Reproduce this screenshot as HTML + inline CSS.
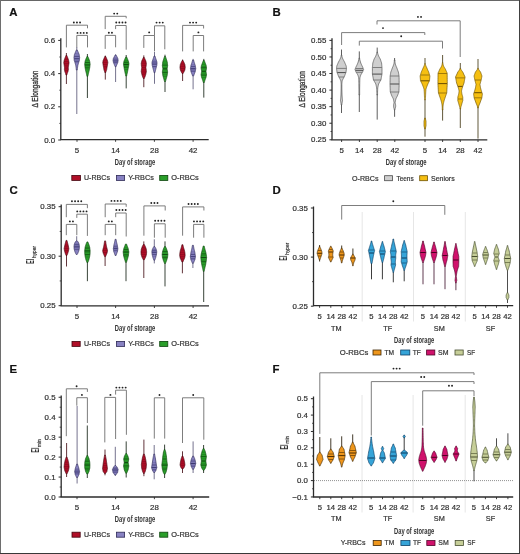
<!DOCTYPE html><html><head><meta charset="utf-8"><style>html,body{margin:0;padding:0;background:#fff}#w{position:relative;width:520px;height:554px;overflow:hidden;background:#fff}svg{position:absolute;left:0;top:0;will-change:transform;filter:blur(0.35px);font-family:"Liberation Sans",sans-serif}</style></head><body><div id="w">
<svg width="520" height="554" viewBox="0 0 520 554">
<rect x="0" y="0" width="520" height="554" fill="#fff"/>
<text x="9.2" y="16.2" font-size="11.4" text-anchor="start" fill="#111" font-weight="bold" stroke="#111" stroke-width="0.2">A</text>
<text x="272.4" y="16.3" font-size="11.4" text-anchor="start" fill="#111" font-weight="bold" stroke="#111" stroke-width="0.2">B</text>
<text x="9.4" y="193.6" font-size="11.4" text-anchor="start" fill="#111" font-weight="bold" stroke="#111" stroke-width="0.2">C</text>
<text x="272.4" y="193.8" font-size="11.4" text-anchor="start" fill="#111" font-weight="bold" stroke="#111" stroke-width="0.2">D</text>
<text x="9.4" y="373.2" font-size="11.4" text-anchor="start" fill="#111" font-weight="bold" stroke="#111" stroke-width="0.2">E</text>
<text x="272.6" y="372.8" font-size="11.4" text-anchor="start" fill="#111" font-weight="bold" stroke="#111" stroke-width="0.2">F</text>
<line x1="60.8" y1="38.3" x2="60.8" y2="139.6" stroke="#2b2b2b" stroke-width="1.3"/>
<line x1="58.199999999999996" y1="140.0" x2="60.8" y2="140.0" stroke="#2b2b2b" stroke-width="1"/>
<line x1="58.199999999999996" y1="106.8" x2="60.8" y2="106.8" stroke="#2b2b2b" stroke-width="1"/>
<line x1="58.199999999999996" y1="73.6" x2="60.8" y2="73.6" stroke="#2b2b2b" stroke-width="1"/>
<line x1="58.199999999999996" y1="40.400000000000006" x2="60.8" y2="40.400000000000006" stroke="#2b2b2b" stroke-width="1"/>
<line x1="59.3" y1="123.4" x2="60.8" y2="123.4" stroke="#2b2b2b" stroke-width="0.8"/>
<line x1="59.3" y1="90.2" x2="60.8" y2="90.2" stroke="#2b2b2b" stroke-width="0.8"/>
<line x1="59.3" y1="57.0" x2="60.8" y2="57.0" stroke="#2b2b2b" stroke-width="0.8"/>
<text x="55.199999999999996" y="142.6" font-size="7.3" text-anchor="end" fill="#333" font-weight="normal" textLength="10.96" lengthAdjust="spacingAndGlyphs" stroke="#333" stroke-width="0.2">0.0</text>
<text x="55.199999999999996" y="109.39999999999999" font-size="7.3" text-anchor="end" fill="#333" font-weight="normal" textLength="10.96" lengthAdjust="spacingAndGlyphs" stroke="#333" stroke-width="0.2">0.2</text>
<text x="55.199999999999996" y="76.19999999999999" font-size="7.3" text-anchor="end" fill="#333" font-weight="normal" textLength="10.96" lengthAdjust="spacingAndGlyphs" stroke="#333" stroke-width="0.2">0.4</text>
<text x="55.199999999999996" y="43.00000000000001" font-size="7.3" text-anchor="end" fill="#333" font-weight="normal" textLength="10.96" lengthAdjust="spacingAndGlyphs" stroke="#333" stroke-width="0.2">0.6</text>
<line x1="60.15" y1="139.6" x2="208.7" y2="139.6" stroke="#2b2b2b" stroke-width="1.3"/>
<line x1="77" y1="139.6" x2="77" y2="141.79999999999998" stroke="#2b2b2b" stroke-width="0.9"/>
<line x1="115.6" y1="139.6" x2="115.6" y2="141.79999999999998" stroke="#2b2b2b" stroke-width="0.9"/>
<line x1="154.4" y1="139.6" x2="154.4" y2="141.79999999999998" stroke="#2b2b2b" stroke-width="0.9"/>
<line x1="193.1" y1="139.6" x2="193.1" y2="141.79999999999998" stroke="#2b2b2b" stroke-width="0.9"/>
<text x="77" y="152.6" font-size="7.3" text-anchor="middle" fill="#333" font-weight="normal" textLength="4.38" lengthAdjust="spacingAndGlyphs" stroke="#333" stroke-width="0.2">5</text>
<text x="115.6" y="152.6" font-size="7.3" text-anchor="middle" fill="#333" font-weight="normal" textLength="8.77" lengthAdjust="spacingAndGlyphs" stroke="#333" stroke-width="0.2">14</text>
<text x="154.4" y="152.6" font-size="7.3" text-anchor="middle" fill="#333" font-weight="normal" textLength="8.77" lengthAdjust="spacingAndGlyphs" stroke="#333" stroke-width="0.2">28</text>
<text x="193.1" y="152.6" font-size="7.3" text-anchor="middle" fill="#333" font-weight="normal" textLength="8.77" lengthAdjust="spacingAndGlyphs" stroke="#333" stroke-width="0.2">42</text>
<text transform="translate(38.3,89) rotate(-90)" x="0" y="0" font-size="9.4" text-anchor="middle" fill="#333" stroke="#333" stroke-width="0.3" textLength="37" lengthAdjust="spacingAndGlyphs">&#916; Elongation</text>
<text x="135" y="165.2" font-size="8.2" text-anchor="middle" fill="#333" font-weight="bold" textLength="40.4" lengthAdjust="spacingAndGlyphs">Day of storage</text>
<rect x="71.80000000000001" y="175.4" width="8.7" height="5.0" fill="#b00f28" stroke="#44040e" stroke-width="0.8"/>
<text x="84" y="180.20000000000002" font-size="7.3" text-anchor="start" fill="#333" font-weight="normal" textLength="26" lengthAdjust="spacingAndGlyphs" stroke="#333" stroke-width="0.2">U-RBCs</text>
<rect x="116.4" y="175.4" width="8.2" height="5.0" fill="#8882c2" stroke="#2e2a56" stroke-width="0.8"/>
<text x="128.2" y="180.20000000000002" font-size="7.3" text-anchor="start" fill="#333" font-weight="normal" textLength="25.6" lengthAdjust="spacingAndGlyphs" stroke="#333" stroke-width="0.2">Y-RBCs</text>
<rect x="159.70000000000002" y="175.4" width="8.099999999999977" height="5.0" fill="#2a9e2a" stroke="#0c440c" stroke-width="0.8"/>
<text x="171.2" y="180.20000000000002" font-size="7.3" text-anchor="start" fill="#333" font-weight="normal" textLength="27.6" lengthAdjust="spacingAndGlyphs" stroke="#333" stroke-width="0.2">O-RBCs</text>
<path d="M66.4,47.4 L66.4,25.2 L87.5,25.2 L87.5,28.3" fill="none" stroke="#6e6e6e" stroke-width="0.9"/>
<circle cx="73.85" cy="22.5" r="0.95" fill="#222"/>
<circle cx="76.95" cy="22.5" r="0.95" fill="#222"/>
<circle cx="80.05" cy="22.5" r="0.95" fill="#222"/>
<path d="M76.8,47.4 L76.8,35.4 L87.5,35.4 L87.5,47.4" fill="none" stroke="#6e6e6e" stroke-width="0.9"/>
<circle cx="77.50" cy="32.9" r="0.95" fill="#222"/>
<circle cx="80.60" cy="32.9" r="0.95" fill="#222"/>
<circle cx="83.70" cy="32.9" r="0.95" fill="#222"/>
<circle cx="86.80" cy="32.9" r="0.95" fill="#222"/>
<path d="M105.2,29.1 L105.2,16.3 L126.2,16.3 L126.2,18.3" fill="none" stroke="#6e6e6e" stroke-width="0.9"/>
<circle cx="114.15" cy="13.6" r="0.95" fill="#222"/>
<circle cx="117.25" cy="13.6" r="0.95" fill="#222"/>
<path d="M115.6,29.1 L115.6,25.5 L126.2,25.5 L126.2,49.7" fill="none" stroke="#6e6e6e" stroke-width="0.9"/>
<circle cx="116.25" cy="22.5" r="0.95" fill="#222"/>
<circle cx="119.35" cy="22.5" r="0.95" fill="#222"/>
<circle cx="122.45" cy="22.5" r="0.95" fill="#222"/>
<circle cx="125.55" cy="22.5" r="0.95" fill="#222"/>
<path d="M105.2,48.9 L105.2,35.4 L115.6,35.4 L115.6,47.3" fill="none" stroke="#6e6e6e" stroke-width="0.9"/>
<circle cx="108.85" cy="32.8" r="0.95" fill="#222"/>
<circle cx="111.95" cy="32.8" r="0.95" fill="#222"/>
<path d="M143.8,47.9 L143.8,35.5 L154.5,35.5 L154.5,51.4" fill="none" stroke="#6e6e6e" stroke-width="0.9"/>
<circle cx="149.15" cy="32.4" r="0.95" fill="#222"/>
<path d="M154.5,35.5 L154.5,25.8 L164.8,25.8 L164.8,49.3" fill="none" stroke="#6e6e6e" stroke-width="0.9"/>
<circle cx="156.55" cy="22.6" r="0.95" fill="#222"/>
<circle cx="159.65" cy="22.6" r="0.95" fill="#222"/>
<circle cx="162.75" cy="22.6" r="0.95" fill="#222"/>
<path d="M182.6,51.4 L182.6,25.4 L203.6,25.4 L203.6,28.5" fill="none" stroke="#6e6e6e" stroke-width="0.9"/>
<circle cx="190.00" cy="22.6" r="0.95" fill="#222"/>
<circle cx="193.10" cy="22.6" r="0.95" fill="#222"/>
<circle cx="196.20" cy="22.6" r="0.95" fill="#222"/>
<path d="M193.2,51.4 L193.2,35.5 L203.6,35.5 L203.6,51.4" fill="none" stroke="#6e6e6e" stroke-width="0.9"/>
<circle cx="198.40" cy="32.4" r="0.95" fill="#222"/>
<line x1="66.4" y1="53" x2="66.4" y2="56.0" stroke="#5a2a30" stroke-width="0.95"/>
<line x1="66.4" y1="74.5" x2="66.4" y2="84" stroke="#5a2a30" stroke-width="0.95"/>
<path d="M66.88,55.50 L67.03,55.90 L67.18,56.30 L67.33,56.70 L67.48,57.10 L67.64,57.50 L67.83,58.00 L68.02,58.50 L68.21,59.00 L68.40,59.50 L68.59,60.00 L68.68,60.56 L68.78,61.12 L68.87,61.68 L68.97,62.24 L69.06,62.80 L68.97,63.34 L68.87,63.88 L68.78,64.42 L68.68,64.96 L68.59,65.50 L68.53,65.90 L68.47,66.30 L68.41,66.70 L68.36,67.10 L68.30,67.50 L68.32,67.90 L68.34,68.30 L68.36,68.70 L68.38,69.10 L68.40,69.50 L68.32,69.90 L68.24,70.30 L68.17,70.70 L68.09,71.10 L68.02,71.50 L67.86,71.90 L67.71,72.30 L67.56,72.70 L67.41,73.10 L67.26,73.50 L67.18,73.80 L67.10,74.10 L67.03,74.40 L66.95,74.70 L66.88,75.00 L65.93,75.00 L65.85,74.70 L65.77,74.40 L65.70,74.10 L65.62,73.80 L65.55,73.50 L65.39,73.10 L65.24,72.70 L65.09,72.30 L64.94,71.90 L64.79,71.50 L64.71,71.10 L64.63,70.70 L64.56,70.30 L64.48,69.90 L64.41,69.50 L64.42,69.10 L64.44,68.70 L64.46,68.30 L64.48,67.90 L64.50,67.50 L64.44,67.10 L64.39,66.70 L64.33,66.30 L64.27,65.90 L64.22,65.50 L64.12,64.96 L64.03,64.42 L63.93,63.88 L63.84,63.34 L63.74,62.80 L63.84,62.24 L63.93,61.68 L64.03,61.12 L64.12,60.56 L64.22,60.00 L64.41,59.50 L64.59,59.00 L64.79,58.50 L64.98,58.00 L65.17,57.50 L65.32,57.10 L65.47,56.70 L65.62,56.30 L65.77,55.90 L65.93,55.50Z" fill="#b00f28" stroke="#44040e" stroke-width="0.65" stroke-linejoin="round"/>
<line x1="64.78" y1="59.30" x2="68.02" y2="59.30" stroke="#44040e" stroke-width="0.45" stroke-opacity="0.55"/>
<line x1="64.26" y1="61.50" x2="68.54" y2="61.50" stroke="#44040e" stroke-width="0.45" stroke-opacity="0.55"/>
<line x1="64.20" y1="63.70" x2="68.60" y2="63.70" stroke="#44040e" stroke-width="0.45" stroke-opacity="0.55"/>
<line x1="64.57" y1="65.90" x2="68.23" y2="65.90" stroke="#44040e" stroke-width="0.45" stroke-opacity="0.55"/>
<line x1="64.77" y1="68.10" x2="68.03" y2="68.10" stroke="#44040e" stroke-width="0.45" stroke-opacity="0.55"/>
<line x1="64.86" y1="70.30" x2="67.94" y2="70.30" stroke="#44040e" stroke-width="0.45" stroke-opacity="0.55"/>
<line x1="76.8" y1="47" x2="76.8" y2="50.5" stroke="#6e6c88" stroke-width="0.95"/>
<line x1="76.8" y1="69.5" x2="76.8" y2="114" stroke="#6e6c88" stroke-width="0.95"/>
<path d="M77.27,50.00 L77.45,50.40 L77.62,50.80 L77.79,51.20 L77.96,51.60 L78.13,52.00 L78.34,52.50 L78.55,53.00 L78.76,53.50 L78.97,54.00 L79.17,54.50 L79.27,55.10 L79.36,55.70 L79.46,56.30 L79.55,56.90 L79.65,57.50 L79.59,58.10 L79.54,58.70 L79.48,59.30 L79.42,59.90 L79.36,60.50 L79.19,61.00 L79.02,61.50 L78.85,62.00 L78.68,62.50 L78.51,63.00 L78.38,63.50 L78.24,64.00 L78.11,64.50 L77.98,65.00 L77.84,65.50 L77.77,66.00 L77.69,66.50 L77.62,67.00 L77.54,67.50 L77.47,68.00 L77.43,68.40 L77.39,68.80 L77.35,69.20 L77.31,69.60 L77.27,70.00 L76.33,70.00 L76.29,69.60 L76.25,69.20 L76.21,68.80 L76.17,68.40 L76.13,68.00 L76.06,67.50 L75.98,67.00 L75.91,66.50 L75.83,66.00 L75.75,65.50 L75.62,65.00 L75.49,64.50 L75.36,64.00 L75.22,63.50 L75.09,63.00 L74.92,62.50 L74.75,62.00 L74.58,61.50 L74.41,61.00 L74.23,60.50 L74.18,59.90 L74.12,59.30 L74.06,58.70 L74.01,58.10 L73.95,57.50 L74.05,56.90 L74.14,56.30 L74.23,55.70 L74.33,55.10 L74.42,54.50 L74.63,54.00 L74.84,53.50 L75.05,53.00 L75.26,52.50 L75.47,52.00 L75.64,51.60 L75.81,51.20 L75.98,50.80 L76.15,50.40 L76.33,50.00Z" fill="#8882c2" stroke="#2e2a56" stroke-width="0.65" stroke-linejoin="round"/>
<line x1="75.02" y1="53.80" x2="78.58" y2="53.80" stroke="#2e2a56" stroke-width="0.45" stroke-opacity="0.55"/>
<line x1="74.49" y1="56.00" x2="79.11" y2="56.00" stroke="#2e2a56" stroke-width="0.45" stroke-opacity="0.55"/>
<line x1="74.32" y1="58.20" x2="79.28" y2="58.20" stroke="#2e2a56" stroke-width="0.45" stroke-opacity="0.55"/>
<line x1="74.53" y1="60.40" x2="79.07" y2="60.40" stroke="#2e2a56" stroke-width="0.45" stroke-opacity="0.55"/>
<line x1="75.25" y1="62.60" x2="78.35" y2="62.60" stroke="#2e2a56" stroke-width="0.45" stroke-opacity="0.55"/>
<line x1="74.35833333333333" y1="56.5" x2="79.24166666666666" y2="56.5" stroke="#36326a" stroke-width="0.55"/>
<line x1="74.3235" y1="58.8" x2="79.2765" y2="58.8" stroke="#36326a" stroke-width="0.9"/>
<line x1="74.827" y1="61.5" x2="78.773" y2="61.5" stroke="#36326a" stroke-width="0.55"/>
<line x1="87.4" y1="54" x2="87.4" y2="57.0" stroke="#2e3a2e" stroke-width="0.95"/>
<line x1="87.4" y1="75.8" x2="87.4" y2="98" stroke="#2e3a2e" stroke-width="0.95"/>
<path d="M87.88,56.50 L88.05,56.90 L88.22,57.30 L88.39,57.70 L88.56,58.10 L88.73,58.50 L88.92,59.00 L89.11,59.50 L89.30,60.00 L89.49,60.50 L89.68,61.00 L89.78,61.64 L89.87,62.28 L89.97,62.92 L90.06,63.56 L90.16,64.20 L90.08,64.86 L90.00,65.52 L89.93,66.18 L89.85,66.84 L89.78,67.50 L89.66,68.10 L89.55,68.70 L89.43,69.30 L89.32,69.90 L89.21,70.50 L89.05,71.10 L88.90,71.70 L88.75,72.30 L88.60,72.90 L88.45,73.50 L88.33,74.06 L88.22,74.62 L88.10,75.18 L87.99,75.74 L87.88,76.30 L86.93,76.30 L86.81,75.74 L86.70,75.18 L86.58,74.62 L86.47,74.06 L86.36,73.50 L86.20,72.90 L86.05,72.30 L85.90,71.70 L85.75,71.10 L85.59,70.50 L85.48,69.90 L85.37,69.30 L85.25,68.70 L85.14,68.10 L85.03,67.50 L84.95,66.84 L84.87,66.18 L84.80,65.52 L84.72,64.86 L84.65,64.20 L84.74,63.56 L84.84,62.92 L84.93,62.28 L85.03,61.64 L85.12,61.00 L85.31,60.50 L85.50,60.00 L85.69,59.50 L85.88,59.00 L86.07,58.50 L86.24,58.10 L86.41,57.70 L86.58,57.30 L86.75,56.90 L86.93,56.50Z" fill="#2a9e2a" stroke="#0c440c" stroke-width="0.65" stroke-linejoin="round"/>
<line x1="85.69" y1="60.30" x2="89.11" y2="60.30" stroke="#0c440c" stroke-width="0.45" stroke-opacity="0.55"/>
<line x1="85.20" y1="62.50" x2="89.60" y2="62.50" stroke="#0c440c" stroke-width="0.45" stroke-opacity="0.55"/>
<line x1="85.00" y1="64.70" x2="89.80" y2="64.70" stroke="#0c440c" stroke-width="0.45" stroke-opacity="0.55"/>
<line x1="85.26" y1="66.90" x2="89.54" y2="66.90" stroke="#0c440c" stroke-width="0.45" stroke-opacity="0.55"/>
<line x1="85.63" y1="69.10" x2="89.17" y2="69.10" stroke="#0c440c" stroke-width="0.45" stroke-opacity="0.55"/>
<line x1="85.14734375" y1="62.5" x2="89.65265625" y2="62.5" stroke="#0c440c" stroke-width="0.55"/>
<line x1="84.98712121212122" y1="65" x2="89.81287878787879" y2="65" stroke="#0c440c" stroke-width="0.9"/>
<line x1="85.33200000000001" y1="67.8" x2="89.468" y2="67.8" stroke="#0c440c" stroke-width="0.55"/>
<line x1="105.3" y1="55.6" x2="105.3" y2="57.0" stroke="#5a2a30" stroke-width="0.95"/>
<line x1="105.3" y1="72.0" x2="105.3" y2="79.6" stroke="#5a2a30" stroke-width="0.95"/>
<path d="M105.77,56.50 L105.95,56.90 L106.12,57.30 L106.29,57.70 L106.46,58.10 L106.63,58.50 L106.80,58.90 L106.97,59.30 L107.14,59.70 L107.31,60.10 L107.48,60.50 L107.56,60.92 L107.64,61.34 L107.71,61.76 L107.79,62.18 L107.86,62.60 L107.79,63.08 L107.71,63.56 L107.64,64.04 L107.56,64.52 L107.48,65.00 L107.39,65.50 L107.30,66.00 L107.20,66.50 L107.10,67.00 L107.01,67.50 L106.95,67.90 L106.90,68.30 L106.84,68.70 L106.78,69.10 L106.72,69.50 L106.63,69.80 L106.53,70.10 L106.44,70.40 L106.34,70.70 L106.25,71.00 L106.16,71.30 L106.06,71.60 L105.97,71.90 L105.87,72.20 L105.77,72.50 L104.83,72.50 L104.73,72.20 L104.63,71.90 L104.54,71.60 L104.44,71.30 L104.35,71.00 L104.25,70.70 L104.16,70.40 L104.06,70.10 L103.97,69.80 L103.88,69.50 L103.82,69.10 L103.76,68.70 L103.70,68.30 L103.65,67.90 L103.59,67.50 L103.50,67.00 L103.40,66.50 L103.30,66.00 L103.21,65.50 L103.11,65.00 L103.04,64.52 L102.96,64.04 L102.89,63.56 L102.81,63.08 L102.73,62.60 L102.81,62.18 L102.89,61.76 L102.96,61.34 L103.04,60.92 L103.11,60.50 L103.29,60.10 L103.46,59.70 L103.63,59.30 L103.80,58.90 L103.97,58.50 L104.14,58.10 L104.31,57.70 L104.48,57.30 L104.65,56.90 L104.83,56.50Z" fill="#b00f28" stroke="#44040e" stroke-width="0.65" stroke-linejoin="round"/>
<line x1="103.59" y1="60.10" x2="107.01" y2="60.10" stroke="#44040e" stroke-width="0.45" stroke-opacity="0.55"/>
<line x1="103.09" y1="62.30" x2="107.51" y2="62.30" stroke="#44040e" stroke-width="0.45" stroke-opacity="0.55"/>
<line x1="103.34" y1="64.50" x2="107.26" y2="64.50" stroke="#44040e" stroke-width="0.45" stroke-opacity="0.55"/>
<line x1="103.74" y1="66.70" x2="106.86" y2="66.70" stroke="#44040e" stroke-width="0.45" stroke-opacity="0.55"/>
<line x1="115.6" y1="54.4" x2="115.6" y2="55.5" stroke="#6e6c88" stroke-width="0.95"/>
<line x1="115.6" y1="66.2" x2="115.6" y2="82" stroke="#6e6c88" stroke-width="0.95"/>
<path d="M116.07,55.00 L116.23,55.30 L116.38,55.60 L116.53,55.90 L116.68,56.20 L116.83,56.50 L117.02,56.86 L117.21,57.22 L117.41,57.58 L117.59,57.94 L117.78,58.30 L117.86,58.70 L117.94,59.10 L118.01,59.50 L118.09,59.90 L118.16,60.30 L118.09,60.74 L118.01,61.18 L117.94,61.62 L117.86,62.06 L117.78,62.50 L117.61,62.90 L117.44,63.30 L117.27,63.70 L117.10,64.10 L116.93,64.50 L116.76,64.94 L116.59,65.38 L116.42,65.82 L116.25,66.26 L116.07,66.70 L115.12,66.70 L114.95,66.26 L114.78,65.82 L114.61,65.38 L114.44,64.94 L114.27,64.50 L114.10,64.10 L113.93,63.70 L113.76,63.30 L113.59,62.90 L113.41,62.50 L113.34,62.06 L113.26,61.62 L113.19,61.18 L113.11,60.74 L113.03,60.30 L113.11,59.90 L113.19,59.50 L113.26,59.10 L113.34,58.70 L113.41,58.30 L113.60,57.94 L113.79,57.58 L113.98,57.22 L114.17,56.86 L114.36,56.50 L114.52,56.20 L114.67,55.90 L114.82,55.60 L114.97,55.30 L115.12,55.00Z" fill="#8882c2" stroke="#2e2a56" stroke-width="0.65" stroke-linejoin="round"/>
<line x1="113.86" y1="58.02" x2="117.34" y2="58.02" stroke="#2e2a56" stroke-width="0.45" stroke-opacity="0.55"/>
<line x1="113.35" y1="60.22" x2="117.85" y2="60.22" stroke="#2e2a56" stroke-width="0.45" stroke-opacity="0.55"/>
<line x1="113.70" y1="62.42" x2="117.50" y2="62.42" stroke="#2e2a56" stroke-width="0.45" stroke-opacity="0.55"/>
<line x1="113.494" y1="59.2" x2="117.70599999999999" y2="59.2" stroke="#36326a" stroke-width="0.55"/>
<line x1="113.40590909090909" y1="61" x2="117.7940909090909" y2="61" stroke="#36326a" stroke-width="0.9"/>
<line x1="113.79325" y1="62.8" x2="117.40674999999999" y2="62.8" stroke="#36326a" stroke-width="0.55"/>
<line x1="126.2" y1="55" x2="126.2" y2="57.5" stroke="#2e3a2e" stroke-width="0.95"/>
<line x1="126.2" y1="75.5" x2="126.2" y2="88.4" stroke="#2e3a2e" stroke-width="0.95"/>
<path d="M126.67,57.00 L126.85,57.40 L127.02,57.80 L127.19,58.20 L127.36,58.60 L127.53,59.00 L127.72,59.46 L127.91,59.92 L128.10,60.38 L128.29,60.84 L128.48,61.30 L128.57,61.80 L128.67,62.30 L128.77,62.80 L128.86,63.30 L128.96,63.80 L128.88,64.34 L128.80,64.88 L128.73,65.42 L128.65,65.96 L128.57,66.50 L128.46,67.10 L128.35,67.70 L128.23,68.30 L128.12,68.90 L128.00,69.50 L127.89,70.10 L127.78,70.70 L127.66,71.30 L127.55,71.90 L127.44,72.50 L127.34,72.90 L127.25,73.30 L127.15,73.70 L127.06,74.10 L126.96,74.50 L126.90,74.80 L126.85,75.10 L126.79,75.40 L126.73,75.70 L126.67,76.00 L125.73,76.00 L125.67,75.70 L125.61,75.40 L125.55,75.10 L125.50,74.80 L125.44,74.50 L125.34,74.10 L125.25,73.70 L125.16,73.30 L125.06,72.90 L124.97,72.50 L124.85,71.90 L124.74,71.30 L124.62,70.70 L124.51,70.10 L124.39,69.50 L124.28,68.90 L124.17,68.30 L124.05,67.70 L123.94,67.10 L123.83,66.50 L123.75,65.96 L123.67,65.42 L123.60,64.88 L123.52,64.34 L123.45,63.80 L123.54,63.30 L123.64,62.80 L123.73,62.30 L123.83,61.80 L123.92,61.30 L124.11,60.84 L124.30,60.38 L124.49,59.92 L124.68,59.46 L124.87,59.00 L125.04,58.60 L125.21,58.20 L125.38,57.80 L125.55,57.40 L125.73,57.00Z" fill="#2a9e2a" stroke="#0c440c" stroke-width="0.65" stroke-linejoin="round"/>
<line x1="124.46" y1="60.72" x2="127.94" y2="60.72" stroke="#0c440c" stroke-width="0.45" stroke-opacity="0.55"/>
<line x1="123.91" y1="62.92" x2="128.49" y2="62.92" stroke="#0c440c" stroke-width="0.45" stroke-opacity="0.55"/>
<line x1="123.93" y1="65.12" x2="128.47" y2="65.12" stroke="#0c440c" stroke-width="0.45" stroke-opacity="0.55"/>
<line x1="124.28" y1="67.32" x2="128.12" y2="67.32" stroke="#0c440c" stroke-width="0.45" stroke-opacity="0.55"/>
<line x1="124.70" y1="69.52" x2="127.70" y2="69.52" stroke="#0c440c" stroke-width="0.45" stroke-opacity="0.55"/>
<line x1="123.98" y1="62.3" x2="128.42000000000002" y2="62.3" stroke="#0c440c" stroke-width="0.55"/>
<line x1="123.79351851851852" y1="64.5" x2="128.6064814814815" y2="64.5" stroke="#0c440c" stroke-width="0.9"/>
<line x1="124.17" y1="67" x2="128.23" y2="67" stroke="#0c440c" stroke-width="0.55"/>
<line x1="143.8" y1="55.4" x2="143.8" y2="58.0" stroke="#5a2a30" stroke-width="0.95"/>
<line x1="143.8" y1="78.0" x2="143.8" y2="87.2" stroke="#5a2a30" stroke-width="0.95"/>
<path d="M144.28,57.50 L144.41,57.80 L144.54,58.10 L144.67,58.40 L144.81,58.70 L144.94,59.00 L145.13,59.40 L145.32,59.80 L145.51,60.20 L145.70,60.60 L145.89,61.00 L145.99,61.50 L146.08,62.00 L146.18,62.50 L146.27,63.00 L146.37,63.50 L146.33,64.00 L146.29,64.50 L146.25,65.00 L146.21,65.50 L146.18,66.00 L146.12,66.30 L146.06,66.60 L146.00,66.90 L145.95,67.20 L145.89,67.50 L145.95,67.90 L146.00,68.30 L146.06,68.70 L146.12,69.10 L146.18,69.50 L146.21,69.90 L146.25,70.30 L146.29,70.70 L146.33,71.10 L146.37,71.50 L146.27,72.00 L146.18,72.50 L146.08,73.00 L145.99,73.50 L145.89,74.00 L145.74,74.50 L145.59,75.00 L145.43,75.50 L145.28,76.00 L145.13,76.50 L144.96,76.90 L144.79,77.30 L144.62,77.70 L144.45,78.10 L144.28,78.50 L143.33,78.50 L143.15,78.10 L142.98,77.70 L142.81,77.30 L142.64,76.90 L142.47,76.50 L142.32,76.00 L142.17,75.50 L142.01,75.00 L141.86,74.50 L141.71,74.00 L141.62,73.50 L141.52,73.00 L141.43,72.50 L141.33,72.00 L141.24,71.50 L141.27,71.10 L141.31,70.70 L141.35,70.30 L141.39,69.90 L141.43,69.50 L141.48,69.10 L141.54,68.70 L141.60,68.30 L141.65,67.90 L141.71,67.50 L141.65,67.20 L141.60,66.90 L141.54,66.60 L141.48,66.30 L141.43,66.00 L141.39,65.50 L141.35,65.00 L141.31,64.50 L141.27,64.00 L141.24,63.50 L141.33,63.00 L141.43,62.50 L141.52,62.00 L141.62,61.50 L141.71,61.00 L141.90,60.60 L142.09,60.20 L142.28,59.80 L142.47,59.40 L142.66,59.00 L142.79,58.70 L142.93,58.40 L143.06,58.10 L143.19,57.80 L143.33,57.50Z" fill="#b00f28" stroke="#44040e" stroke-width="0.65" stroke-linejoin="round"/>
<line x1="142.01" y1="61.00" x2="145.59" y2="61.00" stroke="#44040e" stroke-width="0.45" stroke-opacity="0.55"/>
<line x1="141.59" y1="63.20" x2="146.01" y2="63.20" stroke="#44040e" stroke-width="0.45" stroke-opacity="0.55"/>
<line x1="141.68" y1="65.40" x2="145.92" y2="65.40" stroke="#44040e" stroke-width="0.45" stroke-opacity="0.55"/>
<line x1="142.00" y1="67.60" x2="145.60" y2="67.60" stroke="#44040e" stroke-width="0.45" stroke-opacity="0.55"/>
<line x1="141.70" y1="69.80" x2="145.90" y2="69.80" stroke="#44040e" stroke-width="0.45" stroke-opacity="0.55"/>
<line x1="141.63" y1="72.00" x2="145.97" y2="72.00" stroke="#44040e" stroke-width="0.45" stroke-opacity="0.55"/>
<line x1="142.07" y1="74.20" x2="145.53" y2="74.20" stroke="#44040e" stroke-width="0.45" stroke-opacity="0.55"/>
<line x1="154.5" y1="52" x2="154.5" y2="56.5" stroke="#6e6c88" stroke-width="0.95"/>
<line x1="154.5" y1="72.2" x2="154.5" y2="83.8" stroke="#6e6c88" stroke-width="0.95"/>
<path d="M154.97,56.00 L155.13,56.50 L155.28,57.00 L155.43,57.50 L155.58,58.00 L155.74,58.50 L155.93,59.00 L156.12,59.50 L156.31,60.00 L156.50,60.50 L156.69,61.00 L156.76,61.40 L156.84,61.80 L156.91,62.20 L156.99,62.60 L157.06,63.00 L157.01,63.50 L156.95,64.00 L156.89,64.50 L156.84,65.00 L156.78,65.50 L156.65,66.00 L156.51,66.50 L156.38,67.00 L156.25,67.50 L156.12,68.00 L155.98,68.50 L155.85,69.00 L155.72,69.50 L155.58,70.00 L155.45,70.50 L155.35,70.94 L155.26,71.38 L155.16,71.82 L155.07,72.26 L154.97,72.70 L154.03,72.70 L153.93,72.26 L153.84,71.82 L153.74,71.38 L153.65,70.94 L153.55,70.50 L153.42,70.00 L153.28,69.50 L153.15,69.00 L153.02,68.50 L152.88,68.00 L152.75,67.50 L152.62,67.00 L152.49,66.50 L152.35,66.00 L152.22,65.50 L152.16,65.00 L152.11,64.50 L152.05,64.00 L151.99,63.50 L151.94,63.00 L152.01,62.60 L152.09,62.20 L152.16,61.80 L152.24,61.40 L152.31,61.00 L152.50,60.50 L152.69,60.00 L152.88,59.50 L153.07,59.00 L153.26,58.50 L153.42,58.00 L153.57,57.50 L153.72,57.00 L153.87,56.50 L154.03,56.00Z" fill="#8882c2" stroke="#2e2a56" stroke-width="0.65" stroke-linejoin="round"/>
<line x1="152.88" y1="60.30" x2="156.12" y2="60.30" stroke="#2e2a56" stroke-width="0.45" stroke-opacity="0.55"/>
<line x1="152.33" y1="62.50" x2="156.67" y2="62.50" stroke="#2e2a56" stroke-width="0.45" stroke-opacity="0.55"/>
<line x1="152.43" y1="64.70" x2="156.57" y2="64.70" stroke="#2e2a56" stroke-width="0.45" stroke-opacity="0.55"/>
<line x1="152.89" y1="66.90" x2="156.11" y2="66.90" stroke="#2e2a56" stroke-width="0.45" stroke-opacity="0.55"/>
<line x1="152.413" y1="61.8" x2="156.587" y2="61.8" stroke="#36326a" stroke-width="0.55"/>
<line x1="152.299" y1="64" x2="156.701" y2="64" stroke="#36326a" stroke-width="0.9"/>
<line x1="152.736" y1="66.5" x2="156.264" y2="66.5" stroke="#36326a" stroke-width="0.55"/>
<line x1="165.0" y1="54.7" x2="165.0" y2="57.0" stroke="#2e3a2e" stroke-width="0.95"/>
<line x1="165.0" y1="81.0" x2="165.0" y2="92" stroke="#2e3a2e" stroke-width="0.95"/>
<path d="M165.47,56.50 L165.65,57.00 L165.82,57.50 L165.99,58.00 L166.16,58.50 L166.33,59.00 L166.52,59.60 L166.71,60.20 L166.90,60.80 L167.09,61.40 L167.28,62.00 L167.36,62.76 L167.43,63.52 L167.51,64.28 L167.58,65.04 L167.66,65.80 L167.56,66.40 L167.47,67.00 L167.38,67.60 L167.28,68.20 L167.19,68.80 L167.28,69.44 L167.38,70.08 L167.47,70.72 L167.56,71.36 L167.66,72.00 L167.56,72.70 L167.47,73.40 L167.38,74.10 L167.28,74.80 L167.19,75.50 L167.01,76.10 L166.84,76.70 L166.67,77.30 L166.50,77.90 L166.33,78.50 L166.16,79.10 L165.99,79.70 L165.82,80.30 L165.65,80.90 L165.47,81.50 L164.53,81.50 L164.35,80.90 L164.18,80.30 L164.01,79.70 L163.84,79.10 L163.67,78.50 L163.50,77.90 L163.33,77.30 L163.16,76.70 L162.99,76.10 L162.81,75.50 L162.72,74.80 L162.62,74.10 L162.53,73.40 L162.44,72.70 L162.34,72.00 L162.44,71.36 L162.53,70.72 L162.62,70.08 L162.72,69.44 L162.81,68.80 L162.72,68.20 L162.62,67.60 L162.53,67.00 L162.44,66.40 L162.34,65.80 L162.42,65.04 L162.49,64.28 L162.57,63.52 L162.64,62.76 L162.72,62.00 L162.91,61.40 L163.10,60.80 L163.29,60.20 L163.48,59.60 L163.67,59.00 L163.84,58.50 L164.01,58.00 L164.18,57.50 L164.35,57.00 L164.53,56.50Z" fill="#2a9e2a" stroke="#0c440c" stroke-width="0.65" stroke-linejoin="round"/>
<line x1="163.34" y1="61.00" x2="166.66" y2="61.00" stroke="#0c440c" stroke-width="0.45" stroke-opacity="0.55"/>
<line x1="162.90" y1="63.20" x2="167.10" y2="63.20" stroke="#0c440c" stroke-width="0.45" stroke-opacity="0.55"/>
<line x1="162.68" y1="65.40" x2="167.32" y2="65.40" stroke="#0c440c" stroke-width="0.45" stroke-opacity="0.55"/>
<line x1="162.93" y1="67.60" x2="167.07" y2="67.60" stroke="#0c440c" stroke-width="0.45" stroke-opacity="0.55"/>
<line x1="162.97" y1="69.80" x2="167.03" y2="69.80" stroke="#0c440c" stroke-width="0.45" stroke-opacity="0.55"/>
<line x1="162.64" y1="72.00" x2="167.36" y2="72.00" stroke="#0c440c" stroke-width="0.45" stroke-opacity="0.55"/>
<line x1="162.94" y1="74.20" x2="167.06" y2="74.20" stroke="#0c440c" stroke-width="0.45" stroke-opacity="0.55"/>
<line x1="163.37" y1="76.40" x2="166.63" y2="76.40" stroke="#0c440c" stroke-width="0.45" stroke-opacity="0.55"/>
<line x1="162.67" y1="65" x2="167.33" y2="65" stroke="#0c440c" stroke-width="0.55"/>
<line x1="163.065" y1="68.8" x2="166.935" y2="68.8" stroke="#0c440c" stroke-width="0.9"/>
<line x1="162.65785714285715" y1="72.5" x2="167.34214285714285" y2="72.5" stroke="#0c440c" stroke-width="0.55"/>
<line x1="182.6" y1="59.5" x2="182.6" y2="61.0" stroke="#5a2a30" stroke-width="0.95"/>
<line x1="182.6" y1="73.0" x2="182.6" y2="81" stroke="#5a2a30" stroke-width="0.95"/>
<path d="M183.07,60.50 L183.26,60.90 L183.45,61.30 L183.64,61.70 L183.84,62.10 L184.03,62.50 L184.20,62.90 L184.37,63.30 L184.54,63.70 L184.71,64.10 L184.88,64.50 L184.96,65.04 L185.03,65.58 L185.11,66.12 L185.18,66.66 L185.26,67.20 L185.18,67.76 L185.11,68.32 L185.03,68.88 L184.96,69.44 L184.88,70.00 L184.69,70.40 L184.50,70.80 L184.31,71.20 L184.12,71.60 L183.93,72.00 L183.76,72.30 L183.59,72.60 L183.42,72.90 L183.25,73.20 L183.07,73.50 L182.12,73.50 L181.95,73.20 L181.78,72.90 L181.61,72.60 L181.44,72.30 L181.27,72.00 L181.08,71.60 L180.89,71.20 L180.70,70.80 L180.51,70.40 L180.32,70.00 L180.24,69.44 L180.17,68.88 L180.09,68.32 L180.02,67.76 L179.94,67.20 L180.02,66.66 L180.09,66.12 L180.17,65.58 L180.24,65.04 L180.32,64.50 L180.49,64.10 L180.66,63.70 L180.83,63.30 L181.00,62.90 L181.17,62.50 L181.36,62.10 L181.56,61.70 L181.75,61.30 L181.94,60.90 L182.12,60.50Z" fill="#b00f28" stroke="#44040e" stroke-width="0.65" stroke-linejoin="round"/>
<line x1="180.79" y1="64.10" x2="184.41" y2="64.10" stroke="#44040e" stroke-width="0.45" stroke-opacity="0.55"/>
<line x1="180.37" y1="66.30" x2="184.83" y2="66.30" stroke="#44040e" stroke-width="0.45" stroke-opacity="0.55"/>
<line x1="180.42" y1="68.50" x2="184.78" y2="68.50" stroke="#44040e" stroke-width="0.45" stroke-opacity="0.55"/>
<line x1="180.95" y1="70.70" x2="184.25" y2="70.70" stroke="#44040e" stroke-width="0.45" stroke-opacity="0.55"/>
<line x1="193.1" y1="58.9" x2="193.1" y2="60.5" stroke="#6e6c88" stroke-width="0.95"/>
<line x1="193.1" y1="75.5" x2="193.1" y2="89.3" stroke="#6e6c88" stroke-width="0.95"/>
<path d="M193.57,60.00 L193.75,60.60 L193.92,61.20 L194.09,61.80 L194.26,62.40 L194.43,63.00 L194.60,63.50 L194.77,64.00 L194.94,64.50 L195.11,65.00 L195.28,65.50 L195.38,66.10 L195.47,66.70 L195.57,67.30 L195.66,67.90 L195.76,68.50 L195.66,69.10 L195.57,69.70 L195.47,70.30 L195.38,70.90 L195.28,71.50 L195.09,72.00 L194.91,72.50 L194.72,73.00 L194.53,73.50 L194.34,74.00 L194.18,74.40 L194.03,74.80 L193.88,75.20 L193.73,75.60 L193.57,76.00 L192.62,76.00 L192.47,75.60 L192.32,75.20 L192.17,74.80 L192.02,74.40 L191.86,74.00 L191.67,73.50 L191.48,73.00 L191.29,72.50 L191.10,72.00 L190.91,71.50 L190.82,70.90 L190.72,70.30 L190.63,69.70 L190.53,69.10 L190.44,68.50 L190.53,67.90 L190.63,67.30 L190.72,66.70 L190.82,66.10 L190.91,65.50 L191.09,65.00 L191.26,64.50 L191.43,64.00 L191.60,63.50 L191.77,63.00 L191.94,62.40 L192.11,61.80 L192.28,61.20 L192.45,60.60 L192.62,60.00Z" fill="#8882c2" stroke="#2e2a56" stroke-width="0.65" stroke-linejoin="round"/>
<line x1="191.45" y1="64.80" x2="194.75" y2="64.80" stroke="#2e2a56" stroke-width="0.45" stroke-opacity="0.55"/>
<line x1="190.98" y1="67.00" x2="195.22" y2="67.00" stroke="#2e2a56" stroke-width="0.45" stroke-opacity="0.55"/>
<line x1="190.85" y1="69.20" x2="195.35" y2="69.20" stroke="#2e2a56" stroke-width="0.45" stroke-opacity="0.55"/>
<line x1="191.20" y1="71.40" x2="195.00" y2="71.40" stroke="#2e2a56" stroke-width="0.45" stroke-opacity="0.55"/>
<line x1="191.00666666666666" y1="66.5" x2="195.19333333333333" y2="66.5" stroke="#36326a" stroke-width="0.55"/>
<line x1="190.72166666666666" y1="68.7" x2="195.47833333333332" y2="68.7" stroke="#36326a" stroke-width="0.9"/>
<line x1="191.08583333333334" y1="71" x2="195.11416666666665" y2="71" stroke="#36326a" stroke-width="0.55"/>
<line x1="203.8" y1="58.9" x2="203.8" y2="61.0" stroke="#2e3a2e" stroke-width="0.95"/>
<line x1="203.8" y1="82.0" x2="203.8" y2="97.6" stroke="#2e3a2e" stroke-width="0.95"/>
<path d="M204.28,60.50 L204.47,61.00 L204.66,61.50 L204.84,62.00 L205.04,62.50 L205.23,63.00 L205.42,63.50 L205.61,64.00 L205.80,64.50 L205.99,65.00 L206.18,65.50 L206.25,65.98 L206.33,66.46 L206.40,66.94 L206.48,67.42 L206.56,67.90 L206.44,68.58 L206.33,69.26 L206.21,69.94 L206.10,70.62 L205.99,71.30 L206.10,72.00 L206.21,72.70 L206.33,73.40 L206.44,74.10 L206.56,74.80 L206.44,75.34 L206.33,75.88 L206.21,76.42 L206.10,76.96 L205.99,77.50 L205.80,78.00 L205.61,78.50 L205.42,79.00 L205.23,79.50 L205.04,80.00 L204.88,80.50 L204.73,81.00 L204.58,81.50 L204.43,82.00 L204.28,82.50 L203.33,82.50 L203.17,82.00 L203.02,81.50 L202.87,81.00 L202.72,80.50 L202.56,80.00 L202.38,79.50 L202.19,79.00 L202.00,78.50 L201.81,78.00 L201.62,77.50 L201.50,76.96 L201.39,76.42 L201.27,75.88 L201.16,75.34 L201.05,74.80 L201.16,74.10 L201.27,73.40 L201.39,72.70 L201.50,72.00 L201.62,71.30 L201.50,70.62 L201.39,69.94 L201.27,69.26 L201.16,68.58 L201.05,67.90 L201.12,67.42 L201.20,66.94 L201.27,66.46 L201.35,65.98 L201.43,65.50 L201.62,65.00 L201.81,64.50 L202.00,64.00 L202.19,63.50 L202.38,63.00 L202.56,62.50 L202.76,62.00 L202.95,61.50 L203.14,61.00 L203.33,60.50Z" fill="#2a9e2a" stroke="#0c440c" stroke-width="0.65" stroke-linejoin="round"/>
<line x1="202.18" y1="64.30" x2="205.42" y2="64.30" stroke="#0c440c" stroke-width="0.45" stroke-opacity="0.55"/>
<line x1="201.57" y1="66.50" x2="206.03" y2="66.50" stroke="#0c440c" stroke-width="0.45" stroke-opacity="0.55"/>
<line x1="201.48" y1="68.70" x2="206.12" y2="68.70" stroke="#0c440c" stroke-width="0.45" stroke-opacity="0.55"/>
<line x1="201.85" y1="70.90" x2="205.75" y2="70.90" stroke="#0c440c" stroke-width="0.45" stroke-opacity="0.55"/>
<line x1="201.62" y1="73.10" x2="205.98" y2="73.10" stroke="#0c440c" stroke-width="0.45" stroke-opacity="0.55"/>
<line x1="201.45" y1="75.30" x2="206.15" y2="75.30" stroke="#0c440c" stroke-width="0.45" stroke-opacity="0.55"/>
<line x1="201.92" y1="77.50" x2="205.69" y2="77.50" stroke="#0c440c" stroke-width="0.45" stroke-opacity="0.55"/>
<line x1="201.35833333333335" y1="67.5" x2="206.24166666666667" y2="67.5" stroke="#0c440c" stroke-width="0.55"/>
<line x1="201.865" y1="71.3" x2="205.735" y2="71.3" stroke="#0c440c" stroke-width="0.9"/>
<line x1="201.33722222222224" y1="75" x2="206.26277777777779" y2="75" stroke="#0c440c" stroke-width="0.55"/>
<line x1="332" y1="38.3" x2="332" y2="139.8" stroke="#2b2b2b" stroke-width="1.3"/>
<line x1="329.4" y1="139.79000000000002" x2="332" y2="139.79000000000002" stroke="#2b2b2b" stroke-width="1"/>
<line x1="329.4" y1="123.22500000000002" x2="332" y2="123.22500000000002" stroke="#2b2b2b" stroke-width="1"/>
<line x1="329.4" y1="106.66000000000003" x2="332" y2="106.66000000000003" stroke="#2b2b2b" stroke-width="1"/>
<line x1="329.4" y1="90.095" x2="332" y2="90.095" stroke="#2b2b2b" stroke-width="1"/>
<line x1="329.4" y1="73.53" x2="332" y2="73.53" stroke="#2b2b2b" stroke-width="1"/>
<line x1="329.4" y1="56.96500000000002" x2="332" y2="56.96500000000002" stroke="#2b2b2b" stroke-width="1"/>
<line x1="329.4" y1="40.4" x2="332" y2="40.4" stroke="#2b2b2b" stroke-width="1"/>
<line x1="330.5" y1="131.50750000000002" x2="332" y2="131.50750000000002" stroke="#2b2b2b" stroke-width="0.8"/>
<line x1="330.5" y1="114.94250000000002" x2="332" y2="114.94250000000002" stroke="#2b2b2b" stroke-width="0.8"/>
<line x1="330.5" y1="98.37750000000001" x2="332" y2="98.37750000000001" stroke="#2b2b2b" stroke-width="0.8"/>
<line x1="330.5" y1="81.81250000000003" x2="332" y2="81.81250000000003" stroke="#2b2b2b" stroke-width="0.8"/>
<line x1="330.5" y1="65.24750000000002" x2="332" y2="65.24750000000002" stroke="#2b2b2b" stroke-width="0.8"/>
<line x1="330.5" y1="48.682500000000005" x2="332" y2="48.682500000000005" stroke="#2b2b2b" stroke-width="0.8"/>
<text x="326.4" y="142.39000000000001" font-size="7.3" text-anchor="end" fill="#333" font-weight="normal" textLength="15.34" lengthAdjust="spacingAndGlyphs" stroke="#333" stroke-width="0.2">0.25</text>
<text x="326.4" y="125.82500000000002" font-size="7.3" text-anchor="end" fill="#333" font-weight="normal" textLength="15.34" lengthAdjust="spacingAndGlyphs" stroke="#333" stroke-width="0.2">0.30</text>
<text x="326.4" y="109.26000000000002" font-size="7.3" text-anchor="end" fill="#333" font-weight="normal" textLength="15.34" lengthAdjust="spacingAndGlyphs" stroke="#333" stroke-width="0.2">0.35</text>
<text x="326.4" y="92.695" font-size="7.3" text-anchor="end" fill="#333" font-weight="normal" textLength="15.34" lengthAdjust="spacingAndGlyphs" stroke="#333" stroke-width="0.2">0.40</text>
<text x="326.4" y="76.13" font-size="7.3" text-anchor="end" fill="#333" font-weight="normal" textLength="15.34" lengthAdjust="spacingAndGlyphs" stroke="#333" stroke-width="0.2">0.45</text>
<text x="326.4" y="59.56500000000002" font-size="7.3" text-anchor="end" fill="#333" font-weight="normal" textLength="15.34" lengthAdjust="spacingAndGlyphs" stroke="#333" stroke-width="0.2">0.50</text>
<text x="326.4" y="43.0" font-size="7.3" text-anchor="end" fill="#333" font-weight="normal" textLength="15.34" lengthAdjust="spacingAndGlyphs" stroke="#333" stroke-width="0.2">0.55</text>
<line x1="331.35" y1="139.8" x2="487.3" y2="139.8" stroke="#2b2b2b" stroke-width="1.3"/>
<line x1="341.6" y1="139.8" x2="341.6" y2="142.0" stroke="#2b2b2b" stroke-width="0.9"/>
<line x1="359.4" y1="139.8" x2="359.4" y2="142.0" stroke="#2b2b2b" stroke-width="0.9"/>
<line x1="377.2" y1="139.8" x2="377.2" y2="142.0" stroke="#2b2b2b" stroke-width="0.9"/>
<line x1="394.8" y1="139.8" x2="394.8" y2="142.0" stroke="#2b2b2b" stroke-width="0.9"/>
<line x1="425.0" y1="139.8" x2="425.0" y2="142.0" stroke="#2b2b2b" stroke-width="0.9"/>
<line x1="442.6" y1="139.8" x2="442.6" y2="142.0" stroke="#2b2b2b" stroke-width="0.9"/>
<line x1="460.3" y1="139.8" x2="460.3" y2="142.0" stroke="#2b2b2b" stroke-width="0.9"/>
<line x1="478.0" y1="139.8" x2="478.0" y2="142.0" stroke="#2b2b2b" stroke-width="0.9"/>
<text x="341.6" y="153" font-size="7.3" text-anchor="middle" fill="#333" font-weight="normal" textLength="4.38" lengthAdjust="spacingAndGlyphs" stroke="#333" stroke-width="0.2">5</text>
<text x="359.4" y="153" font-size="7.3" text-anchor="middle" fill="#333" font-weight="normal" textLength="8.77" lengthAdjust="spacingAndGlyphs" stroke="#333" stroke-width="0.2">14</text>
<text x="377.2" y="153" font-size="7.3" text-anchor="middle" fill="#333" font-weight="normal" textLength="8.77" lengthAdjust="spacingAndGlyphs" stroke="#333" stroke-width="0.2">28</text>
<text x="394.8" y="153" font-size="7.3" text-anchor="middle" fill="#333" font-weight="normal" textLength="8.77" lengthAdjust="spacingAndGlyphs" stroke="#333" stroke-width="0.2">42</text>
<text x="425.0" y="153" font-size="7.3" text-anchor="middle" fill="#333" font-weight="normal" textLength="4.38" lengthAdjust="spacingAndGlyphs" stroke="#333" stroke-width="0.2">5</text>
<text x="442.6" y="153" font-size="7.3" text-anchor="middle" fill="#333" font-weight="normal" textLength="8.77" lengthAdjust="spacingAndGlyphs" stroke="#333" stroke-width="0.2">14</text>
<text x="460.3" y="153" font-size="7.3" text-anchor="middle" fill="#333" font-weight="normal" textLength="8.77" lengthAdjust="spacingAndGlyphs" stroke="#333" stroke-width="0.2">28</text>
<text x="478.0" y="153" font-size="7.3" text-anchor="middle" fill="#333" font-weight="normal" textLength="8.77" lengthAdjust="spacingAndGlyphs" stroke="#333" stroke-width="0.2">42</text>
<text transform="translate(304.7,89.3) rotate(-90)" x="0" y="0" font-size="9.0" text-anchor="middle" fill="#333" stroke="#333" stroke-width="0.3" textLength="36.4" lengthAdjust="spacingAndGlyphs">&#916; Elongation</text>
<text x="406.2" y="165.2" font-size="8.2" text-anchor="middle" fill="#333" font-weight="bold" textLength="40.7" lengthAdjust="spacingAndGlyphs">Day of storage</text>
<text x="352" y="180.50000000000003" font-size="7.3" text-anchor="start" fill="#333" font-weight="normal" textLength="26.5" lengthAdjust="spacingAndGlyphs" stroke="#333" stroke-width="0.2">O-RBCs</text>
<rect x="384.59999999999997" y="175.70000000000002" width="7.899999999999989" height="5.0" fill="#cfcfcf" stroke="#4a4a4a" stroke-width="0.8"/>
<text x="396.4" y="180.50000000000003" font-size="7.3" text-anchor="start" fill="#333" font-weight="normal" textLength="17.3" lengthAdjust="spacingAndGlyphs" stroke="#333" stroke-width="0.2">Teens</text>
<rect x="419.7" y="175.70000000000002" width="7.7" height="5.0" fill="#f5bf12" stroke="#6e5200" stroke-width="0.8"/>
<text x="431" y="180.50000000000003" font-size="7.3" text-anchor="start" fill="#333" font-weight="normal" textLength="23.7" lengthAdjust="spacingAndGlyphs" stroke="#333" stroke-width="0.2">Seniors</text>
<path d="M377.0,24.5 L377.0,20.8 L460.2,20.8 L460.2,57" fill="none" stroke="#6e6e6e" stroke-width="0.9"/>
<circle cx="417.95" cy="16.9" r="0.95" fill="#222"/>
<circle cx="421.05" cy="16.9" r="0.95" fill="#222"/>
<path d="M341.6,45 L341.6,32.6 L424.8,32.6 L424.8,35" fill="none" stroke="#6e6e6e" stroke-width="0.9"/>
<circle cx="383.00" cy="28.1" r="0.95" fill="#222"/>
<path d="M359.3,45.6 L359.3,41.2 L442.5,41.2 L442.5,48.5" fill="none" stroke="#6e6e6e" stroke-width="0.9"/>
<circle cx="401.20" cy="36.3" r="0.95" fill="#222"/>
<line x1="341.5" y1="49.5" x2="341.5" y2="55.5" stroke="#555" stroke-width="0.95"/>
<line x1="341.5" y1="104.5" x2="341.5" y2="113" stroke="#555" stroke-width="0.95"/>
<path d="M341.85,55.00 L341.85,55.60 L341.91,56.20 L342.07,56.80 L342.24,57.40 L342.43,58.00 L342.79,58.80 L343.19,59.60 L343.61,60.40 L344.06,61.20 L344.53,62.00 L344.85,62.80 L345.18,63.60 L345.52,64.40 L345.87,65.20 L346.22,66.00 L346.28,66.48 L346.33,66.96 L346.39,67.44 L346.44,67.92 L346.50,68.40 L346.39,69.24 L346.28,70.08 L346.17,70.92 L346.06,71.76 L345.95,72.60 L345.57,73.48 L345.21,74.36 L344.85,75.24 L344.51,76.12 L344.18,77.00 L343.72,77.76 L343.29,78.52 L342.89,79.28 L342.51,80.04 L342.18,80.80 L342.09,81.64 L342.00,82.48 L341.91,83.32 L341.85,84.16 L341.85,85.00 L341.85,87.00 L341.86,89.00 L341.91,91.00 L341.97,93.00 L342.03,95.00 L342.12,96.14 L342.21,97.28 L342.31,98.42 L342.41,99.56 L342.51,100.70 L342.34,101.56 L342.18,102.42 L342.03,103.28 L341.88,104.14 L341.85,105.00 L341.15,105.00 L341.12,104.14 L340.97,103.28 L340.82,102.42 L340.66,101.56 L340.49,100.70 L340.59,99.56 L340.69,98.42 L340.79,97.28 L340.88,96.14 L340.97,95.00 L341.03,93.00 L341.09,91.00 L341.14,89.00 L341.15,87.00 L341.15,85.00 L341.15,84.16 L341.09,83.32 L341.00,82.48 L340.91,81.64 L340.82,80.80 L340.49,80.04 L340.11,79.28 L339.71,78.52 L339.28,77.76 L338.82,77.00 L338.49,76.12 L338.15,75.24 L337.79,74.36 L337.43,73.48 L337.05,72.60 L336.94,71.76 L336.83,70.92 L336.72,70.08 L336.61,69.24 L336.50,68.40 L336.56,67.92 L336.61,67.44 L336.67,66.96 L336.72,66.48 L336.78,66.00 L337.13,65.20 L337.48,64.40 L337.82,63.60 L338.15,62.80 L338.47,62.00 L338.94,61.20 L339.39,60.40 L339.81,59.60 L340.21,58.80 L340.57,58.00 L340.76,57.40 L340.93,56.80 L341.09,56.20 L341.15,55.60 L341.15,55.00Z" fill="#cfcfcf" stroke="#4a4a4a" stroke-width="0.65" stroke-linejoin="round"/>
<line x1="336.75" y1="68.4" x2="346.25" y2="68.4" stroke="#3a3a3a" stroke-width="0.55"/>
<line x1="337.3008918519686" y1="72.6" x2="345.6991081480314" y2="72.6" stroke="#3a3a3a" stroke-width="0.9"/>
<line x1="339.07316274536635" y1="77" x2="343.92683725463365" y2="77" stroke="#3a3a3a" stroke-width="0.55"/>
<line x1="359.3" y1="51.4" x2="359.3" y2="58.5" stroke="#555" stroke-width="0.95"/>
<line x1="359.3" y1="94.5" x2="359.3" y2="112" stroke="#555" stroke-width="0.95"/>
<path d="M359.65,58.00 L359.65,59.00 L359.89,60.00 L360.16,61.00 L360.45,62.00 L360.77,63.00 L361.11,63.80 L361.47,64.60 L361.85,65.40 L362.24,66.20 L362.65,67.00 L362.84,67.48 L363.02,67.96 L363.21,68.44 L363.41,68.92 L363.60,69.40 L363.41,69.92 L363.21,70.44 L363.02,70.96 L362.84,71.48 L362.65,72.00 L362.24,72.60 L361.85,73.20 L361.47,73.80 L361.11,74.40 L360.77,75.00 L360.57,75.60 L360.38,76.20 L360.19,76.80 L360.02,77.40 L359.86,78.00 L359.83,79.40 L359.80,80.80 L359.77,82.20 L359.74,83.60 L359.71,85.00 L359.68,87.00 L359.65,89.00 L359.65,91.00 L359.65,93.00 L359.65,95.00 L358.95,95.00 L358.95,93.00 L358.95,91.00 L358.95,89.00 L358.92,87.00 L358.89,85.00 L358.86,83.60 L358.83,82.20 L358.80,80.80 L358.77,79.40 L358.74,78.00 L358.58,77.40 L358.41,76.80 L358.22,76.20 L358.03,75.60 L357.83,75.00 L357.49,74.40 L357.13,73.80 L356.75,73.20 L356.36,72.60 L355.95,72.00 L355.76,71.48 L355.58,70.96 L355.39,70.44 L355.19,69.92 L355.00,69.40 L355.19,68.92 L355.39,68.44 L355.58,67.96 L355.76,67.48 L355.95,67.00 L356.36,66.20 L356.75,65.40 L357.13,64.60 L357.49,63.80 L357.83,63.00 L358.15,62.00 L358.44,61.00 L358.71,60.00 L358.95,59.00 L358.95,58.00Z" fill="#cfcfcf" stroke="#4a4a4a" stroke-width="0.65" stroke-linejoin="round"/>
<line x1="355.6128126925506" y1="68.5" x2="362.9871873074494" y2="68.5" stroke="#3a3a3a" stroke-width="0.55"/>
<line x1="355.58510433117004" y1="70.3" x2="363.01489566883" y2="70.3" stroke="#3a3a3a" stroke-width="0.9"/>
<line x1="356.4018351204719" y1="72.3" x2="362.1981648795281" y2="72.3" stroke="#3a3a3a" stroke-width="0.55"/>
<line x1="377.2" y1="47.6" x2="377.2" y2="52.5" stroke="#555" stroke-width="0.95"/>
<line x1="377.2" y1="94.5" x2="377.2" y2="119.6" stroke="#555" stroke-width="0.95"/>
<path d="M377.55,52.00 L377.55,52.80 L377.76,53.60 L378.02,54.40 L378.30,55.20 L378.61,56.00 L378.91,56.60 L379.23,57.20 L379.57,57.80 L379.92,58.40 L380.28,59.00 L380.53,59.80 L380.79,60.60 L381.05,61.40 L381.31,62.20 L381.59,63.00 L381.67,63.90 L381.75,64.80 L381.83,65.70 L381.92,66.60 L382.00,67.50 L382.00,68.80 L382.00,70.10 L382.00,71.40 L382.00,72.70 L382.00,74.00 L381.78,75.20 L381.56,76.40 L381.34,77.60 L381.13,78.80 L380.92,80.00 L380.41,80.80 L379.92,81.60 L379.46,82.40 L379.02,83.20 L378.61,84.00 L378.42,84.80 L378.23,85.60 L378.06,86.40 L377.89,87.20 L377.73,88.00 L377.68,89.40 L377.62,90.80 L377.56,92.20 L377.55,93.60 L377.55,95.00 L376.85,95.00 L376.85,93.60 L376.84,92.20 L376.78,90.80 L376.72,89.40 L376.67,88.00 L376.51,87.20 L376.34,86.40 L376.17,85.60 L375.98,84.80 L375.79,84.00 L375.38,83.20 L374.94,82.40 L374.48,81.60 L373.99,80.80 L373.48,80.00 L373.27,78.80 L373.06,77.60 L372.84,76.40 L372.62,75.20 L372.40,74.00 L372.40,72.70 L372.40,71.40 L372.40,70.10 L372.40,68.80 L372.40,67.50 L372.48,66.60 L372.57,65.70 L372.65,64.80 L372.73,63.90 L372.81,63.00 L373.09,62.20 L373.35,61.40 L373.61,60.60 L373.87,59.80 L374.12,59.00 L374.48,58.40 L374.83,57.80 L375.17,57.20 L375.49,56.60 L375.79,56.00 L376.10,55.20 L376.38,54.40 L376.64,53.60 L376.85,52.80 L376.85,52.00Z" fill="#cfcfcf" stroke="#4a4a4a" stroke-width="0.65" stroke-linejoin="round"/>
<line x1="372.65" y1="67.5" x2="381.75" y2="67.5" stroke="#3a3a3a" stroke-width="0.55"/>
<line x1="372.6685413813352" y1="74.1" x2="381.73145861866476" y2="74.1" stroke="#3a3a3a" stroke-width="0.9"/>
<line x1="373.73133126090056" y1="80" x2="380.6686687390994" y2="80" stroke="#3a3a3a" stroke-width="0.55"/>
<line x1="394.6" y1="58" x2="394.6" y2="60.5" stroke="#555" stroke-width="0.95"/>
<line x1="394.6" y1="109.5" x2="394.6" y2="116.8" stroke="#555" stroke-width="0.95"/>
<path d="M394.95,60.00 L394.95,60.80 L394.95,61.60 L395.05,62.40 L395.17,63.20 L395.30,64.00 L395.58,64.80 L395.88,65.60 L396.20,66.40 L396.54,67.20 L396.90,68.00 L397.18,68.80 L397.46,69.60 L397.76,70.40 L398.07,71.20 L398.38,72.00 L398.52,72.80 L398.65,73.60 L398.79,74.40 L398.92,75.20 L399.06,76.00 L399.09,77.60 L399.12,79.20 L399.14,80.80 L399.17,82.40 L399.20,84.00 L399.14,85.60 L399.09,87.20 L399.03,88.80 L398.98,90.40 L398.92,92.00 L398.60,92.80 L398.28,93.60 L397.97,94.40 L397.66,95.20 L397.37,96.00 L397.03,96.60 L396.71,97.20 L396.41,97.80 L396.11,98.40 L395.84,99.00 L395.69,99.72 L395.54,100.44 L395.40,101.16 L395.27,101.88 L395.14,102.60 L395.24,103.08 L395.33,103.56 L395.44,104.04 L395.54,104.52 L395.65,105.00 L395.65,105.40 L395.65,105.80 L395.65,106.20 L395.65,106.60 L395.65,107.00 L395.45,107.60 L395.27,108.20 L395.10,108.80 L394.95,109.40 L394.95,110.00 L394.25,110.00 L394.25,109.40 L394.10,108.80 L393.93,108.20 L393.75,107.60 L393.55,107.00 L393.55,106.60 L393.55,106.20 L393.55,105.80 L393.55,105.40 L393.55,105.00 L393.66,104.52 L393.76,104.04 L393.87,103.56 L393.96,103.08 L394.06,102.60 L393.93,101.88 L393.80,101.16 L393.66,100.44 L393.51,99.72 L393.36,99.00 L393.09,98.40 L392.79,97.80 L392.49,97.20 L392.17,96.60 L391.83,96.00 L391.54,95.20 L391.23,94.40 L390.92,93.60 L390.60,92.80 L390.28,92.00 L390.22,90.40 L390.17,88.80 L390.11,87.20 L390.06,85.60 L390.00,84.00 L390.03,82.40 L390.06,80.80 L390.08,79.20 L390.11,77.60 L390.14,76.00 L390.28,75.20 L390.41,74.40 L390.55,73.60 L390.68,72.80 L390.82,72.00 L391.13,71.20 L391.44,70.40 L391.74,69.60 L392.02,68.80 L392.30,68.00 L392.66,67.20 L393.00,66.40 L393.32,65.60 L393.62,64.80 L393.90,64.00 L394.03,63.20 L394.15,62.40 L394.25,61.60 L394.25,60.80 L394.25,60.00Z" fill="#cfcfcf" stroke="#4a4a4a" stroke-width="0.65" stroke-linejoin="round"/>
<line x1="390.3893886345684" y1="76" x2="398.81061136543167" y2="76" stroke="#3a3a3a" stroke-width="0.55"/>
<line x1="390.25" y1="84" x2="398.95000000000005" y2="84" stroke="#3a3a3a" stroke-width="0.9"/>
<line x1="390.52754366861126" y1="92" x2="398.6724563313888" y2="92" stroke="#3a3a3a" stroke-width="0.55"/>
<line x1="425.0" y1="58" x2="425.0" y2="64.2" stroke="#5a5030" stroke-width="0.95"/>
<line x1="425.0" y1="99.5" x2="425.0" y2="136.7" stroke="#5a5030" stroke-width="0.95"/>
<path d="M425.35,63.70 L425.40,64.56 L425.72,65.42 L426.08,66.28 L426.48,67.14 L426.91,68.00 L427.24,68.80 L427.58,69.60 L427.94,70.40 L428.31,71.20 L428.69,72.00 L428.92,72.80 L429.16,73.60 L429.40,74.40 L429.65,75.20 L429.90,76.00 L429.82,76.96 L429.73,77.92 L429.65,78.88 L429.57,79.84 L429.49,80.80 L429.05,81.64 L428.64,82.48 L428.23,83.32 L427.84,84.16 L427.47,85.00 L427.13,85.86 L426.80,86.72 L426.50,87.58 L426.21,88.44 L425.93,89.30 L425.88,90.04 L425.83,90.78 L425.78,91.52 L425.73,92.26 L425.68,93.00 L425.65,93.80 L425.62,94.60 L425.59,95.40 L425.56,96.20 L425.53,97.00 L425.46,97.60 L425.39,98.20 L425.35,98.80 L425.35,99.40 L425.35,100.00 L424.65,100.00 L424.65,99.40 L424.65,98.80 L424.61,98.20 L424.54,97.60 L424.47,97.00 L424.44,96.20 L424.41,95.40 L424.38,94.60 L424.35,93.80 L424.32,93.00 L424.27,92.26 L424.22,91.52 L424.17,90.78 L424.12,90.04 L424.07,89.30 L423.79,88.44 L423.50,87.58 L423.20,86.72 L422.87,85.86 L422.53,85.00 L422.16,84.16 L421.77,83.32 L421.36,82.48 L420.95,81.64 L420.51,80.80 L420.43,79.84 L420.35,78.88 L420.27,77.92 L420.18,76.96 L420.10,76.00 L420.35,75.20 L420.60,74.40 L420.84,73.60 L421.08,72.80 L421.31,72.00 L421.69,71.20 L422.06,70.40 L422.42,69.60 L422.76,68.80 L423.09,68.00 L423.52,67.14 L423.92,66.28 L424.28,65.42 L424.60,64.56 L424.65,63.70Z" fill="#f5bf12" stroke="#6e5200" stroke-width="0.65" stroke-linejoin="round"/>
<line x1="420.6617216093121" y1="75" x2="429.3382783906879" y2="75" stroke="#5a4000" stroke-width="0.55"/>
<line x1="420.76479257590313" y1="80.8" x2="429.23520742409687" y2="80.8" stroke="#5a4000" stroke-width="0.9"/>
<path d="M425.35,118.00 L425.40,118.60 L425.54,119.20 L425.68,119.80 L425.84,120.40 L426.00,121.00 L426.00,122.00 L426.00,123.00 L426.00,124.00 L426.00,125.00 L426.00,126.00 L425.84,126.60 L425.68,127.20 L425.54,127.80 L425.40,128.40 L425.35,129.00 L424.65,129.00 L424.60,128.40 L424.46,127.80 L424.32,127.20 L424.16,126.60 L424.00,126.00 L424.00,125.00 L424.00,124.00 L424.00,123.00 L424.00,122.00 L424.00,121.00 L424.16,120.40 L424.32,119.80 L424.46,119.20 L424.60,118.60 L424.65,118.00Z" fill="#f5bf12" stroke="#6e5200" stroke-width="0.65" stroke-linejoin="round"/>
<line x1="442.6" y1="55" x2="442.6" y2="63.2" stroke="#5a5030" stroke-width="0.95"/>
<line x1="442.6" y1="109.5" x2="442.6" y2="120.6" stroke="#5a5030" stroke-width="0.95"/>
<path d="M442.95,62.70 L442.95,63.36 L443.02,64.02 L443.18,64.68 L443.36,65.34 L443.55,66.00 L443.86,66.60 L444.20,67.20 L444.56,67.80 L444.94,68.40 L445.34,69.00 L445.69,69.80 L446.04,70.60 L446.40,71.40 L446.78,72.20 L447.16,73.00 L447.19,75.12 L447.22,77.24 L447.24,79.36 L447.27,81.48 L447.30,83.60 L447.19,85.48 L447.08,87.36 L446.97,89.24 L446.86,91.12 L446.75,93.00 L446.46,93.80 L446.17,94.60 L445.89,95.40 L445.61,96.20 L445.34,97.00 L445.06,97.80 L444.79,98.60 L444.52,99.40 L444.27,100.20 L444.02,101.00 L443.83,101.80 L443.64,102.60 L443.46,103.40 L443.30,104.20 L443.14,105.00 L443.05,106.00 L442.97,107.00 L442.95,108.00 L442.95,109.00 L442.95,110.00 L442.25,110.00 L442.25,109.00 L442.25,108.00 L442.23,107.00 L442.15,106.00 L442.06,105.00 L441.90,104.20 L441.74,103.40 L441.56,102.60 L441.37,101.80 L441.18,101.00 L440.93,100.20 L440.68,99.40 L440.41,98.60 L440.14,97.80 L439.86,97.00 L439.59,96.20 L439.31,95.40 L439.03,94.60 L438.74,93.80 L438.45,93.00 L438.34,91.12 L438.23,89.24 L438.12,87.36 L438.01,85.48 L437.90,83.60 L437.93,81.48 L437.96,79.36 L437.98,77.24 L438.01,75.12 L438.04,73.00 L438.42,72.20 L438.80,71.40 L439.16,70.60 L439.51,69.80 L439.86,69.00 L440.26,68.40 L440.64,67.80 L441.00,67.20 L441.34,66.60 L441.65,66.00 L441.84,65.34 L442.02,64.68 L442.18,64.02 L442.25,63.36 L442.25,62.70Z" fill="#f5bf12" stroke="#6e5200" stroke-width="0.65" stroke-linejoin="round"/>
<line x1="438.2828488017455" y1="73.5" x2="446.91715119825454" y2="73.5" stroke="#5a4000" stroke-width="0.55"/>
<line x1="438.15000000000003" y1="83.6" x2="447.05" y2="83.6" stroke="#5a4000" stroke-width="0.9"/>
<line x1="438.7003000588431" y1="93" x2="446.49969994115696" y2="93" stroke="#5a4000" stroke-width="0.55"/>
<line x1="460.3" y1="63" x2="460.3" y2="68.9" stroke="#5a5030" stroke-width="0.95"/>
<line x1="460.3" y1="108.5" x2="460.3" y2="128" stroke="#5a5030" stroke-width="0.95"/>
<path d="M460.65,68.40 L460.78,69.12 L461.19,69.84 L461.67,70.56 L462.20,71.28 L462.79,72.00 L463.21,73.00 L463.66,74.00 L464.12,75.00 L464.60,76.00 L465.10,77.00 L464.88,78.20 L464.66,79.40 L464.44,80.60 L464.23,81.80 L464.02,83.00 L463.63,84.00 L463.26,85.00 L462.90,86.00 L462.56,87.00 L462.23,88.00 L462.08,88.60 L461.93,89.20 L461.79,89.80 L461.65,90.40 L461.52,91.00 L461.59,91.60 L461.67,92.20 L461.75,92.80 L461.83,93.40 L461.91,94.00 L462.08,94.60 L462.25,95.20 L462.42,95.80 L462.60,96.40 L462.79,97.00 L462.79,97.74 L462.79,98.48 L462.79,99.22 L462.79,99.96 L462.79,100.70 L462.51,101.56 L462.25,102.42 L461.99,103.28 L461.75,104.14 L461.52,105.00 L461.26,105.80 L461.02,106.60 L460.80,107.40 L460.65,108.20 L460.65,109.00 L459.95,109.00 L459.95,108.20 L459.80,107.40 L459.58,106.60 L459.34,105.80 L459.08,105.00 L458.85,104.14 L458.61,103.28 L458.35,102.42 L458.09,101.56 L457.81,100.70 L457.81,99.96 L457.81,99.22 L457.81,98.48 L457.81,97.74 L457.81,97.00 L458.00,96.40 L458.18,95.80 L458.35,95.20 L458.52,94.60 L458.69,94.00 L458.77,93.40 L458.85,92.80 L458.93,92.20 L459.01,91.60 L459.08,91.00 L458.95,90.40 L458.81,89.80 L458.67,89.20 L458.52,88.60 L458.37,88.00 L458.04,87.00 L457.70,86.00 L457.34,85.00 L456.97,84.00 L456.58,83.00 L456.37,81.80 L456.16,80.60 L455.94,79.40 L455.72,78.20 L455.50,77.00 L456.00,76.00 L456.48,75.00 L456.94,74.00 L457.39,73.00 L457.81,72.00 L458.40,71.28 L458.93,70.56 L459.41,69.84 L459.82,69.12 L459.95,68.40Z" fill="#f5bf12" stroke="#6e5200" stroke-width="0.65" stroke-linejoin="round"/>
<line x1="455.9168724320169" y1="77.9" x2="464.68312756798315" y2="77.9" stroke="#5a4000" stroke-width="0.55"/>
<line x1="458.0856453438635" y1="86.4" x2="462.5143546561365" y2="86.4" stroke="#5a4000" stroke-width="0.9"/>
<line x1="458.06415948699504" y1="99" x2="462.535840513005" y2="99" stroke="#5a4000" stroke-width="0.55"/>
<line x1="478.0" y1="59" x2="478.0" y2="68.9" stroke="#5a5030" stroke-width="0.95"/>
<line x1="478.0" y1="107.5" x2="478.0" y2="138.6" stroke="#5a5030" stroke-width="0.95"/>
<path d="M478.35,68.40 L478.49,69.12 L478.92,69.84 L479.42,70.56 L479.97,71.28 L480.57,72.00 L480.84,72.80 L481.12,73.60 L481.40,74.40 L481.69,75.20 L481.99,76.00 L481.82,76.80 L481.66,77.60 L481.50,78.40 L481.35,79.20 L481.19,80.00 L480.94,80.90 L480.69,81.80 L480.45,82.70 L480.22,83.60 L479.99,84.50 L480.11,85.20 L480.22,85.90 L480.34,86.60 L480.45,87.30 L480.57,88.00 L480.92,89.20 L481.27,90.40 L481.64,91.60 L482.01,92.80 L482.40,94.00 L482.29,94.80 L482.18,95.60 L482.07,96.40 L481.96,97.20 L481.85,98.00 L481.45,99.00 L481.07,100.00 L480.69,101.00 L480.34,102.00 L479.99,103.00 L479.54,104.00 L479.12,105.00 L478.75,106.00 L478.42,107.00 L478.35,108.00 L477.65,108.00 L477.58,107.00 L477.25,106.00 L476.88,105.00 L476.46,104.00 L476.01,103.00 L475.66,102.00 L475.31,101.00 L474.93,100.00 L474.55,99.00 L474.15,98.00 L474.04,97.20 L473.93,96.40 L473.82,95.60 L473.71,94.80 L473.60,94.00 L473.99,92.80 L474.36,91.60 L474.73,90.40 L475.08,89.20 L475.43,88.00 L475.55,87.30 L475.66,86.60 L475.78,85.90 L475.89,85.20 L476.01,84.50 L475.78,83.60 L475.55,82.70 L475.31,81.80 L475.06,80.90 L474.81,80.00 L474.65,79.20 L474.50,78.40 L474.34,77.60 L474.18,76.80 L474.01,76.00 L474.31,75.20 L474.60,74.40 L474.88,73.60 L475.16,72.80 L475.43,72.00 L476.03,71.28 L476.58,70.56 L477.08,69.84 L477.51,69.12 L477.65,68.40Z" fill="#f5bf12" stroke="#6e5200" stroke-width="0.65" stroke-linejoin="round"/>
<line x1="475.056152382964" y1="80" x2="480.943847617036" y2="80" stroke="#5a4000" stroke-width="0.55"/>
<line x1="474.2683259231132" y1="92.7" x2="481.7316740768868" y2="92.7" stroke="#5a4000" stroke-width="0.9"/>
<line x1="474.37256598865605" y1="97.8" x2="481.62743401134395" y2="97.8" stroke="#5a4000" stroke-width="0.55"/>
<line x1="61.2" y1="204.5" x2="61.2" y2="305.8" stroke="#2b2b2b" stroke-width="1.3"/>
<line x1="58.6" y1="305.7" x2="61.2" y2="305.7" stroke="#2b2b2b" stroke-width="1"/>
<line x1="58.6" y1="256.2" x2="61.2" y2="256.2" stroke="#2b2b2b" stroke-width="1"/>
<line x1="58.6" y1="206.7" x2="61.2" y2="206.7" stroke="#2b2b2b" stroke-width="1"/>
<line x1="59.7" y1="280.94999999999993" x2="61.2" y2="280.94999999999993" stroke="#2b2b2b" stroke-width="0.8"/>
<line x1="59.7" y1="231.44999999999996" x2="61.2" y2="231.44999999999996" stroke="#2b2b2b" stroke-width="0.8"/>
<text x="55.6" y="308.3" font-size="7.3" text-anchor="end" fill="#333" font-weight="normal" textLength="15.34" lengthAdjust="spacingAndGlyphs" stroke="#333" stroke-width="0.2">0.25</text>
<text x="55.6" y="258.8" font-size="7.3" text-anchor="end" fill="#333" font-weight="normal" textLength="15.34" lengthAdjust="spacingAndGlyphs" stroke="#333" stroke-width="0.2">0.30</text>
<text x="55.6" y="209.29999999999998" font-size="7.3" text-anchor="end" fill="#333" font-weight="normal" textLength="15.34" lengthAdjust="spacingAndGlyphs" stroke="#333" stroke-width="0.2">0.35</text>
<line x1="60.550000000000004" y1="305.8" x2="209.0" y2="305.8" stroke="#2b2b2b" stroke-width="1.3"/>
<line x1="77" y1="305.8" x2="77" y2="308.0" stroke="#2b2b2b" stroke-width="0.9"/>
<line x1="115.6" y1="305.8" x2="115.6" y2="308.0" stroke="#2b2b2b" stroke-width="0.9"/>
<line x1="154.4" y1="305.8" x2="154.4" y2="308.0" stroke="#2b2b2b" stroke-width="0.9"/>
<line x1="193.1" y1="305.8" x2="193.1" y2="308.0" stroke="#2b2b2b" stroke-width="0.9"/>
<text x="77" y="318.5" font-size="7.3" text-anchor="middle" fill="#333" font-weight="normal" textLength="4.38" lengthAdjust="spacingAndGlyphs" stroke="#333" stroke-width="0.2">5</text>
<text x="115.6" y="318.5" font-size="7.3" text-anchor="middle" fill="#333" font-weight="normal" textLength="8.77" lengthAdjust="spacingAndGlyphs" stroke="#333" stroke-width="0.2">14</text>
<text x="154.4" y="318.5" font-size="7.3" text-anchor="middle" fill="#333" font-weight="normal" textLength="8.77" lengthAdjust="spacingAndGlyphs" stroke="#333" stroke-width="0.2">28</text>
<text x="193.1" y="318.5" font-size="7.3" text-anchor="middle" fill="#333" font-weight="normal" textLength="8.77" lengthAdjust="spacingAndGlyphs" stroke="#333" stroke-width="0.2">42</text>
<text x="135" y="331.3" font-size="8.2" text-anchor="middle" fill="#333" font-weight="bold" textLength="40.4" lengthAdjust="spacingAndGlyphs">Day of storage</text>
<rect x="72.0" y="341.4" width="8.2" height="5.0" fill="#b00f28" stroke="#44040e" stroke-width="0.8"/>
<text x="84" y="346.2" font-size="7.3" text-anchor="start" fill="#333" font-weight="normal" textLength="26" lengthAdjust="spacingAndGlyphs" stroke="#333" stroke-width="0.2">U-RBCs</text>
<rect x="116.4" y="341.4" width="8.2" height="5.0" fill="#8882c2" stroke="#2e2a56" stroke-width="0.8"/>
<text x="128.2" y="346.2" font-size="7.3" text-anchor="start" fill="#333" font-weight="normal" textLength="25.6" lengthAdjust="spacingAndGlyphs" stroke="#333" stroke-width="0.2">Y-RBCs</text>
<rect x="159.70000000000002" y="341.4" width="8.099999999999977" height="5.0" fill="#2a9e2a" stroke="#0c440c" stroke-width="0.8"/>
<text x="171.2" y="346.2" font-size="7.3" text-anchor="start" fill="#333" font-weight="normal" textLength="27.6" lengthAdjust="spacingAndGlyphs" stroke="#333" stroke-width="0.2">O-RBCs</text>
<path d="M66.3,217.2 L66.3,204.4 L87.4,204.4 L87.4,208.2" fill="none" stroke="#6e6e6e" stroke-width="0.9"/>
<circle cx="71.95" cy="201.3" r="0.95" fill="#222"/>
<circle cx="75.05" cy="201.3" r="0.95" fill="#222"/>
<circle cx="78.15" cy="201.3" r="0.95" fill="#222"/>
<circle cx="81.25" cy="201.3" r="0.95" fill="#222"/>
<path d="M76.8,217.9 L76.8,214.2 L87.4,214.2 L87.4,235.9" fill="none" stroke="#6e6e6e" stroke-width="0.9"/>
<circle cx="77.25" cy="211.4" r="0.95" fill="#222"/>
<circle cx="80.35" cy="211.4" r="0.95" fill="#222"/>
<circle cx="83.45" cy="211.4" r="0.95" fill="#222"/>
<circle cx="86.55" cy="211.4" r="0.95" fill="#222"/>
<path d="M66.3,235.2 L66.3,224.4 L76.8,224.4 L76.8,235.2" fill="none" stroke="#6e6e6e" stroke-width="0.9"/>
<circle cx="69.85" cy="221.4" r="0.95" fill="#222"/>
<circle cx="72.95" cy="221.4" r="0.95" fill="#222"/>
<path d="M105.2,217.2 L105.2,204.0 L126.2,204.0 L126.2,206.8" fill="none" stroke="#6e6e6e" stroke-width="0.9"/>
<circle cx="111.45" cy="200.9" r="0.95" fill="#222"/>
<circle cx="114.55" cy="200.9" r="0.95" fill="#222"/>
<circle cx="117.65" cy="200.9" r="0.95" fill="#222"/>
<circle cx="120.75" cy="200.9" r="0.95" fill="#222"/>
<path d="M115.7,217.2 L115.7,213.0 L126.2,213.0 L126.2,236.5" fill="none" stroke="#6e6e6e" stroke-width="0.9"/>
<circle cx="116.35" cy="210.0" r="0.95" fill="#222"/>
<circle cx="119.45" cy="210.0" r="0.95" fill="#222"/>
<circle cx="122.55" cy="210.0" r="0.95" fill="#222"/>
<circle cx="125.65" cy="210.0" r="0.95" fill="#222"/>
<path d="M105.2,235.2 L105.2,224.4 L115.7,224.4 L115.7,235.2" fill="none" stroke="#6e6e6e" stroke-width="0.9"/>
<circle cx="108.75" cy="221.4" r="0.95" fill="#222"/>
<circle cx="111.85" cy="221.4" r="0.95" fill="#222"/>
<path d="M143.9,235.7 L143.9,205.9 L165.2,205.9 L165.2,210.5" fill="none" stroke="#6e6e6e" stroke-width="0.9"/>
<circle cx="151.30" cy="203.0" r="0.95" fill="#222"/>
<circle cx="154.40" cy="203.0" r="0.95" fill="#222"/>
<circle cx="157.50" cy="203.0" r="0.95" fill="#222"/>
<path d="M154.4,237.7 L154.4,223.8 L165.2,223.8 L165.2,237.7" fill="none" stroke="#6e6e6e" stroke-width="0.9"/>
<circle cx="155.15" cy="220.8" r="0.95" fill="#222"/>
<circle cx="158.25" cy="220.8" r="0.95" fill="#222"/>
<circle cx="161.35" cy="220.8" r="0.95" fill="#222"/>
<circle cx="164.45" cy="220.8" r="0.95" fill="#222"/>
<path d="M182.6,235.7 L182.6,206.9 L203.9,206.9 L203.9,210.5" fill="none" stroke="#6e6e6e" stroke-width="0.9"/>
<circle cx="188.55" cy="204.0" r="0.95" fill="#222"/>
<circle cx="191.65" cy="204.0" r="0.95" fill="#222"/>
<circle cx="194.75" cy="204.0" r="0.95" fill="#222"/>
<circle cx="197.85" cy="204.0" r="0.95" fill="#222"/>
<path d="M193.6,237.7 L193.6,224.4 L203.9,224.4 L203.9,237.7" fill="none" stroke="#6e6e6e" stroke-width="0.9"/>
<circle cx="193.95" cy="221.4" r="0.95" fill="#222"/>
<circle cx="197.05" cy="221.4" r="0.95" fill="#222"/>
<circle cx="200.15" cy="221.4" r="0.95" fill="#222"/>
<circle cx="203.25" cy="221.4" r="0.95" fill="#222"/>
<line x1="66.5" y1="255.0" x2="66.5" y2="266.5" stroke="#5a2a30" stroke-width="0.95"/>
<path d="M66.97,240.40 L67.11,240.92 L67.24,241.44 L67.37,241.96 L67.51,242.48 L67.64,243.00 L67.79,243.60 L67.94,244.20 L68.10,244.80 L68.25,245.40 L68.40,246.00 L68.50,246.54 L68.59,247.08 L68.69,247.62 L68.78,248.16 L68.88,248.70 L68.80,249.16 L68.72,249.62 L68.65,250.08 L68.57,250.54 L68.50,251.00 L68.34,251.50 L68.19,252.00 L68.04,252.50 L67.89,253.00 L67.73,253.50 L67.58,253.90 L67.43,254.30 L67.28,254.70 L67.13,255.10 L66.97,255.50 L66.03,255.50 L65.87,255.10 L65.72,254.70 L65.57,254.30 L65.42,253.90 L65.27,253.50 L65.11,253.00 L64.96,252.50 L64.81,252.00 L64.66,251.50 L64.50,251.00 L64.43,250.54 L64.35,250.08 L64.28,249.62 L64.20,249.16 L64.12,248.70 L64.22,248.16 L64.31,247.62 L64.41,247.08 L64.50,246.54 L64.60,246.00 L64.75,245.40 L64.90,244.80 L65.06,244.20 L65.21,243.60 L65.36,243.00 L65.49,242.48 L65.63,241.96 L65.76,241.44 L65.89,240.92 L66.03,240.40Z" fill="#b00f28" stroke="#44040e" stroke-width="0.65" stroke-linejoin="round"/>
<line x1="64.86" y1="246.20" x2="68.14" y2="246.20" stroke="#44040e" stroke-width="0.45" stroke-opacity="0.55"/>
<line x1="64.48" y1="248.40" x2="68.52" y2="248.40" stroke="#44040e" stroke-width="0.45" stroke-opacity="0.55"/>
<line x1="64.74" y1="250.60" x2="68.26" y2="250.60" stroke="#44040e" stroke-width="0.45" stroke-opacity="0.55"/>
<line x1="76.7" y1="236.2" x2="76.7" y2="241.4" stroke="#6e6c88" stroke-width="0.95"/>
<path d="M77.17,240.90 L77.38,241.12 L77.59,241.34 L77.80,241.56 L78.01,241.78 L78.22,242.00 L78.39,242.40 L78.56,242.80 L78.73,243.20 L78.90,243.60 L79.08,244.00 L79.15,244.52 L79.23,245.04 L79.30,245.56 L79.38,246.08 L79.45,246.60 L79.42,247.08 L79.38,247.56 L79.34,248.04 L79.30,248.52 L79.27,249.00 L79.13,249.50 L79.00,250.00 L78.87,250.50 L78.73,251.00 L78.60,251.50 L78.45,251.86 L78.30,252.22 L78.14,252.58 L77.99,252.94 L77.84,253.30 L77.71,253.54 L77.57,253.78 L77.44,254.02 L77.31,254.26 L77.17,254.50 L76.23,254.50 L76.09,254.26 L75.96,254.02 L75.83,253.78 L75.69,253.54 L75.56,253.30 L75.41,252.94 L75.26,252.58 L75.10,252.22 L74.95,251.86 L74.80,251.50 L74.67,251.00 L74.53,250.50 L74.40,250.00 L74.27,249.50 L74.14,249.00 L74.10,248.52 L74.06,248.04 L74.02,247.56 L73.98,247.08 L73.95,246.60 L74.02,246.08 L74.10,245.56 L74.17,245.04 L74.25,244.52 L74.33,244.00 L74.50,243.60 L74.67,243.20 L74.84,242.80 L75.01,242.40 L75.18,242.00 L75.39,241.78 L75.60,241.56 L75.81,241.34 L76.02,241.12 L76.23,240.90Z" fill="#8882c2" stroke="#2e2a56" stroke-width="0.65" stroke-linejoin="round"/>
<line x1="74.97" y1="243.20" x2="78.43" y2="243.20" stroke="#2e2a56" stroke-width="0.45" stroke-opacity="0.55"/>
<line x1="74.42" y1="245.40" x2="78.98" y2="245.40" stroke="#2e2a56" stroke-width="0.45" stroke-opacity="0.55"/>
<line x1="74.32" y1="247.60" x2="79.08" y2="247.60" stroke="#2e2a56" stroke-width="0.45" stroke-opacity="0.55"/>
<line x1="74.65" y1="249.80" x2="78.75" y2="249.80" stroke="#2e2a56" stroke-width="0.45" stroke-opacity="0.55"/>
<line x1="74.50192307692308" y1="244.5" x2="78.89807692307693" y2="244.5" stroke="#36326a" stroke-width="0.55"/>
<line x1="74.21083333333334" y1="246.8" x2="79.18916666666667" y2="246.8" stroke="#36326a" stroke-width="0.9"/>
<line x1="74.4382" y1="249.2" x2="78.96180000000001" y2="249.2" stroke="#36326a" stroke-width="0.55"/>
<line x1="87.4" y1="262.0" x2="87.4" y2="281.2" stroke="#2e3a2e" stroke-width="0.95"/>
<path d="M87.88,241.90 L88.05,242.32 L88.22,242.74 L88.39,243.16 L88.56,243.58 L88.73,244.00 L88.92,244.60 L89.11,245.20 L89.30,245.80 L89.49,246.40 L89.68,247.00 L89.78,247.76 L89.87,248.52 L89.97,249.28 L90.06,250.04 L90.16,250.80 L90.14,251.44 L90.12,252.08 L90.10,252.72 L90.08,253.36 L90.06,254.00 L89.97,254.60 L89.87,255.20 L89.78,255.80 L89.68,256.40 L89.59,257.00 L89.43,257.60 L89.28,258.20 L89.13,258.80 L88.98,259.40 L88.83,260.00 L88.64,260.50 L88.45,261.00 L88.26,261.50 L88.07,262.00 L87.88,262.50 L86.93,262.50 L86.73,262.00 L86.55,261.50 L86.36,261.00 L86.17,260.50 L85.98,260.00 L85.82,259.40 L85.67,258.80 L85.52,258.20 L85.37,257.60 L85.22,257.00 L85.12,256.40 L85.03,255.80 L84.93,255.20 L84.84,254.60 L84.74,254.00 L84.72,253.36 L84.70,252.72 L84.68,252.08 L84.66,251.44 L84.65,250.80 L84.74,250.04 L84.84,249.28 L84.93,248.52 L85.03,247.76 L85.12,247.00 L85.31,246.40 L85.50,245.80 L85.69,245.20 L85.88,244.60 L86.07,244.00 L86.24,243.58 L86.41,243.16 L86.58,242.74 L86.75,242.32 L86.93,241.90Z" fill="#2a9e2a" stroke="#0c440c" stroke-width="0.65" stroke-linejoin="round"/>
<line x1="85.74" y1="246.00" x2="89.06" y2="246.00" stroke="#0c440c" stroke-width="0.45" stroke-opacity="0.55"/>
<line x1="85.27" y1="248.20" x2="89.53" y2="248.20" stroke="#0c440c" stroke-width="0.45" stroke-opacity="0.55"/>
<line x1="85.00" y1="250.40" x2="89.81" y2="250.40" stroke="#0c440c" stroke-width="0.45" stroke-opacity="0.55"/>
<line x1="85.00" y1="252.60" x2="89.80" y2="252.60" stroke="#0c440c" stroke-width="0.45" stroke-opacity="0.55"/>
<line x1="85.17" y1="254.80" x2="89.63" y2="254.80" stroke="#0c440c" stroke-width="0.45" stroke-opacity="0.55"/>
<line x1="85.52" y1="257.00" x2="89.29" y2="257.00" stroke="#0c440c" stroke-width="0.45" stroke-opacity="0.55"/>
<line x1="85.245" y1="248" x2="89.555" y2="248" stroke="#0c440c" stroke-width="0.55"/>
<line x1="84.90093750000001" y1="251" x2="89.8990625" y2="251" stroke="#0c440c" stroke-width="0.9"/>
<line x1="85.06916666666667" y1="254.5" x2="89.73083333333334" y2="254.5" stroke="#0c440c" stroke-width="0.55"/>
<line x1="105.1" y1="256.1" x2="105.1" y2="266" stroke="#5a2a30" stroke-width="0.95"/>
<path d="M105.57,240.90 L105.67,241.52 L105.77,242.14 L105.86,242.76 L105.95,243.38 L106.05,244.00 L106.16,244.60 L106.28,245.20 L106.39,245.80 L106.51,246.40 L106.62,247.00 L106.73,247.40 L106.85,247.80 L106.96,248.20 L107.08,248.60 L107.19,249.00 L107.27,249.36 L107.34,249.72 L107.42,250.08 L107.49,250.44 L107.57,250.80 L107.47,251.24 L107.38,251.68 L107.28,252.12 L107.19,252.56 L107.09,253.00 L106.92,253.40 L106.75,253.80 L106.58,254.20 L106.41,254.60 L106.24,255.00 L106.11,255.32 L105.97,255.64 L105.84,255.96 L105.71,256.28 L105.57,256.60 L104.62,256.60 L104.49,256.28 L104.36,255.96 L104.23,255.64 L104.09,255.32 L103.96,255.00 L103.79,254.60 L103.62,254.20 L103.45,253.80 L103.28,253.40 L103.10,253.00 L103.01,252.56 L102.91,252.12 L102.82,251.68 L102.72,251.24 L102.63,250.80 L102.71,250.44 L102.78,250.08 L102.86,249.72 L102.93,249.36 L103.01,249.00 L103.12,248.60 L103.24,248.20 L103.35,247.80 L103.47,247.40 L103.58,247.00 L103.69,246.40 L103.81,245.80 L103.92,245.20 L104.04,244.60 L104.15,244.00 L104.24,243.38 L104.34,242.76 L104.43,242.14 L104.53,241.52 L104.62,240.90Z" fill="#b00f28" stroke="#44040e" stroke-width="0.65" stroke-linejoin="round"/>
<line x1="103.54" y1="248.20" x2="106.66" y2="248.20" stroke="#44040e" stroke-width="0.45" stroke-opacity="0.55"/>
<line x1="103.01" y1="250.40" x2="107.19" y2="250.40" stroke="#44040e" stroke-width="0.45" stroke-opacity="0.55"/>
<line x1="103.32" y1="252.60" x2="106.88" y2="252.60" stroke="#44040e" stroke-width="0.45" stroke-opacity="0.55"/>
<path d="M116.07,239.30 L116.17,239.84 L116.27,240.38 L116.36,240.92 L116.45,241.46 L116.55,242.00 L116.70,242.60 L116.85,243.20 L117.01,243.80 L117.16,244.40 L117.31,245.00 L117.42,245.74 L117.54,246.48 L117.65,247.22 L117.77,247.96 L117.88,248.70 L117.80,249.26 L117.73,249.82 L117.65,250.38 L117.58,250.94 L117.50,251.50 L117.35,251.90 L117.20,252.30 L117.04,252.70 L116.89,253.10 L116.74,253.50 L116.61,253.90 L116.47,254.30 L116.34,254.70 L116.21,255.10 L116.07,255.50 L115.12,255.50 L114.99,255.10 L114.86,254.70 L114.73,254.30 L114.59,253.90 L114.46,253.50 L114.31,253.10 L114.16,252.70 L114.00,252.30 L113.85,251.90 L113.70,251.50 L113.62,250.94 L113.55,250.38 L113.47,249.82 L113.40,249.26 L113.32,248.70 L113.43,247.96 L113.55,247.22 L113.66,246.48 L113.78,245.74 L113.89,245.00 L114.04,244.40 L114.19,243.80 L114.35,243.20 L114.50,242.60 L114.65,242.00 L114.74,241.46 L114.84,240.92 L114.93,240.38 L115.03,239.84 L115.12,239.30Z" fill="#8882c2" stroke="#2e2a56" stroke-width="0.65" stroke-linejoin="round"/>
<line x1="114.07" y1="245.80" x2="117.13" y2="245.80" stroke="#2e2a56" stroke-width="0.45" stroke-opacity="0.55"/>
<line x1="113.73" y1="248.00" x2="117.47" y2="248.00" stroke="#2e2a56" stroke-width="0.45" stroke-opacity="0.55"/>
<line x1="113.82" y1="250.20" x2="117.38" y2="250.20" stroke="#2e2a56" stroke-width="0.45" stroke-opacity="0.55"/>
<line x1="113.86270270270269" y1="246.8" x2="117.3372972972973" y2="246.8" stroke="#36326a" stroke-width="0.55"/>
<line x1="113.57" y1="248.7" x2="117.63" y2="248.7" stroke="#36326a" stroke-width="0.9"/>
<line x1="113.85499999999999" y1="250.8" x2="117.345" y2="250.8" stroke="#36326a" stroke-width="0.55"/>
<line x1="126.0" y1="261.8" x2="126.0" y2="281.2" stroke="#2e3a2e" stroke-width="0.95"/>
<path d="M126.47,244.00 L126.63,244.40 L126.78,244.80 L126.93,245.20 L127.08,245.60 L127.23,246.00 L127.42,246.50 L127.61,247.00 L127.81,247.50 L128.00,248.00 L128.19,248.50 L128.32,249.18 L128.45,249.86 L128.58,250.54 L128.72,251.22 L128.85,251.90 L128.75,252.72 L128.66,253.54 L128.56,254.36 L128.47,255.18 L128.38,256.00 L128.20,256.60 L128.03,257.20 L127.86,257.80 L127.69,258.40 L127.52,259.00 L127.31,259.66 L127.10,260.32 L126.89,260.98 L126.68,261.64 L126.47,262.30 L125.53,262.30 L125.32,261.64 L125.11,260.98 L124.90,260.32 L124.69,259.66 L124.48,259.00 L124.31,258.40 L124.14,257.80 L123.97,257.20 L123.80,256.60 L123.62,256.00 L123.53,255.18 L123.44,254.36 L123.34,253.54 L123.25,252.72 L123.15,251.90 L123.28,251.22 L123.42,250.54 L123.55,249.86 L123.68,249.18 L123.81,248.50 L124.00,248.00 L124.19,247.50 L124.39,247.00 L124.58,246.50 L124.77,246.00 L124.92,245.60 L125.07,245.20 L125.22,244.80 L125.37,244.40 L125.53,244.00Z" fill="#2a9e2a" stroke="#0c440c" stroke-width="0.65" stroke-linejoin="round"/>
<line x1="124.38" y1="247.80" x2="127.62" y2="247.80" stroke="#0c440c" stroke-width="0.45" stroke-opacity="0.55"/>
<line x1="123.82" y1="250.00" x2="128.18" y2="250.00" stroke="#0c440c" stroke-width="0.45" stroke-opacity="0.55"/>
<line x1="123.48" y1="252.20" x2="128.52" y2="252.20" stroke="#0c440c" stroke-width="0.45" stroke-opacity="0.55"/>
<line x1="123.74" y1="254.40" x2="128.26" y2="254.40" stroke="#0c440c" stroke-width="0.45" stroke-opacity="0.55"/>
<line x1="124.10" y1="256.60" x2="127.90" y2="256.60" stroke="#0c440c" stroke-width="0.45" stroke-opacity="0.55"/>
<line x1="123.86941176470589" y1="249.5" x2="128.1305882352941" y2="249.5" stroke="#0c440c" stroke-width="0.55"/>
<line x1="123.41158536585365" y1="252" x2="128.58841463414635" y2="252" stroke="#0c440c" stroke-width="0.9"/>
<line x1="123.75914634146342" y1="255" x2="128.2408536585366" y2="255" stroke="#0c440c" stroke-width="0.55"/>
<line x1="143.8" y1="241.4" x2="143.8" y2="245.1" stroke="#5a2a30" stroke-width="0.95"/>
<line x1="143.8" y1="259.2" x2="143.8" y2="278" stroke="#5a2a30" stroke-width="0.95"/>
<path d="M144.37,244.60 L144.56,244.98 L144.75,245.36 L144.94,245.74 L145.13,246.12 L145.32,246.50 L145.51,247.00 L145.70,247.50 L145.89,248.00 L146.08,248.50 L146.27,249.00 L146.35,249.58 L146.42,250.16 L146.50,250.74 L146.57,251.32 L146.65,251.90 L146.61,252.42 L146.57,252.94 L146.54,253.46 L146.50,253.98 L146.46,254.50 L146.31,255.00 L146.16,255.50 L146.00,256.00 L145.85,256.50 L145.70,257.00 L145.43,257.54 L145.17,258.08 L144.90,258.62 L144.64,259.16 L144.37,259.70 L143.23,259.70 L142.96,259.16 L142.70,258.62 L142.43,258.08 L142.17,257.54 L141.90,257.00 L141.75,256.50 L141.60,256.00 L141.44,255.50 L141.29,255.00 L141.14,254.50 L141.10,253.98 L141.06,253.46 L141.03,252.94 L140.99,252.42 L140.95,251.90 L141.03,251.32 L141.10,250.74 L141.18,250.16 L141.25,249.58 L141.33,249.00 L141.52,248.50 L141.71,248.00 L141.90,247.50 L142.09,247.00 L142.28,246.50 L142.47,246.12 L142.66,245.74 L142.85,245.36 L143.04,244.98 L143.23,244.60Z" fill="#b00f28" stroke="#44040e" stroke-width="0.65" stroke-linejoin="round"/>
<line x1="142.09" y1="247.80" x2="145.51" y2="247.80" stroke="#44040e" stroke-width="0.45" stroke-opacity="0.55"/>
<line x1="141.50" y1="250.00" x2="146.10" y2="250.00" stroke="#44040e" stroke-width="0.45" stroke-opacity="0.55"/>
<line x1="141.27" y1="252.20" x2="146.33" y2="252.20" stroke="#44040e" stroke-width="0.45" stroke-opacity="0.55"/>
<line x1="141.43" y1="254.40" x2="146.17" y2="254.40" stroke="#44040e" stroke-width="0.45" stroke-opacity="0.55"/>
<line x1="142.08" y1="256.60" x2="145.52" y2="256.60" stroke="#44040e" stroke-width="0.45" stroke-opacity="0.55"/>
<line x1="154.3" y1="239.3" x2="154.3" y2="247.1" stroke="#6e6c88" stroke-width="0.95"/>
<line x1="154.3" y1="259.7" x2="154.3" y2="263.4" stroke="#6e6c88" stroke-width="0.95"/>
<path d="M154.78,246.60 L154.95,246.88 L155.12,247.16 L155.29,247.44 L155.46,247.72 L155.63,248.00 L155.80,248.40 L155.97,248.80 L156.14,249.20 L156.31,249.60 L156.49,250.00 L156.54,250.38 L156.60,250.76 L156.66,251.14 L156.71,251.52 L156.77,251.90 L156.71,252.42 L156.66,252.94 L156.60,253.46 L156.54,253.98 L156.49,254.50 L156.33,255.10 L156.18,255.70 L156.03,256.30 L155.88,256.90 L155.73,257.50 L155.54,258.04 L155.34,258.58 L155.16,259.12 L154.97,259.66 L154.78,260.20 L153.83,260.20 L153.64,259.66 L153.45,259.12 L153.26,258.58 L153.06,258.04 L152.88,257.50 L152.72,256.90 L152.57,256.30 L152.42,255.70 L152.27,255.10 L152.12,254.50 L152.06,253.98 L152.00,253.46 L151.94,252.94 L151.89,252.42 L151.83,251.90 L151.89,251.52 L151.94,251.14 L152.00,250.76 L152.06,250.38 L152.12,250.00 L152.29,249.60 L152.46,249.20 L152.63,248.80 L152.80,248.40 L152.97,248.00 L153.14,247.72 L153.31,247.44 L153.48,247.16 L153.65,246.88 L153.83,246.60Z" fill="#8882c2" stroke="#2e2a56" stroke-width="0.65" stroke-linejoin="round"/>
<line x1="152.59" y1="249.60" x2="156.01" y2="249.60" stroke="#2e2a56" stroke-width="0.45" stroke-opacity="0.55"/>
<line x1="152.15" y1="251.80" x2="156.46" y2="251.80" stroke="#2e2a56" stroke-width="0.45" stroke-opacity="0.55"/>
<line x1="152.36" y1="254.00" x2="156.24" y2="254.00" stroke="#2e2a56" stroke-width="0.45" stroke-opacity="0.55"/>
<line x1="152.85" y1="256.20" x2="155.75" y2="256.20" stroke="#2e2a56" stroke-width="0.45" stroke-opacity="0.55"/>
<line x1="152.29000000000002" y1="250.5" x2="156.31" y2="250.5" stroke="#36326a" stroke-width="0.55"/>
<line x1="152.12384615384616" y1="252.3" x2="156.47615384615386" y2="252.3" stroke="#36326a" stroke-width="0.9"/>
<line x1="152.365" y1="254.5" x2="156.235" y2="254.5" stroke="#36326a" stroke-width="0.55"/>
<line x1="165.0" y1="241.4" x2="165.0" y2="247.1" stroke="#2e3a2e" stroke-width="0.95"/>
<line x1="165.0" y1="262.9" x2="165.0" y2="286.4" stroke="#2e3a2e" stroke-width="0.95"/>
<path d="M165.47,246.60 L165.66,246.98 L165.85,247.36 L166.04,247.74 L166.24,248.12 L166.43,248.50 L166.63,249.10 L166.84,249.70 L167.05,250.30 L167.26,250.90 L167.47,251.50 L167.55,252.10 L167.62,252.70 L167.70,253.30 L167.77,253.90 L167.85,254.50 L167.79,255.10 L167.74,255.70 L167.68,256.30 L167.62,256.90 L167.56,257.50 L167.38,258.10 L167.19,258.70 L167.00,259.30 L166.81,259.90 L166.62,260.50 L166.39,261.08 L166.16,261.66 L165.93,262.24 L165.70,262.82 L165.47,263.40 L164.53,263.40 L164.30,262.82 L164.07,262.24 L163.84,261.66 L163.61,261.08 L163.38,260.50 L163.19,259.90 L163.00,259.30 L162.81,258.70 L162.62,258.10 L162.44,257.50 L162.38,256.90 L162.32,256.30 L162.26,255.70 L162.21,255.10 L162.15,254.50 L162.23,253.90 L162.30,253.30 L162.38,252.70 L162.45,252.10 L162.53,251.50 L162.74,250.90 L162.95,250.30 L163.16,249.70 L163.37,249.10 L163.57,248.50 L163.76,248.12 L163.96,247.74 L164.15,247.36 L164.34,246.98 L164.53,246.60Z" fill="#2a9e2a" stroke="#0c440c" stroke-width="0.65" stroke-linejoin="round"/>
<line x1="163.39" y1="249.90" x2="166.61" y2="249.90" stroke="#0c440c" stroke-width="0.45" stroke-opacity="0.55"/>
<line x1="162.75" y1="252.10" x2="167.25" y2="252.10" stroke="#0c440c" stroke-width="0.45" stroke-opacity="0.55"/>
<line x1="162.48" y1="254.30" x2="167.52" y2="254.30" stroke="#0c440c" stroke-width="0.45" stroke-opacity="0.55"/>
<line x1="162.64" y1="256.50" x2="167.36" y2="256.50" stroke="#0c440c" stroke-width="0.45" stroke-opacity="0.55"/>
<line x1="163.12" y1="258.70" x2="166.88" y2="258.70" stroke="#0c440c" stroke-width="0.45" stroke-opacity="0.55"/>
<line x1="162.78" y1="251.5" x2="167.22" y2="251.5" stroke="#0c440c" stroke-width="0.55"/>
<line x1="162.4" y1="254.5" x2="167.6" y2="254.5" stroke="#0c440c" stroke-width="0.9"/>
<line x1="162.685" y1="257.5" x2="167.315" y2="257.5" stroke="#0c440c" stroke-width="0.55"/>
<line x1="182.4" y1="261.5" x2="182.4" y2="273.3" stroke="#5a2a30" stroke-width="0.95"/>
<path d="M182.88,244.70 L183.01,245.26 L183.14,245.82 L183.27,246.38 L183.41,246.94 L183.54,247.50 L183.73,248.10 L183.92,248.70 L184.11,249.30 L184.30,249.90 L184.49,250.50 L184.59,251.00 L184.68,251.50 L184.78,252.00 L184.87,252.50 L184.97,253.00 L185.00,253.46 L185.04,253.92 L185.08,254.38 L185.12,254.84 L185.16,255.30 L185.06,255.84 L184.97,256.38 L184.87,256.92 L184.78,257.46 L184.68,258.00 L184.49,258.40 L184.30,258.80 L184.11,259.20 L183.92,259.60 L183.73,260.00 L183.56,260.40 L183.39,260.80 L183.22,261.20 L183.05,261.60 L182.88,262.00 L181.93,262.00 L181.75,261.60 L181.58,261.20 L181.41,260.80 L181.24,260.40 L181.07,260.00 L180.88,259.60 L180.69,259.20 L180.50,258.80 L180.31,258.40 L180.12,258.00 L180.03,257.46 L179.93,256.92 L179.84,256.38 L179.74,255.84 L179.65,255.30 L179.68,254.84 L179.72,254.38 L179.76,253.92 L179.80,253.46 L179.84,253.00 L179.93,252.50 L180.03,252.00 L180.12,251.50 L180.22,251.00 L180.31,250.50 L180.50,249.90 L180.69,249.30 L180.88,248.70 L181.07,248.10 L181.26,247.50 L181.39,246.94 L181.53,246.38 L181.66,245.82 L181.79,245.26 L181.93,244.70Z" fill="#b00f28" stroke="#44040e" stroke-width="0.65" stroke-linejoin="round"/>
<line x1="180.74" y1="250.10" x2="184.06" y2="250.10" stroke="#44040e" stroke-width="0.45" stroke-opacity="0.55"/>
<line x1="180.27" y1="252.30" x2="184.53" y2="252.30" stroke="#44040e" stroke-width="0.45" stroke-opacity="0.55"/>
<line x1="180.01" y1="254.50" x2="184.79" y2="254.50" stroke="#44040e" stroke-width="0.45" stroke-opacity="0.55"/>
<line x1="180.19" y1="256.70" x2="184.61" y2="256.70" stroke="#44040e" stroke-width="0.45" stroke-opacity="0.55"/>
<line x1="180.85" y1="258.90" x2="183.95" y2="258.90" stroke="#44040e" stroke-width="0.45" stroke-opacity="0.55"/>
<line x1="192.9" y1="262.8" x2="192.9" y2="268" stroke="#6e6c88" stroke-width="0.95"/>
<path d="M193.38,245.30 L193.51,246.04 L193.64,246.78 L193.77,247.52 L193.91,248.26 L194.04,249.00 L194.21,249.70 L194.38,250.40 L194.55,251.10 L194.72,251.80 L194.90,252.50 L195.01,253.34 L195.12,254.18 L195.24,255.02 L195.35,255.86 L195.47,256.70 L195.37,257.26 L195.28,257.82 L195.18,258.38 L195.09,258.94 L194.99,259.50 L194.82,259.90 L194.65,260.30 L194.48,260.70 L194.31,261.10 L194.14,261.50 L193.98,261.86 L193.83,262.22 L193.68,262.58 L193.53,262.94 L193.38,263.30 L192.43,263.30 L192.27,262.94 L192.12,262.58 L191.97,262.22 L191.82,261.86 L191.66,261.50 L191.49,261.10 L191.32,260.70 L191.15,260.30 L190.98,259.90 L190.81,259.50 L190.72,258.94 L190.62,258.38 L190.53,257.82 L190.43,257.26 L190.34,256.70 L190.45,255.86 L190.56,255.02 L190.68,254.18 L190.79,253.34 L190.91,252.50 L191.08,251.80 L191.25,251.10 L191.42,250.40 L191.59,249.70 L191.76,249.00 L191.89,248.26 L192.03,247.52 L192.16,246.78 L192.29,246.04 L192.43,245.30Z" fill="#8882c2" stroke="#2e2a56" stroke-width="0.65" stroke-linejoin="round"/>
<line x1="191.35" y1="251.90" x2="194.45" y2="251.90" stroke="#2e2a56" stroke-width="0.45" stroke-opacity="0.55"/>
<line x1="190.99" y1="254.10" x2="194.81" y2="254.10" stroke="#2e2a56" stroke-width="0.45" stroke-opacity="0.55"/>
<line x1="190.69" y1="256.30" x2="195.11" y2="256.30" stroke="#2e2a56" stroke-width="0.45" stroke-opacity="0.55"/>
<line x1="190.94" y1="258.50" x2="194.86" y2="258.50" stroke="#2e2a56" stroke-width="0.45" stroke-opacity="0.55"/>
<line x1="190.88357142857143" y1="254.5" x2="194.91642857142858" y2="254.5" stroke="#36326a" stroke-width="0.55"/>
<line x1="190.585" y1="256.7" x2="195.215" y2="256.7" stroke="#36326a" stroke-width="0.9"/>
<line x1="190.9751785714286" y1="259" x2="194.82482142857143" y2="259" stroke="#36326a" stroke-width="0.55"/>
<line x1="203.7" y1="270.8" x2="203.7" y2="302" stroke="#2e3a2e" stroke-width="0.95"/>
<path d="M204.17,246.00 L204.33,246.60 L204.48,247.20 L204.63,247.80 L204.78,248.40 L204.94,249.00 L205.12,249.70 L205.31,250.40 L205.50,251.10 L205.69,251.80 L205.88,252.50 L205.98,253.00 L206.07,253.50 L206.17,254.00 L206.26,254.50 L206.36,255.00 L206.42,255.46 L206.47,255.92 L206.53,256.38 L206.59,256.84 L206.64,257.30 L206.57,258.04 L206.49,258.78 L206.42,259.52 L206.34,260.26 L206.26,261.00 L206.13,261.80 L206.00,262.60 L205.87,263.40 L205.73,264.20 L205.60,265.00 L205.43,265.70 L205.26,266.40 L205.09,267.10 L204.92,267.80 L204.74,268.50 L204.63,269.06 L204.52,269.62 L204.40,270.18 L204.29,270.74 L204.17,271.30 L203.22,271.30 L203.11,270.74 L203.00,270.18 L202.88,269.62 L202.77,269.06 L202.66,268.50 L202.48,267.80 L202.31,267.10 L202.14,266.40 L201.97,265.70 L201.80,265.00 L201.67,264.20 L201.53,263.40 L201.40,262.60 L201.27,261.80 L201.13,261.00 L201.06,260.26 L200.98,259.52 L200.91,258.78 L200.83,258.04 L200.75,257.30 L200.81,256.84 L200.87,256.38 L200.93,255.92 L200.98,255.46 L201.04,255.00 L201.13,254.50 L201.23,254.00 L201.32,253.50 L201.42,253.00 L201.51,252.50 L201.70,251.80 L201.89,251.10 L202.08,250.40 L202.27,249.70 L202.46,249.00 L202.62,248.40 L202.77,247.80 L202.92,247.20 L203.07,246.60 L203.22,246.00Z" fill="#2a9e2a" stroke="#0c440c" stroke-width="0.65" stroke-linejoin="round"/>
<line x1="202.17" y1="251.20" x2="205.23" y2="251.20" stroke="#0c440c" stroke-width="0.45" stroke-opacity="0.55"/>
<line x1="201.64" y1="253.40" x2="205.76" y2="253.40" stroke="#0c440c" stroke-width="0.45" stroke-opacity="0.55"/>
<line x1="201.27" y1="255.60" x2="206.13" y2="255.60" stroke="#0c440c" stroke-width="0.45" stroke-opacity="0.55"/>
<line x1="201.11" y1="257.80" x2="206.29" y2="257.80" stroke="#0c440c" stroke-width="0.45" stroke-opacity="0.55"/>
<line x1="201.33" y1="260.00" x2="206.07" y2="260.00" stroke="#0c440c" stroke-width="0.45" stroke-opacity="0.55"/>
<line x1="201.63" y1="262.20" x2="205.77" y2="262.20" stroke="#0c440c" stroke-width="0.45" stroke-opacity="0.55"/>
<line x1="202.00" y1="264.40" x2="205.40" y2="264.40" stroke="#0c440c" stroke-width="0.45" stroke-opacity="0.55"/>
<line x1="201.48" y1="254" x2="205.92" y2="254" stroke="#0c440c" stroke-width="0.55"/>
<line x1="201.02554054054053" y1="257.5" x2="206.37445945945944" y2="257.5" stroke="#0c440c" stroke-width="0.9"/>
<line x1="201.468125" y1="261.5" x2="205.931875" y2="261.5" stroke="#0c440c" stroke-width="0.55"/>
<line x1="61.2" y1="395.5" x2="61.2" y2="497.0" stroke="#2b2b2b" stroke-width="1.3"/>
<line x1="58.6" y1="497.0" x2="61.2" y2="497.0" stroke="#2b2b2b" stroke-width="1"/>
<line x1="58.6" y1="477.05" x2="61.2" y2="477.05" stroke="#2b2b2b" stroke-width="1"/>
<line x1="58.6" y1="457.1" x2="61.2" y2="457.1" stroke="#2b2b2b" stroke-width="1"/>
<line x1="58.6" y1="437.15" x2="61.2" y2="437.15" stroke="#2b2b2b" stroke-width="1"/>
<line x1="58.6" y1="417.2" x2="61.2" y2="417.2" stroke="#2b2b2b" stroke-width="1"/>
<line x1="58.6" y1="397.25" x2="61.2" y2="397.25" stroke="#2b2b2b" stroke-width="1"/>
<line x1="59.7" y1="487.025" x2="61.2" y2="487.025" stroke="#2b2b2b" stroke-width="0.8"/>
<line x1="59.7" y1="467.075" x2="61.2" y2="467.075" stroke="#2b2b2b" stroke-width="0.8"/>
<line x1="59.7" y1="447.125" x2="61.2" y2="447.125" stroke="#2b2b2b" stroke-width="0.8"/>
<line x1="59.7" y1="427.175" x2="61.2" y2="427.175" stroke="#2b2b2b" stroke-width="0.8"/>
<line x1="59.7" y1="407.225" x2="61.2" y2="407.225" stroke="#2b2b2b" stroke-width="0.8"/>
<text x="55.6" y="499.6" font-size="7.3" text-anchor="end" fill="#333" font-weight="normal" textLength="10.96" lengthAdjust="spacingAndGlyphs" stroke="#333" stroke-width="0.2">0.0</text>
<text x="55.6" y="479.65000000000003" font-size="7.3" text-anchor="end" fill="#333" font-weight="normal" textLength="10.96" lengthAdjust="spacingAndGlyphs" stroke="#333" stroke-width="0.2">0.1</text>
<text x="55.6" y="459.70000000000005" font-size="7.3" text-anchor="end" fill="#333" font-weight="normal" textLength="10.96" lengthAdjust="spacingAndGlyphs" stroke="#333" stroke-width="0.2">0.2</text>
<text x="55.6" y="439.75" font-size="7.3" text-anchor="end" fill="#333" font-weight="normal" textLength="10.96" lengthAdjust="spacingAndGlyphs" stroke="#333" stroke-width="0.2">0.3</text>
<text x="55.6" y="419.8" font-size="7.3" text-anchor="end" fill="#333" font-weight="normal" textLength="10.96" lengthAdjust="spacingAndGlyphs" stroke="#333" stroke-width="0.2">0.4</text>
<text x="55.6" y="399.85" font-size="7.3" text-anchor="end" fill="#333" font-weight="normal" textLength="10.96" lengthAdjust="spacingAndGlyphs" stroke="#333" stroke-width="0.2">0.5</text>
<line x1="60.550000000000004" y1="497.0" x2="209.2" y2="497.0" stroke="#2b2b2b" stroke-width="1.3"/>
<line x1="77" y1="497.0" x2="77" y2="499.2" stroke="#2b2b2b" stroke-width="0.9"/>
<line x1="115.6" y1="497.0" x2="115.6" y2="499.2" stroke="#2b2b2b" stroke-width="0.9"/>
<line x1="154.4" y1="497.0" x2="154.4" y2="499.2" stroke="#2b2b2b" stroke-width="0.9"/>
<line x1="193.1" y1="497.0" x2="193.1" y2="499.2" stroke="#2b2b2b" stroke-width="0.9"/>
<text x="77" y="509.5" font-size="7.3" text-anchor="middle" fill="#333" font-weight="normal" textLength="4.38" lengthAdjust="spacingAndGlyphs" stroke="#333" stroke-width="0.2">5</text>
<text x="115.6" y="509.5" font-size="7.3" text-anchor="middle" fill="#333" font-weight="normal" textLength="8.77" lengthAdjust="spacingAndGlyphs" stroke="#333" stroke-width="0.2">14</text>
<text x="154.4" y="509.5" font-size="7.3" text-anchor="middle" fill="#333" font-weight="normal" textLength="8.77" lengthAdjust="spacingAndGlyphs" stroke="#333" stroke-width="0.2">28</text>
<text x="193.1" y="509.5" font-size="7.3" text-anchor="middle" fill="#333" font-weight="normal" textLength="8.77" lengthAdjust="spacingAndGlyphs" stroke="#333" stroke-width="0.2">42</text>
<text x="135" y="522" font-size="8.2" text-anchor="middle" fill="#333" font-weight="bold" textLength="40.4" lengthAdjust="spacingAndGlyphs">Day of storage</text>
<rect x="72.0" y="532.1999999999999" width="8.2" height="5.0" fill="#b00f28" stroke="#44040e" stroke-width="0.8"/>
<text x="84" y="536.9999999999999" font-size="7.3" text-anchor="start" fill="#333" font-weight="normal" textLength="26" lengthAdjust="spacingAndGlyphs" stroke="#333" stroke-width="0.2">U-RBCs</text>
<rect x="116.4" y="532.1999999999999" width="8.2" height="5.0" fill="#8882c2" stroke="#2e2a56" stroke-width="0.8"/>
<text x="128.2" y="536.9999999999999" font-size="7.3" text-anchor="start" fill="#333" font-weight="normal" textLength="25.6" lengthAdjust="spacingAndGlyphs" stroke="#333" stroke-width="0.2">Y-RBCs</text>
<rect x="159.70000000000002" y="532.1999999999999" width="8.099999999999977" height="5.0" fill="#2a9e2a" stroke="#0c440c" stroke-width="0.8"/>
<text x="171.2" y="536.9999999999999" font-size="7.3" text-anchor="start" fill="#333" font-weight="normal" textLength="27.6" lengthAdjust="spacingAndGlyphs" stroke="#333" stroke-width="0.2">O-RBCs</text>
<path d="M66.3,436.2 L66.3,388.8 L87.4,388.8 L87.4,391.9" fill="none" stroke="#6e6e6e" stroke-width="0.9"/>
<circle cx="76.60" cy="386.2" r="0.95" fill="#222"/>
<path d="M76.8,405.7 L76.8,397.7 L87.4,397.7 L87.4,423.0" fill="none" stroke="#6e6e6e" stroke-width="0.9"/>
<circle cx="81.90" cy="394.9" r="0.95" fill="#222"/>
<path d="M104.8,442.4 L104.8,397.4 L115.6,397.4 L115.6,439.0" fill="none" stroke="#6e6e6e" stroke-width="0.9"/>
<circle cx="110.40" cy="394.9" r="0.95" fill="#222"/>
<path d="M115.6,394.6 L115.6,390.2 L126.4,390.2 L126.4,434.8" fill="none" stroke="#6e6e6e" stroke-width="0.9"/>
<circle cx="116.35" cy="387.6" r="0.95" fill="#222"/>
<circle cx="119.45" cy="387.6" r="0.95" fill="#222"/>
<circle cx="122.55" cy="387.6" r="0.95" fill="#222"/>
<circle cx="125.65" cy="387.6" r="0.95" fill="#222"/>
<path d="M154.3,438.6 L154.3,397.8 L164.7,397.8 L164.7,438.6" fill="none" stroke="#6e6e6e" stroke-width="0.9"/>
<circle cx="159.50" cy="395.0" r="0.95" fill="#222"/>
<path d="M182.5,443.0 L182.5,397.8 L203.8,397.8 L203.8,439.7" fill="none" stroke="#6e6e6e" stroke-width="0.9"/>
<circle cx="193.20" cy="395.0" r="0.95" fill="#222"/>
<line x1="66.6" y1="443" x2="66.6" y2="457.5" stroke="#5a2a30" stroke-width="0.95"/>
<line x1="66.6" y1="473.3" x2="66.6" y2="477" stroke="#5a2a30" stroke-width="0.95"/>
<path d="M66.98,457.00 L67.19,457.60 L67.40,458.20 L67.61,458.80 L67.82,459.40 L68.02,460.00 L68.18,460.70 L68.33,461.40 L68.48,462.10 L68.63,462.80 L68.78,463.50 L68.86,464.20 L68.94,464.90 L69.01,465.60 L69.09,466.30 L69.16,467.00 L69.03,467.70 L68.90,468.40 L68.77,469.10 L68.63,469.80 L68.50,470.50 L68.21,471.16 L67.93,471.82 L67.64,472.48 L67.36,473.14 L67.07,473.80 L66.12,473.80 L65.84,473.14 L65.55,472.48 L65.27,471.82 L64.98,471.16 L64.70,470.50 L64.57,469.80 L64.43,469.10 L64.30,468.40 L64.17,467.70 L64.03,467.00 L64.11,466.30 L64.19,465.60 L64.26,464.90 L64.34,464.20 L64.41,463.50 L64.57,462.80 L64.72,462.10 L64.87,461.40 L65.02,460.70 L65.17,460.00 L65.38,459.40 L65.59,458.80 L65.80,458.20 L66.01,457.60 L66.22,457.00Z" fill="#b00f28" stroke="#44040e" stroke-width="0.65" stroke-linejoin="round"/>
<line x1="65.00" y1="462.20" x2="68.20" y2="462.20" stroke="#44040e" stroke-width="0.45" stroke-opacity="0.55"/>
<line x1="64.62" y1="464.40" x2="68.58" y2="464.40" stroke="#44040e" stroke-width="0.45" stroke-opacity="0.55"/>
<line x1="64.38" y1="466.60" x2="68.82" y2="466.60" stroke="#44040e" stroke-width="0.45" stroke-opacity="0.55"/>
<line x1="64.68" y1="468.80" x2="68.52" y2="468.80" stroke="#44040e" stroke-width="0.45" stroke-opacity="0.55"/>
<line x1="65.22" y1="471.00" x2="67.98" y2="471.00" stroke="#44040e" stroke-width="0.45" stroke-opacity="0.55"/>
<line x1="77.1" y1="406" x2="77.1" y2="464.5" stroke="#6e6c88" stroke-width="0.95"/>
<line x1="77.1" y1="477.0" x2="77.1" y2="483.5" stroke="#6e6c88" stroke-width="0.95"/>
<path d="M77.48,464.00 L77.75,464.80 L78.01,465.60 L78.28,466.40 L78.54,467.20 L78.81,468.00 L78.96,468.72 L79.11,469.44 L79.27,470.16 L79.42,470.88 L79.57,471.60 L79.46,472.18 L79.34,472.76 L79.23,473.34 L79.11,473.92 L79.00,474.50 L78.71,475.10 L78.43,475.70 L78.14,476.30 L77.86,476.90 L77.57,477.50 L76.62,477.50 L76.34,476.90 L76.05,476.30 L75.77,475.70 L75.48,475.10 L75.20,474.50 L75.09,473.92 L74.97,473.34 L74.86,472.76 L74.74,472.18 L74.63,471.60 L74.78,470.88 L74.93,470.16 L75.09,469.44 L75.24,468.72 L75.39,468.00 L75.66,467.20 L75.92,466.40 L76.19,465.60 L76.45,464.80 L76.72,464.00Z" fill="#8882c2" stroke="#2e2a56" stroke-width="0.65" stroke-linejoin="round"/>
<line x1="75.52" y1="468.80" x2="78.68" y2="468.80" stroke="#2e2a56" stroke-width="0.45" stroke-opacity="0.55"/>
<line x1="75.06" y1="471.00" x2="79.14" y2="471.00" stroke="#2e2a56" stroke-width="0.45" stroke-opacity="0.55"/>
<line x1="75.24" y1="473.20" x2="78.96" y2="473.20" stroke="#2e2a56" stroke-width="0.45" stroke-opacity="0.55"/>
<line x1="75.21777777777777" y1="470" x2="78.98222222222222" y2="470" stroke="#36326a" stroke-width="0.55"/>
<line x1="74.95862068965516" y1="472" x2="79.24137931034483" y2="472" stroke="#36326a" stroke-width="0.9"/>
<line x1="75.35172413793103" y1="474" x2="78.84827586206896" y2="474" stroke="#36326a" stroke-width="0.55"/>
<line x1="87.3" y1="425.5" x2="87.3" y2="456.0" stroke="#2e3a2e" stroke-width="0.95"/>
<line x1="87.3" y1="473.5" x2="87.3" y2="478" stroke="#2e3a2e" stroke-width="0.95"/>
<path d="M87.68,455.50 L87.95,456.10 L88.21,456.70 L88.48,457.30 L88.74,457.90 L89.01,458.50 L89.16,459.20 L89.31,459.90 L89.47,460.60 L89.62,461.30 L89.77,462.00 L89.81,462.60 L89.85,463.20 L89.88,463.80 L89.92,464.40 L89.96,465.00 L89.94,465.60 L89.92,466.20 L89.90,466.80 L89.88,467.40 L89.86,468.00 L89.69,468.70 L89.52,469.40 L89.35,470.10 L89.18,470.80 L89.01,471.50 L88.76,472.00 L88.52,472.50 L88.27,473.00 L88.02,473.50 L87.77,474.00 L86.83,474.00 L86.58,473.50 L86.33,473.00 L86.08,472.50 L85.84,472.00 L85.59,471.50 L85.42,470.80 L85.25,470.10 L85.08,469.40 L84.91,468.70 L84.73,468.00 L84.72,467.40 L84.70,466.80 L84.68,466.20 L84.66,465.60 L84.64,465.00 L84.68,464.40 L84.72,463.80 L84.75,463.20 L84.79,462.60 L84.83,462.00 L84.98,461.30 L85.13,460.60 L85.29,459.90 L85.44,459.20 L85.59,458.50 L85.86,457.90 L86.12,457.30 L86.39,456.70 L86.65,456.10 L86.92,455.50Z" fill="#2a9e2a" stroke="#0c440c" stroke-width="0.65" stroke-linejoin="round"/>
<line x1="85.72" y1="459.30" x2="88.88" y2="459.30" stroke="#0c440c" stroke-width="0.45" stroke-opacity="0.55"/>
<line x1="85.24" y1="461.50" x2="89.36" y2="461.50" stroke="#0c440c" stroke-width="0.45" stroke-opacity="0.55"/>
<line x1="85.02" y1="463.70" x2="89.58" y2="463.70" stroke="#0c440c" stroke-width="0.45" stroke-opacity="0.55"/>
<line x1="84.97" y1="465.90" x2="89.63" y2="465.90" stroke="#0c440c" stroke-width="0.45" stroke-opacity="0.55"/>
<line x1="85.06" y1="468.10" x2="89.54" y2="468.10" stroke="#0c440c" stroke-width="0.45" stroke-opacity="0.55"/>
<line x1="85.60" y1="470.30" x2="89.00" y2="470.30" stroke="#0c440c" stroke-width="0.45" stroke-opacity="0.55"/>
<line x1="85.29714285714286" y1="461" x2="89.30285714285714" y2="461" stroke="#0c440c" stroke-width="0.55"/>
<line x1="84.89" y1="465" x2="89.71" y2="465" stroke="#0c440c" stroke-width="0.9"/>
<line x1="85.22928571428571" y1="469" x2="89.37071428571429" y2="469" stroke="#0c440c" stroke-width="0.55"/>
<line x1="105.0" y1="449.5" x2="105.0" y2="455.5" stroke="#5a2a30" stroke-width="0.95"/>
<line x1="105.0" y1="473.0" x2="105.0" y2="475.3" stroke="#5a2a30" stroke-width="0.95"/>
<path d="M105.38,455.00 L105.53,455.80 L105.68,456.60 L105.84,457.40 L105.99,458.20 L106.14,459.00 L106.27,459.90 L106.41,460.80 L106.54,461.70 L106.67,462.60 L106.81,463.50 L106.94,464.50 L107.07,465.50 L107.20,466.50 L107.34,467.50 L107.47,468.50 L107.36,469.10 L107.24,469.70 L107.13,470.30 L107.01,470.90 L106.90,471.50 L106.61,471.90 L106.33,472.30 L106.05,472.70 L105.76,473.10 L105.47,473.50 L104.53,473.50 L104.24,473.10 L103.95,472.70 L103.67,472.30 L103.39,471.90 L103.10,471.50 L102.99,470.90 L102.87,470.30 L102.76,469.70 L102.64,469.10 L102.53,468.50 L102.66,467.50 L102.80,466.50 L102.93,465.50 L103.06,464.50 L103.19,463.50 L103.33,462.60 L103.46,461.70 L103.59,460.80 L103.73,459.90 L103.86,459.00 L104.01,458.20 L104.16,457.40 L104.32,456.60 L104.47,455.80 L104.62,455.00Z" fill="#b00f28" stroke="#44040e" stroke-width="0.65" stroke-linejoin="round"/>
<line x1="103.51" y1="463.40" x2="106.49" y2="463.40" stroke="#44040e" stroke-width="0.45" stroke-opacity="0.55"/>
<line x1="103.22" y1="465.60" x2="106.78" y2="465.60" stroke="#44040e" stroke-width="0.45" stroke-opacity="0.55"/>
<line x1="102.92" y1="467.80" x2="107.08" y2="467.80" stroke="#44040e" stroke-width="0.45" stroke-opacity="0.55"/>
<line x1="103.11" y1="470.00" x2="106.89" y2="470.00" stroke="#44040e" stroke-width="0.45" stroke-opacity="0.55"/>
<line x1="115.3" y1="446.8" x2="115.3" y2="466.0" stroke="#6e6c88" stroke-width="0.95"/>
<line x1="115.3" y1="474.5" x2="115.3" y2="476" stroke="#6e6c88" stroke-width="0.95"/>
<path d="M115.68,465.50 L115.95,465.80 L116.21,466.10 L116.48,466.40 L116.74,466.70 L117.01,467.00 L117.24,467.48 L117.47,467.96 L117.69,468.44 L117.92,468.92 L118.15,469.40 L118.04,470.02 L117.92,470.64 L117.81,471.26 L117.69,471.88 L117.58,472.50 L117.22,473.00 L116.86,473.50 L116.50,474.00 L116.14,474.50 L115.77,475.00 L114.83,475.00 L114.46,474.50 L114.10,474.00 L113.74,473.50 L113.38,473.00 L113.02,472.50 L112.91,471.88 L112.79,471.26 L112.68,470.64 L112.56,470.02 L112.45,469.40 L112.68,468.92 L112.91,468.44 L113.13,467.96 L113.36,467.48 L113.59,467.00 L113.86,466.70 L114.12,466.40 L114.39,466.10 L114.65,465.80 L114.92,465.50Z" fill="#8882c2" stroke="#2e2a56" stroke-width="0.65" stroke-linejoin="round"/>
<line x1="113.51" y1="467.80" x2="117.09" y2="467.80" stroke="#2e2a56" stroke-width="0.45" stroke-opacity="0.55"/>
<line x1="112.86" y1="470.00" x2="117.74" y2="470.00" stroke="#2e2a56" stroke-width="0.45" stroke-opacity="0.55"/>
<line x1="113.26" y1="472.20" x2="117.34" y2="472.20" stroke="#2e2a56" stroke-width="0.45" stroke-opacity="0.55"/>
<line x1="113.22249999999998" y1="468.3" x2="117.37750000000001" y2="468.3" stroke="#36326a" stroke-width="0.55"/>
<line x1="112.81032258064516" y1="470" x2="117.78967741935483" y2="470" stroke="#36326a" stroke-width="0.9"/>
<line x1="113.17806451612903" y1="472" x2="117.42193548387097" y2="472" stroke="#36326a" stroke-width="0.55"/>
<line x1="126.2" y1="441.4" x2="126.2" y2="454.0" stroke="#2e3a2e" stroke-width="0.95"/>
<line x1="126.2" y1="472.7" x2="126.2" y2="477.5" stroke="#2e3a2e" stroke-width="0.95"/>
<path d="M126.58,453.50 L126.85,454.00 L127.11,454.50 L127.38,455.00 L127.64,455.50 L127.91,456.00 L128.08,456.60 L128.25,457.20 L128.42,457.80 L128.59,458.40 L128.77,459.00 L128.65,459.70 L128.54,460.40 L128.42,461.10 L128.31,461.80 L128.19,462.50 L128.33,463.20 L128.46,463.90 L128.59,464.60 L128.73,465.30 L128.86,466.00 L128.71,466.80 L128.56,467.60 L128.40,468.40 L128.25,469.20 L128.10,470.00 L127.81,470.64 L127.53,471.28 L127.25,471.92 L126.96,472.56 L126.67,473.20 L125.73,473.20 L125.44,472.56 L125.16,471.92 L124.87,471.28 L124.59,470.64 L124.30,470.00 L124.15,469.20 L124.00,468.40 L123.84,467.60 L123.69,466.80 L123.54,466.00 L123.67,465.30 L123.81,464.60 L123.94,463.90 L124.07,463.20 L124.20,462.50 L124.09,461.80 L123.98,461.10 L123.86,460.40 L123.75,459.70 L123.64,459.00 L123.81,458.40 L123.98,457.80 L124.15,457.20 L124.32,456.60 L124.49,456.00 L124.76,455.50 L125.02,455.00 L125.29,454.50 L125.55,454.00 L125.82,453.50Z" fill="#2a9e2a" stroke="#0c440c" stroke-width="0.65" stroke-linejoin="round"/>
<line x1="124.56" y1="456.80" x2="127.84" y2="456.80" stroke="#0c440c" stroke-width="0.45" stroke-opacity="0.55"/>
<line x1="123.94" y1="459.00" x2="128.47" y2="459.00" stroke="#0c440c" stroke-width="0.45" stroke-opacity="0.55"/>
<line x1="124.29" y1="461.20" x2="128.11" y2="461.20" stroke="#0c440c" stroke-width="0.45" stroke-opacity="0.55"/>
<line x1="124.33" y1="463.40" x2="128.07" y2="463.40" stroke="#0c440c" stroke-width="0.45" stroke-opacity="0.55"/>
<line x1="123.92" y1="465.60" x2="128.48" y2="465.60" stroke="#0c440c" stroke-width="0.45" stroke-opacity="0.55"/>
<line x1="124.18" y1="467.80" x2="128.22" y2="467.80" stroke="#0c440c" stroke-width="0.45" stroke-opacity="0.55"/>
<line x1="124.60" y1="470.00" x2="127.80" y2="470.00" stroke="#0c440c" stroke-width="0.45" stroke-opacity="0.55"/>
<line x1="123.885" y1="459" x2="128.51500000000001" y2="459" stroke="#0c440c" stroke-width="0.55"/>
<line x1="124.455" y1="462.5" x2="127.945" y2="462.5" stroke="#0c440c" stroke-width="0.9"/>
<line x1="123.79" y1="466" x2="128.61" y2="466" stroke="#0c440c" stroke-width="0.55"/>
<line x1="143.9" y1="439.6" x2="143.9" y2="454.5" stroke="#5a2a30" stroke-width="0.95"/>
<line x1="143.9" y1="473.0" x2="143.9" y2="476.2" stroke="#5a2a30" stroke-width="0.95"/>
<path d="M144.28,454.00 L144.47,454.60 L144.66,455.20 L144.85,455.80 L145.04,456.40 L145.23,457.00 L145.38,457.80 L145.53,458.60 L145.69,459.40 L145.84,460.20 L145.99,461.00 L146.09,461.70 L146.18,462.40 L146.28,463.10 L146.37,463.80 L146.47,464.50 L146.41,465.20 L146.35,465.90 L146.29,466.60 L146.24,467.30 L146.18,468.00 L145.99,468.70 L145.80,469.40 L145.61,470.10 L145.42,470.80 L145.23,471.50 L145.04,471.90 L144.85,472.30 L144.66,472.70 L144.47,473.10 L144.28,473.50 L143.52,473.50 L143.33,473.10 L143.14,472.70 L142.95,472.30 L142.76,471.90 L142.57,471.50 L142.38,470.80 L142.19,470.10 L142.00,469.40 L141.81,468.70 L141.62,468.00 L141.56,467.30 L141.51,466.60 L141.45,465.90 L141.39,465.20 L141.34,464.50 L141.43,463.80 L141.53,463.10 L141.62,462.40 L141.72,461.70 L141.81,461.00 L141.96,460.20 L142.11,459.40 L142.27,458.60 L142.42,457.80 L142.57,457.00 L142.76,456.40 L142.95,455.80 L143.14,455.20 L143.33,454.60 L143.52,454.00Z" fill="#b00f28" stroke="#44040e" stroke-width="0.65" stroke-linejoin="round"/>
<line x1="142.41" y1="459.40" x2="145.39" y2="459.40" stroke="#44040e" stroke-width="0.45" stroke-opacity="0.55"/>
<line x1="142.03" y1="461.60" x2="145.77" y2="461.60" stroke="#44040e" stroke-width="0.45" stroke-opacity="0.55"/>
<line x1="141.73" y1="463.80" x2="146.07" y2="463.80" stroke="#44040e" stroke-width="0.45" stroke-opacity="0.55"/>
<line x1="141.76" y1="466.00" x2="146.04" y2="466.00" stroke="#44040e" stroke-width="0.45" stroke-opacity="0.55"/>
<line x1="141.97" y1="468.20" x2="145.83" y2="468.20" stroke="#44040e" stroke-width="0.45" stroke-opacity="0.55"/>
<line x1="154.2" y1="445" x2="154.2" y2="454.5" stroke="#6e6c88" stroke-width="0.95"/>
<line x1="154.2" y1="472.0" x2="154.2" y2="479.3" stroke="#6e6c88" stroke-width="0.95"/>
<path d="M154.58,454.00 L154.73,454.80 L154.88,455.60 L155.04,456.40 L155.19,457.20 L155.34,458.00 L155.49,459.00 L155.64,460.00 L155.80,461.00 L155.95,462.00 L156.10,463.00 L156.25,463.92 L156.40,464.84 L156.56,465.76 L156.71,466.68 L156.86,467.60 L156.67,468.18 L156.48,468.76 L156.29,469.34 L156.10,469.92 L155.91,470.50 L155.66,470.90 L155.42,471.30 L155.17,471.70 L154.92,472.10 L154.67,472.50 L153.72,472.50 L153.48,472.10 L153.23,471.70 L152.98,471.30 L152.74,470.90 L152.49,470.50 L152.30,469.92 L152.11,469.34 L151.92,468.76 L151.73,468.18 L151.54,467.60 L151.69,466.68 L151.84,465.76 L152.00,464.84 L152.15,463.92 L152.30,463.00 L152.45,462.00 L152.60,461.00 L152.76,460.00 L152.91,459.00 L153.06,458.00 L153.21,457.20 L153.36,456.40 L153.52,455.60 L153.67,454.80 L153.82,454.00Z" fill="#8882c2" stroke="#2e2a56" stroke-width="0.65" stroke-linejoin="round"/>
<line x1="152.63" y1="462.80" x2="155.77" y2="462.80" stroke="#2e2a56" stroke-width="0.45" stroke-opacity="0.55"/>
<line x1="152.27" y1="465.00" x2="156.13" y2="465.00" stroke="#2e2a56" stroke-width="0.45" stroke-opacity="0.55"/>
<line x1="151.91" y1="467.20" x2="156.49" y2="467.20" stroke="#2e2a56" stroke-width="0.45" stroke-opacity="0.55"/>
<line x1="152.43" y1="469.40" x2="155.97" y2="469.40" stroke="#2e2a56" stroke-width="0.45" stroke-opacity="0.55"/>
<line x1="152.2195652173913" y1="465" x2="156.18043478260867" y2="465" stroke="#36326a" stroke-width="0.55"/>
<line x1="151.79" y1="467.6" x2="156.60999999999999" y2="467.6" stroke="#36326a" stroke-width="0.9"/>
<line x1="152.5762068965517" y1="470" x2="155.82379310344828" y2="470" stroke="#36326a" stroke-width="0.55"/>
<line x1="164.6" y1="444.6" x2="164.6" y2="450.0" stroke="#2e3a2e" stroke-width="0.95"/>
<line x1="164.6" y1="473.7" x2="164.6" y2="478" stroke="#2e3a2e" stroke-width="0.95"/>
<path d="M164.98,449.50 L165.13,450.00 L165.28,450.50 L165.44,451.00 L165.59,451.50 L165.74,452.00 L165.89,453.00 L166.04,454.00 L166.20,455.00 L166.35,456.00 L166.50,457.00 L166.58,457.80 L166.65,458.60 L166.73,459.40 L166.80,460.20 L166.88,461.00 L166.99,461.80 L167.11,462.60 L167.22,463.40 L167.34,464.20 L167.45,465.00 L167.34,465.80 L167.22,466.60 L167.11,467.40 L166.99,468.20 L166.88,469.00 L166.73,469.60 L166.58,470.20 L166.42,470.80 L166.27,471.40 L166.12,472.00 L165.91,472.44 L165.70,472.88 L165.49,473.32 L165.28,473.76 L165.07,474.20 L164.12,474.20 L163.92,473.76 L163.71,473.32 L163.50,472.88 L163.29,472.44 L163.08,472.00 L162.93,471.40 L162.78,470.80 L162.62,470.20 L162.47,469.60 L162.32,469.00 L162.21,468.20 L162.09,467.40 L161.98,466.60 L161.86,465.80 L161.75,465.00 L161.86,464.20 L161.98,463.40 L162.09,462.60 L162.21,461.80 L162.32,461.00 L162.40,460.20 L162.47,459.40 L162.55,458.60 L162.62,457.80 L162.70,457.00 L162.85,456.00 L163.00,455.00 L163.16,454.00 L163.31,453.00 L163.46,452.00 L163.61,451.50 L163.76,451.00 L163.92,450.50 L164.07,450.00 L164.22,449.50Z" fill="#2a9e2a" stroke="#0c440c" stroke-width="0.65" stroke-linejoin="round"/>
<line x1="163.03" y1="456.80" x2="166.17" y2="456.80" stroke="#0c440c" stroke-width="0.45" stroke-opacity="0.55"/>
<line x1="162.81" y1="459.00" x2="166.39" y2="459.00" stroke="#0c440c" stroke-width="0.45" stroke-opacity="0.55"/>
<line x1="162.59" y1="461.20" x2="166.61" y2="461.20" stroke="#0c440c" stroke-width="0.45" stroke-opacity="0.55"/>
<line x1="162.28" y1="463.40" x2="166.92" y2="463.40" stroke="#0c440c" stroke-width="0.45" stroke-opacity="0.55"/>
<line x1="162.14" y1="465.60" x2="167.06" y2="465.60" stroke="#0c440c" stroke-width="0.45" stroke-opacity="0.55"/>
<line x1="162.45" y1="467.80" x2="166.75" y2="467.80" stroke="#0c440c" stroke-width="0.45" stroke-opacity="0.55"/>
<line x1="162.87" y1="470.00" x2="166.33" y2="470.00" stroke="#0c440c" stroke-width="0.45" stroke-opacity="0.55"/>
<line x1="162.76" y1="459" x2="166.44" y2="459" stroke="#0c440c" stroke-width="0.55"/>
<line x1="162.0" y1="465" x2="167.2" y2="465" stroke="#0c440c" stroke-width="0.9"/>
<line x1="162.57" y1="469" x2="166.63" y2="469" stroke="#0c440c" stroke-width="0.55"/>
<line x1="182.5" y1="451.3" x2="182.5" y2="456.5" stroke="#5a2a30" stroke-width="0.95"/>
<line x1="182.5" y1="468.5" x2="182.5" y2="473" stroke="#5a2a30" stroke-width="0.95"/>
<path d="M182.88,456.00 L183.09,456.60 L183.30,457.20 L183.51,457.80 L183.72,458.40 L183.93,459.00 L184.06,459.60 L184.19,460.20 L184.32,460.80 L184.46,461.40 L184.59,462.00 L184.67,462.58 L184.74,463.16 L184.82,463.74 L184.89,464.32 L184.97,464.90 L184.86,465.32 L184.74,465.74 L184.63,466.16 L184.51,466.58 L184.40,467.00 L184.12,467.40 L183.83,467.80 L183.54,468.20 L183.26,468.60 L182.97,469.00 L182.03,469.00 L181.74,468.60 L181.46,468.20 L181.17,467.80 L180.88,467.40 L180.60,467.00 L180.49,466.58 L180.37,466.16 L180.26,465.74 L180.14,465.32 L180.03,464.90 L180.11,464.32 L180.18,463.74 L180.26,463.16 L180.33,462.58 L180.41,462.00 L180.54,461.40 L180.68,460.80 L180.81,460.20 L180.94,459.60 L181.07,459.00 L181.28,458.40 L181.49,457.80 L181.70,457.20 L181.91,456.60 L182.12,456.00Z" fill="#b00f28" stroke="#44040e" stroke-width="0.65" stroke-linejoin="round"/>
<line x1="180.93" y1="461.00" x2="184.07" y2="461.00" stroke="#44040e" stroke-width="0.45" stroke-opacity="0.55"/>
<line x1="180.55" y1="463.20" x2="184.45" y2="463.20" stroke="#44040e" stroke-width="0.45" stroke-opacity="0.55"/>
<line x1="180.47" y1="465.40" x2="184.53" y2="465.40" stroke="#44040e" stroke-width="0.45" stroke-opacity="0.55"/>
<line x1="193.1" y1="441.4" x2="193.1" y2="456.5" stroke="#6e6c88" stroke-width="0.95"/>
<line x1="193.1" y1="468.8" x2="193.1" y2="473" stroke="#6e6c88" stroke-width="0.95"/>
<path d="M193.48,456.00 L193.71,456.50 L193.94,457.00 L194.16,457.50 L194.39,458.00 L194.62,458.50 L194.77,459.00 L194.92,459.50 L195.08,460.00 L195.23,460.50 L195.38,461.00 L195.46,461.50 L195.53,462.00 L195.61,462.50 L195.68,463.00 L195.76,463.50 L195.61,464.10 L195.46,464.70 L195.30,465.30 L195.15,465.90 L195.00,466.50 L194.72,467.06 L194.43,467.62 L194.14,468.18 L193.86,468.74 L193.57,469.30 L192.62,469.30 L192.34,468.74 L192.06,468.18 L191.77,467.62 L191.48,467.06 L191.20,466.50 L191.05,465.90 L190.90,465.30 L190.74,464.70 L190.59,464.10 L190.44,463.50 L190.52,463.00 L190.59,462.50 L190.67,462.00 L190.74,461.50 L190.82,461.00 L190.97,460.50 L191.12,460.00 L191.28,459.50 L191.43,459.00 L191.58,458.50 L191.81,458.00 L192.04,457.50 L192.26,457.00 L192.49,456.50 L192.72,456.00Z" fill="#8882c2" stroke="#2e2a56" stroke-width="0.65" stroke-linejoin="round"/>
<line x1="191.48" y1="459.80" x2="194.72" y2="459.80" stroke="#2e2a56" stroke-width="0.45" stroke-opacity="0.55"/>
<line x1="190.97" y1="462.00" x2="195.23" y2="462.00" stroke="#2e2a56" stroke-width="0.45" stroke-opacity="0.55"/>
<line x1="190.92" y1="464.20" x2="195.28" y2="464.20" stroke="#2e2a56" stroke-width="0.45" stroke-opacity="0.55"/>
<line x1="191.47" y1="466.40" x2="194.73" y2="466.40" stroke="#2e2a56" stroke-width="0.45" stroke-opacity="0.55"/>
<line x1="191.07" y1="461" x2="195.13" y2="461" stroke="#36326a" stroke-width="0.55"/>
<line x1="190.69" y1="463.5" x2="195.51" y2="463.5" stroke="#36326a" stroke-width="0.9"/>
<line x1="191.32333333333332" y1="466" x2="194.87666666666667" y2="466" stroke="#36326a" stroke-width="0.55"/>
<line x1="203.6" y1="445" x2="203.6" y2="449.0" stroke="#2e3a2e" stroke-width="0.95"/>
<line x1="203.6" y1="469.8" x2="203.6" y2="473" stroke="#2e3a2e" stroke-width="0.95"/>
<path d="M203.98,448.50 L204.21,449.00 L204.44,449.50 L204.66,450.00 L204.89,450.50 L205.12,451.00 L205.25,451.50 L205.39,452.00 L205.52,452.50 L205.65,453.00 L205.78,453.50 L205.92,454.10 L206.05,454.70 L206.18,455.30 L206.32,455.90 L206.45,456.50 L206.32,457.40 L206.18,458.30 L206.05,459.20 L205.92,460.10 L205.78,461.00 L205.92,461.80 L206.05,462.60 L206.18,463.40 L206.32,464.20 L206.45,465.00 L206.26,465.60 L206.07,466.20 L205.88,466.80 L205.69,467.40 L205.50,468.00 L205.22,468.46 L204.93,468.92 L204.64,469.38 L204.36,469.84 L204.07,470.30 L203.12,470.30 L202.84,469.84 L202.56,469.38 L202.27,468.92 L201.98,468.46 L201.70,468.00 L201.51,467.40 L201.32,466.80 L201.13,466.20 L200.94,465.60 L200.75,465.00 L200.88,464.20 L201.02,463.40 L201.15,462.60 L201.28,461.80 L201.41,461.00 L201.28,460.10 L201.15,459.20 L201.02,458.30 L200.88,457.40 L200.75,456.50 L200.88,455.90 L201.02,455.30 L201.15,454.70 L201.28,454.10 L201.41,453.50 L201.55,453.00 L201.68,452.50 L201.81,452.00 L201.95,451.50 L202.08,451.00 L202.31,450.50 L202.54,450.00 L202.76,449.50 L202.99,449.00 L203.22,448.50Z" fill="#2a9e2a" stroke="#0c440c" stroke-width="0.65" stroke-linejoin="round"/>
<line x1="202.03" y1="452.30" x2="205.17" y2="452.30" stroke="#0c440c" stroke-width="0.45" stroke-opacity="0.55"/>
<line x1="201.49" y1="454.50" x2="205.71" y2="454.50" stroke="#0c440c" stroke-width="0.45" stroke-opacity="0.55"/>
<line x1="201.08" y1="456.70" x2="206.12" y2="456.70" stroke="#0c440c" stroke-width="0.45" stroke-opacity="0.55"/>
<line x1="201.40" y1="458.90" x2="205.80" y2="458.90" stroke="#0c440c" stroke-width="0.45" stroke-opacity="0.55"/>
<line x1="201.70" y1="461.10" x2="205.50" y2="461.10" stroke="#0c440c" stroke-width="0.45" stroke-opacity="0.55"/>
<line x1="201.33" y1="463.30" x2="205.87" y2="463.30" stroke="#0c440c" stroke-width="0.45" stroke-opacity="0.55"/>
<line x1="201.21" y1="465.50" x2="205.99" y2="465.50" stroke="#0c440c" stroke-width="0.45" stroke-opacity="0.55"/>
<line x1="201.91" y1="467.70" x2="205.29" y2="467.70" stroke="#0c440c" stroke-width="0.45" stroke-opacity="0.55"/>
<line x1="201.0" y1="456.5" x2="206.2" y2="456.5" stroke="#0c440c" stroke-width="0.55"/>
<line x1="201.665" y1="461" x2="205.535" y2="461" stroke="#0c440c" stroke-width="0.9"/>
<line x1="201.0" y1="465" x2="206.2" y2="465" stroke="#0c440c" stroke-width="0.55"/>
<text transform="translate(34.0,263.7) rotate(-90)" x="0" y="0" font-size="10.2" fill="#333" font-weight="bold" textLength="5.0" lengthAdjust="spacingAndGlyphs">EI</text>
<text transform="translate(35.8,258.0) rotate(-90)" x="0" y="0" font-size="5.6" fill="#333" stroke="#333" stroke-width="0.2" textLength="12.0" lengthAdjust="spacingAndGlyphs">hyper</text>
<text transform="translate(38.9,452.4) rotate(-90)" x="0" y="0" font-size="10.2" fill="#333" font-weight="bold" textLength="5.0" lengthAdjust="spacingAndGlyphs">EI</text>
<text transform="translate(40.8,447.0) rotate(-90)" x="0" y="0" font-size="5.6" fill="#333" stroke="#333" stroke-width="0.2" textLength="7.8" lengthAdjust="spacingAndGlyphs">min</text>
<text transform="translate(287.3,260.4) rotate(-90)" x="0" y="0" font-size="10.0" fill="#333" font-weight="bold" textLength="4.8" lengthAdjust="spacingAndGlyphs">EI</text>
<text transform="translate(288.8,254.7) rotate(-90)" x="0" y="0" font-size="5.6" fill="#333" stroke="#333" stroke-width="0.2" textLength="12.0" lengthAdjust="spacingAndGlyphs">hyper</text>
<text transform="translate(287.6,449.6) rotate(-90)" x="0" y="0" font-size="10.6" fill="#333" font-weight="bold" textLength="5.2" lengthAdjust="spacingAndGlyphs">EI</text>
<text transform="translate(289.4,443.4) rotate(-90)" x="0" y="0" font-size="5.6" fill="#333" stroke="#333" stroke-width="0.2" textLength="7.4" lengthAdjust="spacingAndGlyphs">min</text>
<line x1="313.5" y1="206.5" x2="313.5" y2="305.6" stroke="#2b2b2b" stroke-width="1.3"/>
<line x1="310.9" y1="306.2" x2="313.5" y2="306.2" stroke="#2b2b2b" stroke-width="1"/>
<line x1="310.9" y1="257.1" x2="313.5" y2="257.1" stroke="#2b2b2b" stroke-width="1"/>
<line x1="310.9" y1="208.00000000000003" x2="313.5" y2="208.00000000000003" stroke="#2b2b2b" stroke-width="1"/>
<line x1="312.0" y1="281.65" x2="313.5" y2="281.65" stroke="#2b2b2b" stroke-width="0.8"/>
<line x1="312.0" y1="232.55" x2="313.5" y2="232.55" stroke="#2b2b2b" stroke-width="0.8"/>
<text x="307.9" y="308.8" font-size="7.3" text-anchor="end" fill="#333" font-weight="normal" textLength="15.34" lengthAdjust="spacingAndGlyphs" stroke="#333" stroke-width="0.2">0.25</text>
<text x="307.9" y="259.70000000000005" font-size="7.3" text-anchor="end" fill="#333" font-weight="normal" textLength="15.34" lengthAdjust="spacingAndGlyphs" stroke="#333" stroke-width="0.2">0.30</text>
<text x="307.9" y="210.60000000000002" font-size="7.3" text-anchor="end" fill="#333" font-weight="normal" textLength="15.34" lengthAdjust="spacingAndGlyphs" stroke="#333" stroke-width="0.2">0.35</text>
<line x1="362.2" y1="212" x2="362.2" y2="321.5" stroke="#e0e0e0" stroke-width="0.8"/>
<line x1="413.5" y1="212" x2="413.5" y2="321.5" stroke="#e0e0e0" stroke-width="0.8"/>
<line x1="465.3" y1="212" x2="465.3" y2="321.5" stroke="#e0e0e0" stroke-width="0.8"/>
<line x1="312.85" y1="305.6" x2="513.2" y2="305.6" stroke="#2b2b2b" stroke-width="1.3"/>
<line x1="319.6" y1="305.6" x2="319.6" y2="307.8" stroke="#2b2b2b" stroke-width="0.9"/>
<line x1="330.8" y1="305.6" x2="330.8" y2="307.8" stroke="#2b2b2b" stroke-width="0.9"/>
<line x1="341.7" y1="305.6" x2="341.7" y2="307.8" stroke="#2b2b2b" stroke-width="0.9"/>
<line x1="352.9" y1="305.6" x2="352.9" y2="307.8" stroke="#2b2b2b" stroke-width="0.9"/>
<line x1="371.5" y1="305.6" x2="371.5" y2="307.8" stroke="#2b2b2b" stroke-width="0.9"/>
<line x1="382.4" y1="305.6" x2="382.4" y2="307.8" stroke="#2b2b2b" stroke-width="0.9"/>
<line x1="393.3" y1="305.6" x2="393.3" y2="307.8" stroke="#2b2b2b" stroke-width="0.9"/>
<line x1="404.2" y1="305.6" x2="404.2" y2="307.8" stroke="#2b2b2b" stroke-width="0.9"/>
<line x1="423.0" y1="305.6" x2="423.0" y2="307.8" stroke="#2b2b2b" stroke-width="0.9"/>
<line x1="434.0" y1="305.6" x2="434.0" y2="307.8" stroke="#2b2b2b" stroke-width="0.9"/>
<line x1="445.0" y1="305.6" x2="445.0" y2="307.8" stroke="#2b2b2b" stroke-width="0.9"/>
<line x1="455.9" y1="305.6" x2="455.9" y2="307.8" stroke="#2b2b2b" stroke-width="0.9"/>
<line x1="474.7" y1="305.6" x2="474.7" y2="307.8" stroke="#2b2b2b" stroke-width="0.9"/>
<line x1="485.6" y1="305.6" x2="485.6" y2="307.8" stroke="#2b2b2b" stroke-width="0.9"/>
<line x1="496.5" y1="305.6" x2="496.5" y2="307.8" stroke="#2b2b2b" stroke-width="0.9"/>
<line x1="507.5" y1="305.6" x2="507.5" y2="307.8" stroke="#2b2b2b" stroke-width="0.9"/>
<text x="319.6" y="319.0" font-size="7.1" text-anchor="middle" fill="#333" font-weight="normal" textLength="4.26" lengthAdjust="spacingAndGlyphs" stroke="#333" stroke-width="0.2">5</text>
<text x="330.8" y="319.0" font-size="7.1" text-anchor="middle" fill="#333" font-weight="normal" textLength="8.53" lengthAdjust="spacingAndGlyphs" stroke="#333" stroke-width="0.2">14</text>
<text x="341.7" y="319.0" font-size="7.1" text-anchor="middle" fill="#333" font-weight="normal" textLength="8.53" lengthAdjust="spacingAndGlyphs" stroke="#333" stroke-width="0.2">28</text>
<text x="352.9" y="319.0" font-size="7.1" text-anchor="middle" fill="#333" font-weight="normal" textLength="8.53" lengthAdjust="spacingAndGlyphs" stroke="#333" stroke-width="0.2">42</text>
<text x="371.5" y="319.0" font-size="7.1" text-anchor="middle" fill="#333" font-weight="normal" textLength="4.26" lengthAdjust="spacingAndGlyphs" stroke="#333" stroke-width="0.2">5</text>
<text x="382.4" y="319.0" font-size="7.1" text-anchor="middle" fill="#333" font-weight="normal" textLength="8.53" lengthAdjust="spacingAndGlyphs" stroke="#333" stroke-width="0.2">14</text>
<text x="393.3" y="319.0" font-size="7.1" text-anchor="middle" fill="#333" font-weight="normal" textLength="8.53" lengthAdjust="spacingAndGlyphs" stroke="#333" stroke-width="0.2">28</text>
<text x="404.2" y="319.0" font-size="7.1" text-anchor="middle" fill="#333" font-weight="normal" textLength="8.53" lengthAdjust="spacingAndGlyphs" stroke="#333" stroke-width="0.2">42</text>
<text x="423.0" y="319.0" font-size="7.1" text-anchor="middle" fill="#333" font-weight="normal" textLength="4.26" lengthAdjust="spacingAndGlyphs" stroke="#333" stroke-width="0.2">5</text>
<text x="434.0" y="319.0" font-size="7.1" text-anchor="middle" fill="#333" font-weight="normal" textLength="8.53" lengthAdjust="spacingAndGlyphs" stroke="#333" stroke-width="0.2">14</text>
<text x="445.0" y="319.0" font-size="7.1" text-anchor="middle" fill="#333" font-weight="normal" textLength="8.53" lengthAdjust="spacingAndGlyphs" stroke="#333" stroke-width="0.2">28</text>
<text x="455.9" y="319.0" font-size="7.1" text-anchor="middle" fill="#333" font-weight="normal" textLength="8.53" lengthAdjust="spacingAndGlyphs" stroke="#333" stroke-width="0.2">42</text>
<text x="474.7" y="319.0" font-size="7.1" text-anchor="middle" fill="#333" font-weight="normal" textLength="4.26" lengthAdjust="spacingAndGlyphs" stroke="#333" stroke-width="0.2">5</text>
<text x="485.6" y="319.0" font-size="7.1" text-anchor="middle" fill="#333" font-weight="normal" textLength="8.53" lengthAdjust="spacingAndGlyphs" stroke="#333" stroke-width="0.2">14</text>
<text x="496.5" y="319.0" font-size="7.1" text-anchor="middle" fill="#333" font-weight="normal" textLength="8.53" lengthAdjust="spacingAndGlyphs" stroke="#333" stroke-width="0.2">28</text>
<text x="507.5" y="319.0" font-size="7.1" text-anchor="middle" fill="#333" font-weight="normal" textLength="8.53" lengthAdjust="spacingAndGlyphs" stroke="#333" stroke-width="0.2">42</text>
<text x="336.2" y="330.6" font-size="7.3" text-anchor="middle" fill="#333" font-weight="normal" stroke="#333" stroke-width="0.2">TM</text>
<text x="387.8" y="330.6" font-size="7.3" text-anchor="middle" fill="#333" font-weight="normal" stroke="#333" stroke-width="0.2">TF</text>
<text x="439.3" y="330.6" font-size="7.3" text-anchor="middle" fill="#333" font-weight="normal" stroke="#333" stroke-width="0.2">SM</text>
<text x="490.5" y="330.6" font-size="7.3" text-anchor="middle" fill="#333" font-weight="normal" stroke="#333" stroke-width="0.2">SF</text>
<text x="414.2" y="343" font-size="8.2" text-anchor="middle" fill="#333" font-weight="bold" textLength="40.3" lengthAdjust="spacingAndGlyphs">Day of storage</text>
<text x="339.7" y="354.8" font-size="7.3" text-anchor="start" fill="#333" font-weight="normal" textLength="28.6" lengthAdjust="spacingAndGlyphs" stroke="#333" stroke-width="0.2">O-RBCs</text>
<rect x="373.0" y="350.0" width="7.999999999999955" height="5.0" fill="#ee961c" stroke="#3e2604" stroke-width="0.8"/>
<text x="384.4" y="354.8" font-size="7.3" text-anchor="start" fill="#333" font-weight="normal" textLength="9.6" lengthAdjust="spacingAndGlyphs" stroke="#333" stroke-width="0.2">TM</text>
<rect x="400.7" y="350.0" width="9.099999999999977" height="5.0" fill="#36a4d8" stroke="#0e4066" stroke-width="0.8"/>
<text x="412.8" y="354.8" font-size="7.3" text-anchor="start" fill="#333" font-weight="normal" textLength="8.1" lengthAdjust="spacingAndGlyphs" stroke="#333" stroke-width="0.2">TF</text>
<rect x="426.59999999999997" y="350.0" width="8.2" height="5.0" fill="#d0126c" stroke="#50062a" stroke-width="0.8"/>
<text x="438.1" y="354.8" font-size="7.3" text-anchor="start" fill="#333" font-weight="normal" textLength="10.4" lengthAdjust="spacingAndGlyphs" stroke="#333" stroke-width="0.2">SM</text>
<rect x="455.0" y="350.0" width="8.2" height="5.0" fill="#c6ce98" stroke="#464e30" stroke-width="0.8"/>
<text x="467" y="354.8" font-size="7.3" text-anchor="start" fill="#333" font-weight="normal" textLength="8.1" lengthAdjust="spacingAndGlyphs" stroke="#333" stroke-width="0.2">SF</text>
<path d="M341.7,219.6 L341.7,205.5 L444.8,205.5 L444.8,214.8" fill="none" stroke="#6e6e6e" stroke-width="0.9"/>
<circle cx="393.30" cy="201.2" r="0.95" fill="#222"/>
<line x1="319.6" y1="245" x2="319.6" y2="247.0" stroke="#3a3020" stroke-width="0.95"/>
<line x1="319.6" y1="259.5" x2="319.6" y2="261.5" stroke="#3a3020" stroke-width="0.95"/>
<path d="M319.95,246.50 L319.97,246.90 L320.13,247.30 L320.30,247.70 L320.48,248.10 L320.67,248.50 L320.86,249.00 L321.07,249.50 L321.28,250.00 L321.49,250.50 L321.72,251.00 L321.79,251.46 L321.87,251.92 L321.95,252.38 L322.02,252.84 L322.10,253.30 L321.97,253.74 L321.84,254.18 L321.72,254.62 L321.59,255.06 L321.47,255.50 L321.28,256.00 L321.09,256.50 L320.91,257.00 L320.73,257.50 L320.56,258.00 L320.40,258.40 L320.24,258.80 L320.10,259.20 L319.96,259.60 L319.95,260.00 L319.25,260.00 L319.24,259.60 L319.10,259.20 L318.96,258.80 L318.80,258.40 L318.64,258.00 L318.47,257.50 L318.29,257.00 L318.11,256.50 L317.92,256.00 L317.73,255.50 L317.61,255.06 L317.48,254.62 L317.36,254.18 L317.23,253.74 L317.10,253.30 L317.18,252.84 L317.25,252.38 L317.33,251.92 L317.41,251.46 L317.48,251.00 L317.71,250.50 L317.92,250.00 L318.13,249.50 L318.34,249.00 L318.53,248.50 L318.72,248.10 L318.90,247.70 L319.07,247.30 L319.23,246.90 L319.25,246.50Z" fill="#ee961c" stroke="#3e2604" stroke-width="0.65" stroke-linejoin="round"/>
<line x1="317.95515025476976" y1="250.5" x2="321.2448497452303" y2="250.5" stroke="#3a2200" stroke-width="0.55"/>
<line x1="317.35" y1="253.3" x2="321.85" y2="253.3" stroke="#3a2200" stroke-width="0.9"/>
<line x1="318.1716552773867" y1="256" x2="321.0283447226133" y2="256" stroke="#3a2200" stroke-width="0.55"/>
<path d="M331.15,246.20 L331.23,246.66 L331.44,247.12 L331.68,247.58 L331.93,248.04 L332.20,248.50 L332.41,249.00 L332.62,249.50 L332.84,250.00 L333.07,250.50 L333.30,251.00 L333.22,251.40 L333.15,251.80 L333.07,252.20 L332.99,252.60 L332.92,253.00 L332.87,253.40 L332.82,253.80 L332.77,254.20 L332.72,254.60 L332.67,255.00 L332.77,255.50 L332.87,256.00 L332.97,256.50 L333.07,257.00 L333.17,257.50 L332.92,258.00 L332.67,258.50 L332.43,259.00 L332.20,259.50 L331.98,260.00 L331.76,260.40 L331.56,260.80 L331.37,261.20 L331.19,261.60 L331.15,262.00 L330.45,262.00 L330.41,261.60 L330.23,261.20 L330.04,260.80 L329.84,260.40 L329.62,260.00 L329.40,259.50 L329.17,259.00 L328.93,258.50 L328.68,258.00 L328.43,257.50 L328.53,257.00 L328.63,256.50 L328.73,256.00 L328.83,255.50 L328.93,255.00 L328.88,254.60 L328.83,254.20 L328.78,253.80 L328.73,253.40 L328.68,253.00 L328.61,252.60 L328.53,252.20 L328.45,251.80 L328.38,251.40 L328.30,251.00 L328.53,250.50 L328.76,250.00 L328.98,249.50 L329.19,249.00 L329.40,248.50 L329.67,248.04 L329.92,247.58 L330.16,247.12 L330.37,246.66 L330.45,246.20Z" fill="#ee961c" stroke="#3e2604" stroke-width="0.65" stroke-linejoin="round"/>
<line x1="329.2279894381722" y1="249.5" x2="332.37201056182784" y2="249.5" stroke="#3a2200" stroke-width="0.55"/>
<line x1="328.74314647383187" y1="252" x2="332.85685352616815" y2="252" stroke="#3a2200" stroke-width="0.9"/>
<line x1="328.78142899098776" y1="257" x2="332.81857100901226" y2="257" stroke="#3a2200" stroke-width="0.55"/>
<line x1="341.7" y1="245.5" x2="341.7" y2="248.5" stroke="#3a3020" stroke-width="0.95"/>
<path d="M342.05,248.00 L342.12,248.50 L342.34,249.00 L342.57,249.50 L342.82,250.00 L343.08,250.50 L343.27,251.00 L343.45,251.50 L343.65,252.00 L343.84,252.50 L344.04,253.00 L344.09,253.40 L344.15,253.80 L344.20,254.20 L344.25,254.60 L344.30,255.00 L344.15,255.50 L343.99,256.00 L343.84,256.50 L343.69,257.00 L343.55,257.50 L343.31,258.10 L343.08,258.70 L342.86,259.30 L342.65,259.90 L342.45,260.50 L342.34,260.98 L342.23,261.46 L342.12,261.94 L342.05,262.42 L342.05,262.90 L341.35,262.90 L341.35,262.42 L341.28,261.94 L341.17,261.46 L341.06,260.98 L340.95,260.50 L340.75,259.90 L340.54,259.30 L340.32,258.70 L340.09,258.10 L339.85,257.50 L339.71,257.00 L339.56,256.50 L339.41,256.00 L339.25,255.50 L339.10,255.00 L339.15,254.60 L339.20,254.20 L339.25,253.80 L339.31,253.40 L339.36,253.00 L339.56,252.50 L339.75,252.00 L339.95,251.50 L340.13,251.00 L340.32,250.50 L340.58,250.00 L340.83,249.50 L341.06,249.00 L341.28,248.50 L341.35,248.00Z" fill="#ee961c" stroke="#3e2604" stroke-width="0.65" stroke-linejoin="round"/>
<line x1="340.00468322852896" y1="252" x2="343.395316771471" y2="252" stroke="#3a2200" stroke-width="0.55"/>
<line x1="339.34999999999997" y1="255" x2="344.05" y2="255" stroke="#3a2200" stroke-width="0.9"/>
<line x1="340.2985724147329" y1="258" x2="343.10142758526706" y2="258" stroke="#3a2200" stroke-width="0.55"/>
<line x1="352.9" y1="248.5" x2="352.9" y2="254.5" stroke="#3a3020" stroke-width="0.95"/>
<path d="M353.25,254.00 L353.31,254.40 L353.51,254.80 L353.72,255.20 L353.95,255.60 L354.19,256.00 L354.41,256.40 L354.65,256.80 L354.89,257.20 L355.14,257.60 L355.40,258.00 L355.32,258.40 L355.25,258.80 L355.17,259.20 L355.09,259.60 L355.02,260.00 L354.77,260.50 L354.53,261.00 L354.30,261.50 L354.08,262.00 L353.86,262.50 L353.68,263.16 L353.51,263.82 L353.34,264.48 L353.25,265.14 L353.25,265.80 L352.55,265.80 L352.55,265.14 L352.46,264.48 L352.29,263.82 L352.12,263.16 L351.94,262.50 L351.72,262.00 L351.50,261.50 L351.27,261.00 L351.03,260.50 L350.78,260.00 L350.71,259.60 L350.63,259.20 L350.55,258.80 L350.48,258.40 L350.40,258.00 L350.66,257.60 L350.91,257.20 L351.15,256.80 L351.39,256.40 L351.61,256.00 L351.85,255.60 L352.08,255.20 L352.29,254.80 L352.49,254.40 L352.55,254.00Z" fill="#ee961c" stroke="#3e2604" stroke-width="0.65" stroke-linejoin="round"/>
<line x1="350.65" y1="258" x2="355.15" y2="258" stroke="#3a2200" stroke-width="0.9"/>
<line x1="371.5" y1="263.0" x2="371.5" y2="279.3" stroke="#333" stroke-width="0.95"/>
<path d="M371.85,241.00 L371.93,241.92 L372.18,242.84 L372.44,243.76 L372.73,244.68 L373.03,245.60 L373.32,246.58 L373.63,247.56 L373.94,248.54 L374.27,249.52 L374.60,250.50 L374.44,251.20 L374.29,251.90 L374.14,252.60 L373.99,253.30 L373.84,254.00 L373.67,254.80 L373.51,255.60 L373.35,256.40 L373.19,257.20 L373.03,258.00 L372.81,259.10 L372.60,260.20 L372.40,261.30 L372.21,262.40 L372.03,263.50 L370.97,263.50 L370.79,262.40 L370.60,261.30 L370.40,260.20 L370.19,259.10 L369.97,258.00 L369.81,257.20 L369.65,256.40 L369.49,255.60 L369.33,254.80 L369.16,254.00 L369.01,253.30 L368.86,252.60 L368.71,251.90 L368.56,251.20 L368.40,250.50 L368.73,249.52 L369.06,248.54 L369.37,247.56 L369.68,246.58 L369.97,245.60 L370.27,244.68 L370.56,243.76 L370.82,242.84 L371.07,241.92 L371.15,241.00Z" fill="#36a4d8" stroke="#0e4066" stroke-width="0.65" stroke-linejoin="round"/>
<line x1="368.82023541721384" y1="250" x2="374.17976458278616" y2="250" stroke="#0a3050" stroke-width="0.55"/>
<line x1="369.1949469935524" y1="253" x2="373.8050530064476" y2="253" stroke="#0a3050" stroke-width="0.9"/>
<line x1="382.4" y1="262.0" x2="382.4" y2="279.3" stroke="#333" stroke-width="0.95"/>
<path d="M382.75,241.60 L382.84,242.48 L383.08,243.36 L383.35,244.24 L383.64,245.12 L383.94,246.00 L384.22,247.10 L384.50,248.20 L384.79,249.30 L385.09,250.40 L385.40,251.50 L385.24,252.20 L385.09,252.90 L384.94,253.60 L384.79,254.30 L384.64,255.00 L384.45,255.80 L384.26,256.60 L384.08,257.40 L383.90,258.20 L383.73,259.00 L383.51,259.70 L383.31,260.40 L383.12,261.10 L382.94,261.80 L382.77,262.50 L382.03,262.50 L381.86,261.80 L381.68,261.10 L381.49,260.40 L381.29,259.70 L381.07,259.00 L380.90,258.20 L380.72,257.40 L380.54,256.60 L380.35,255.80 L380.16,255.00 L380.01,254.30 L379.86,253.60 L379.71,252.90 L379.56,252.20 L379.40,251.50 L379.71,250.40 L380.01,249.30 L380.30,248.20 L380.58,247.10 L380.86,246.00 L381.16,245.12 L381.45,244.24 L381.72,243.36 L381.96,242.48 L382.05,241.60Z" fill="#36a4d8" stroke="#0e4066" stroke-width="0.65" stroke-linejoin="round"/>
<line x1="379.79008346718354" y1="251" x2="385.0099165328164" y2="251" stroke="#0a3050" stroke-width="0.55"/>
<line x1="380.19452495476344" y1="254" x2="384.6054750452365" y2="254" stroke="#0a3050" stroke-width="0.9"/>
<line x1="393.3" y1="271.9" x2="393.3" y2="282.3" stroke="#333" stroke-width="0.95"/>
<path d="M393.65,239.00 L393.74,240.20 L393.98,241.40 L394.25,242.60 L394.54,243.80 L394.84,245.00 L395.12,246.30 L395.40,247.60 L395.69,248.90 L395.99,250.20 L396.30,251.50 L396.17,252.20 L396.04,252.90 L395.92,253.60 L395.79,254.30 L395.67,255.00 L395.69,255.60 L395.72,256.20 L395.74,256.80 L395.77,257.40 L395.79,258.00 L395.69,258.80 L395.59,259.60 L395.50,260.40 L395.40,261.20 L395.30,262.00 L395.38,262.60 L395.45,263.20 L395.52,263.80 L395.59,264.40 L395.67,265.00 L395.42,265.80 L395.19,266.60 L394.96,267.40 L394.73,268.20 L394.52,269.00 L394.31,269.68 L394.11,270.36 L393.93,271.04 L393.75,271.72 L393.65,272.40 L392.95,272.40 L392.85,271.72 L392.67,271.04 L392.49,270.36 L392.29,269.68 L392.08,269.00 L391.87,268.20 L391.64,267.40 L391.41,266.60 L391.18,265.80 L390.93,265.00 L391.01,264.40 L391.08,263.80 L391.15,263.20 L391.22,262.60 L391.30,262.00 L391.20,261.20 L391.10,260.40 L391.01,259.60 L390.91,258.80 L390.81,258.00 L390.83,257.40 L390.86,256.80 L390.88,256.20 L390.91,255.60 L390.93,255.00 L390.81,254.30 L390.68,253.60 L390.56,252.90 L390.43,252.20 L390.30,251.50 L390.61,250.20 L390.91,248.90 L391.20,247.60 L391.48,246.30 L391.76,245.00 L392.06,243.80 L392.35,242.60 L392.62,241.40 L392.86,240.20 L392.95,239.00Z" fill="#36a4d8" stroke="#0e4066" stroke-width="0.65" stroke-linejoin="round"/>
<line x1="390.66853216453995" y1="251" x2="395.93146783546007" y2="251" stroke="#0a3050" stroke-width="0.55"/>
<line x1="391.100682546853" y1="257" x2="395.499317453147" y2="257" stroke="#0a3050" stroke-width="0.9"/>
<line x1="391.30534305103504" y1="264" x2="395.294656948965" y2="264" stroke="#0a3050" stroke-width="0.55"/>
<line x1="404.2" y1="269.9" x2="404.2" y2="281.3" stroke="#333" stroke-width="0.95"/>
<path d="M404.55,240.60 L404.64,241.48 L404.88,242.36 L405.15,243.24 L405.44,244.12 L405.74,245.00 L406.02,246.30 L406.30,247.60 L406.59,248.90 L406.89,250.20 L407.20,251.50 L407.15,252.40 L407.10,253.30 L407.04,254.20 L406.99,255.10 L406.94,256.00 L406.99,257.20 L407.04,258.40 L407.10,259.60 L407.15,260.80 L407.20,262.00 L406.94,262.80 L406.69,263.60 L406.44,264.40 L406.20,265.20 L405.97,266.00 L405.63,266.88 L405.31,267.76 L405.01,268.64 L404.74,269.52 L404.55,270.40 L403.85,270.40 L403.66,269.52 L403.39,268.64 L403.09,267.76 L402.77,266.88 L402.43,266.00 L402.20,265.20 L401.96,264.40 L401.71,263.60 L401.46,262.80 L401.20,262.00 L401.25,260.80 L401.30,259.60 L401.36,258.40 L401.41,257.20 L401.46,256.00 L401.41,255.10 L401.36,254.20 L401.30,253.30 L401.25,252.40 L401.20,251.50 L401.51,250.20 L401.81,248.90 L402.10,247.60 L402.38,246.30 L402.66,245.00 L402.96,244.12 L403.25,243.24 L403.52,242.36 L403.76,241.48 L403.85,240.60Z" fill="#36a4d8" stroke="#0e4066" stroke-width="0.65" stroke-linejoin="round"/>
<line x1="401.47883093033204" y1="252" x2="406.92116906966794" y2="252" stroke="#0a3050" stroke-width="0.55"/>
<line x1="401.6221416778306" y1="258" x2="406.7778583221694" y2="258" stroke="#0a3050" stroke-width="0.9"/>
<line x1="401.7703329425101" y1="263" x2="406.6296670574899" y2="263" stroke="#0a3050" stroke-width="0.55"/>
<line x1="423.0" y1="262.0" x2="423.0" y2="284.3" stroke="#5a3048" stroke-width="0.95"/>
<path d="M423.35,241.00 L423.44,242.00 L423.68,243.00 L423.95,244.00 L424.24,245.00 L424.54,246.00 L424.82,247.30 L425.10,248.60 L425.39,249.90 L425.69,251.20 L426.00,252.50 L425.90,253.20 L425.79,253.90 L425.69,254.60 L425.59,255.30 L425.49,256.00 L425.29,256.60 L425.10,257.20 L424.91,257.80 L424.73,258.40 L424.54,259.00 L424.28,259.70 L424.03,260.40 L423.79,261.10 L423.57,261.80 L423.37,262.50 L422.63,262.50 L422.43,261.80 L422.21,261.10 L421.97,260.40 L421.72,259.70 L421.46,259.00 L421.27,258.40 L421.09,257.80 L420.90,257.20 L420.71,256.60 L420.51,256.00 L420.41,255.30 L420.31,254.60 L420.21,253.90 L420.10,253.20 L420.00,252.50 L420.31,251.20 L420.61,249.90 L420.90,248.60 L421.18,247.30 L421.46,246.00 L421.76,245.00 L422.05,244.00 L422.32,243.00 L422.56,242.00 L422.65,241.00Z" fill="#d0126c" stroke="#50062a" stroke-width="0.65" stroke-linejoin="round"/>
<line x1="420.25" y1="252.5" x2="425.75" y2="252.5" stroke="#40001a" stroke-width="0.9"/>
<line x1="434.0" y1="262.0" x2="434.0" y2="284.3" stroke="#5a3048" stroke-width="0.95"/>
<path d="M434.35,242.00 L434.44,242.90 L434.68,243.80 L434.95,244.70 L435.24,245.60 L435.54,246.50 L435.82,247.70 L436.10,248.90 L436.39,250.10 L436.69,251.30 L437.00,252.50 L436.90,253.20 L436.79,253.90 L436.69,254.60 L436.59,255.30 L436.49,256.00 L436.29,256.60 L436.10,257.20 L435.91,257.80 L435.73,258.40 L435.54,259.00 L435.28,259.70 L435.03,260.40 L434.79,261.10 L434.57,261.80 L434.37,262.50 L433.63,262.50 L433.43,261.80 L433.21,261.10 L432.97,260.40 L432.72,259.70 L432.46,259.00 L432.27,258.40 L432.09,257.80 L431.90,257.20 L431.71,256.60 L431.51,256.00 L431.41,255.30 L431.31,254.60 L431.21,253.90 L431.10,253.20 L431.00,252.50 L431.31,251.30 L431.61,250.10 L431.90,248.90 L432.18,247.70 L432.46,246.50 L432.76,245.60 L433.05,244.70 L433.32,243.80 L433.56,242.90 L433.65,242.00Z" fill="#d0126c" stroke="#50062a" stroke-width="0.65" stroke-linejoin="round"/>
<line x1="431.25" y1="252.5" x2="436.75" y2="252.5" stroke="#40001a" stroke-width="0.9"/>
<line x1="445.0" y1="265.9" x2="445.0" y2="289.2" stroke="#5a3048" stroke-width="0.95"/>
<path d="M445.35,241.60 L445.41,242.88 L445.62,244.16 L445.85,245.44 L446.10,246.72 L446.35,248.00 L446.62,249.50 L446.90,251.00 L447.19,252.50 L447.49,254.00 L447.80,255.50 L447.65,256.40 L447.49,257.30 L447.34,258.20 L447.19,259.10 L447.05,260.00 L446.67,261.28 L446.31,262.56 L445.97,263.84 L445.66,265.12 L445.38,266.40 L444.62,266.40 L444.34,265.12 L444.03,263.84 L443.69,262.56 L443.33,261.28 L442.95,260.00 L442.81,259.10 L442.66,258.20 L442.51,257.30 L442.35,256.40 L442.20,255.50 L442.51,254.00 L442.81,252.50 L443.10,251.00 L443.38,249.50 L443.65,248.00 L443.90,246.72 L444.15,245.44 L444.38,244.16 L444.59,242.88 L444.65,241.60Z" fill="#d0126c" stroke="#50062a" stroke-width="0.65" stroke-linejoin="round"/>
<line x1="442.45" y1="255.5" x2="447.55" y2="255.5" stroke="#40001a" stroke-width="0.9"/>
<line x1="455.9" y1="282.5" x2="455.9" y2="290.2" stroke="#5a3048" stroke-width="0.95"/>
<path d="M456.25,243.60 L456.31,244.68 L456.52,245.76 L456.74,246.84 L456.98,247.92 L457.24,249.00 L457.53,250.50 L457.83,252.00 L458.14,253.50 L458.47,255.00 L458.80,256.50 L458.80,257.60 L458.80,258.70 L458.80,259.80 L458.80,260.90 L458.80,262.00 L458.77,262.88 L458.75,263.76 L458.72,264.64 L458.70,265.52 L458.67,266.40 L458.34,267.32 L458.02,268.24 L457.71,269.16 L457.42,270.08 L457.13,271.00 L456.94,272.06 L456.76,273.12 L456.59,274.18 L456.43,275.24 L456.27,276.30 L456.37,277.10 L456.48,277.90 L456.59,278.70 L456.70,279.50 L456.82,280.30 L456.66,280.84 L456.52,281.38 L456.37,281.92 L456.25,282.46 L456.25,283.00 L455.55,283.00 L455.55,282.46 L455.43,281.92 L455.28,281.38 L455.14,280.84 L454.98,280.30 L455.10,279.50 L455.21,278.70 L455.32,277.90 L455.43,277.10 L455.53,276.30 L455.37,275.24 L455.21,274.18 L455.04,273.12 L454.86,272.06 L454.67,271.00 L454.38,270.08 L454.09,269.16 L453.78,268.24 L453.46,267.32 L453.13,266.40 L453.10,265.52 L453.08,264.64 L453.05,263.76 L453.03,262.88 L453.00,262.00 L453.00,260.90 L453.00,259.80 L453.00,258.70 L453.00,257.60 L453.00,256.50 L453.33,255.00 L453.66,253.50 L453.97,252.00 L454.27,250.50 L454.56,249.00 L454.82,247.92 L455.06,246.84 L455.28,245.76 L455.49,244.68 L455.55,243.60Z" fill="#d0126c" stroke="#50062a" stroke-width="0.65" stroke-linejoin="round"/>
<line x1="453.25" y1="260" x2="458.54999999999995" y2="260" stroke="#40001a" stroke-width="0.9"/>
<path d="M475.05,241.60 L475.10,242.68 L475.31,243.76 L475.53,244.84 L475.77,245.92 L476.03,247.00 L476.22,248.00 L476.43,249.00 L476.63,250.00 L476.85,251.00 L477.07,252.00 L477.19,252.90 L477.32,253.80 L477.44,254.70 L477.57,255.60 L477.70,256.50 L477.60,257.40 L477.49,258.30 L477.39,259.20 L477.29,260.10 L477.19,261.00 L476.90,261.60 L476.61,262.20 L476.33,262.80 L476.07,263.40 L475.81,264.00 L475.61,264.48 L475.42,264.96 L475.24,265.44 L475.07,265.92 L475.05,266.40 L474.35,266.40 L474.33,265.92 L474.16,265.44 L473.98,264.96 L473.79,264.48 L473.59,264.00 L473.33,263.40 L473.07,262.80 L472.79,262.20 L472.50,261.60 L472.21,261.00 L472.11,260.10 L472.01,259.20 L471.91,258.30 L471.80,257.40 L471.70,256.50 L471.83,255.60 L471.96,254.70 L472.08,253.80 L472.21,252.90 L472.33,252.00 L472.55,251.00 L472.77,250.00 L472.97,249.00 L473.18,248.00 L473.37,247.00 L473.63,245.92 L473.87,244.84 L474.09,243.76 L474.30,242.68 L474.35,241.60Z" fill="#c6ce98" stroke="#464e30" stroke-width="0.65" stroke-linejoin="round"/>
<line x1="472.4453400807417" y1="253" x2="476.9546599192583" y2="253" stroke="#3a4020" stroke-width="0.55"/>
<line x1="471.95" y1="256.5" x2="477.45" y2="256.5" stroke="#3a4020" stroke-width="0.9"/>
<line x1="472.34794961765203" y1="260" x2="477.05205038234794" y2="260" stroke="#3a4020" stroke-width="0.55"/>
<path d="M485.95,246.60 L486.04,247.28 L486.28,247.96 L486.55,248.64 L486.84,249.32 L487.14,250.00 L487.42,250.90 L487.70,251.80 L487.99,252.70 L488.29,253.60 L488.60,254.50 L488.47,255.20 L488.34,255.90 L488.22,256.60 L488.09,257.30 L487.97,258.00 L487.75,258.60 L487.53,259.20 L487.33,259.80 L487.12,260.40 L486.93,261.00 L486.67,261.68 L486.43,262.36 L486.21,263.04 L486.00,263.72 L485.95,264.40 L485.25,264.40 L485.20,263.72 L484.99,263.04 L484.77,262.36 L484.53,261.68 L484.27,261.00 L484.08,260.40 L483.87,259.80 L483.67,259.20 L483.45,258.60 L483.23,258.00 L483.11,257.30 L482.98,256.60 L482.86,255.90 L482.73,255.20 L482.60,254.50 L482.91,253.60 L483.21,252.70 L483.50,251.80 L483.78,250.90 L484.06,250.00 L484.36,249.32 L484.65,248.64 L484.92,247.96 L485.16,247.28 L485.25,246.60Z" fill="#c6ce98" stroke="#464e30" stroke-width="0.65" stroke-linejoin="round"/>
<line x1="483.52326144393135" y1="252.5" x2="487.6767385560687" y2="252.5" stroke="#3a4020" stroke-width="0.55"/>
<line x1="482.94238919393416" y1="255" x2="488.2576108060659" y2="255" stroke="#3a4020" stroke-width="0.9"/>
<line x1="483.4830687975023" y1="258" x2="487.71693120249773" y2="258" stroke="#3a4020" stroke-width="0.55"/>
<path d="M496.85,244.60 L496.98,245.48 L497.27,246.36 L497.60,247.24 L497.94,248.12 L498.31,249.00 L498.50,249.90 L498.69,250.80 L498.89,251.70 L499.09,252.60 L499.30,253.50 L499.04,254.20 L498.79,254.90 L498.55,255.60 L498.31,256.30 L498.08,257.00 L498.31,257.70 L498.55,258.40 L498.79,259.10 L499.04,259.80 L499.30,260.50 L499.09,261.30 L498.89,262.10 L498.69,262.90 L498.50,263.70 L498.31,264.50 L497.94,265.48 L497.60,266.46 L497.27,267.44 L496.98,268.42 L496.85,269.40 L496.15,269.40 L496.02,268.42 L495.73,267.44 L495.40,266.46 L495.06,265.48 L494.69,264.50 L494.50,263.70 L494.31,262.90 L494.11,262.10 L493.91,261.30 L493.70,260.50 L493.96,259.80 L494.21,259.10 L494.45,258.40 L494.69,257.70 L494.92,257.00 L494.69,256.30 L494.45,255.60 L494.21,254.90 L493.96,254.20 L493.70,253.50 L493.91,252.60 L494.11,251.70 L494.31,250.80 L494.50,249.90 L494.69,249.00 L495.06,248.12 L495.40,247.24 L495.73,246.36 L496.02,245.48 L496.15,244.60Z" fill="#c6ce98" stroke="#464e30" stroke-width="0.65" stroke-linejoin="round"/>
<line x1="494.1336902791603" y1="254" x2="498.8663097208397" y2="254" stroke="#3a4020" stroke-width="0.55"/>
<line x1="495.1734532730844" y1="257" x2="497.8265467269156" y2="257" stroke="#3a4020" stroke-width="0.9"/>
<line x1="494.0788704847847" y1="261" x2="498.9211295152153" y2="261" stroke="#3a4020" stroke-width="0.55"/>
<line x1="507.5" y1="269.9" x2="507.5" y2="303" stroke="#444" stroke-width="0.95"/>
<path d="M507.85,245.60 L507.96,246.68 L508.24,247.76 L508.55,248.84 L508.88,249.92 L509.24,251.00 L509.51,252.50 L509.80,254.00 L510.09,255.50 L510.39,257.00 L510.70,258.50 L510.60,259.40 L510.49,260.30 L510.39,261.20 L510.29,262.10 L510.19,263.00 L509.94,263.80 L509.70,264.60 L509.47,265.40 L509.24,266.20 L509.01,267.00 L508.76,267.68 L508.51,268.36 L508.28,269.04 L508.06,269.72 L507.86,270.40 L507.14,270.40 L506.94,269.72 L506.72,269.04 L506.49,268.36 L506.24,267.68 L505.99,267.00 L505.76,266.20 L505.53,265.40 L505.30,264.60 L505.06,263.80 L504.81,263.00 L504.71,262.10 L504.61,261.20 L504.51,260.30 L504.40,259.40 L504.30,258.50 L504.61,257.00 L504.91,255.50 L505.20,254.00 L505.49,252.50 L505.76,251.00 L506.12,249.92 L506.45,248.84 L506.76,247.76 L507.04,246.68 L507.15,245.60Z" fill="#c6ce98" stroke="#464e30" stroke-width="0.65" stroke-linejoin="round"/>
<line x1="505.2571464860885" y1="255" x2="509.7428535139115" y2="255" stroke="#3a4020" stroke-width="0.55"/>
<line x1="504.55" y1="258.5" x2="510.45" y2="258.5" stroke="#3a4020" stroke-width="0.9"/>
<line x1="505.0042041029626" y1="262.5" x2="509.9957958970374" y2="262.5" stroke="#3a4020" stroke-width="0.55"/>
<path d="M507.85,292.50 L507.97,293.00 L508.18,293.50 L508.40,294.00 L508.65,294.50 L508.90,295.00 L508.90,295.50 L508.90,296.00 L508.90,296.50 L508.90,297.00 L508.90,297.50 L508.65,298.00 L508.40,298.50 L508.18,299.00 L507.97,299.50 L507.85,300.00 L507.15,300.00 L507.03,299.50 L506.82,299.00 L506.60,298.50 L506.35,298.00 L506.10,297.50 L506.10,297.00 L506.10,296.50 L506.10,296.00 L506.10,295.50 L506.10,295.00 L506.35,294.50 L506.60,294.00 L506.82,293.50 L507.03,293.00 L507.15,292.50Z" fill="#c6ce98" stroke="#464e30" stroke-width="0.65" stroke-linejoin="round"/>
<line x1="313.5" y1="396.5" x2="313.5" y2="497.0" stroke="#2b2b2b" stroke-width="1.3"/>
<line x1="310.9" y1="496.98" x2="313.5" y2="496.98" stroke="#2b2b2b" stroke-width="1"/>
<line x1="310.9" y1="480.6" x2="313.5" y2="480.6" stroke="#2b2b2b" stroke-width="1"/>
<line x1="310.9" y1="464.22" x2="313.5" y2="464.22" stroke="#2b2b2b" stroke-width="1"/>
<line x1="310.9" y1="447.84000000000003" x2="313.5" y2="447.84000000000003" stroke="#2b2b2b" stroke-width="1"/>
<line x1="310.9" y1="431.46000000000004" x2="313.5" y2="431.46000000000004" stroke="#2b2b2b" stroke-width="1"/>
<line x1="310.9" y1="415.08000000000004" x2="313.5" y2="415.08000000000004" stroke="#2b2b2b" stroke-width="1"/>
<line x1="310.9" y1="398.70000000000005" x2="313.5" y2="398.70000000000005" stroke="#2b2b2b" stroke-width="1"/>
<line x1="312.0" y1="488.79" x2="313.5" y2="488.79" stroke="#2b2b2b" stroke-width="0.8"/>
<line x1="312.0" y1="472.41" x2="313.5" y2="472.41" stroke="#2b2b2b" stroke-width="0.8"/>
<line x1="312.0" y1="456.03000000000003" x2="313.5" y2="456.03000000000003" stroke="#2b2b2b" stroke-width="0.8"/>
<line x1="312.0" y1="439.65000000000003" x2="313.5" y2="439.65000000000003" stroke="#2b2b2b" stroke-width="0.8"/>
<line x1="312.0" y1="423.27000000000004" x2="313.5" y2="423.27000000000004" stroke="#2b2b2b" stroke-width="0.8"/>
<line x1="312.0" y1="406.89" x2="313.5" y2="406.89" stroke="#2b2b2b" stroke-width="0.8"/>
<text x="307.9" y="499.58000000000004" font-size="7.3" text-anchor="end" fill="#333" font-weight="normal" textLength="15.56" lengthAdjust="spacingAndGlyphs" stroke="#333" stroke-width="0.2">&#8722;0.1</text>
<text x="307.9" y="483.20000000000005" font-size="7.3" text-anchor="end" fill="#333" font-weight="normal" textLength="10.96" lengthAdjust="spacingAndGlyphs" stroke="#333" stroke-width="0.2">0.0</text>
<text x="307.9" y="466.82000000000005" font-size="7.3" text-anchor="end" fill="#333" font-weight="normal" textLength="10.96" lengthAdjust="spacingAndGlyphs" stroke="#333" stroke-width="0.2">0.1</text>
<text x="307.9" y="450.44000000000005" font-size="7.3" text-anchor="end" fill="#333" font-weight="normal" textLength="10.96" lengthAdjust="spacingAndGlyphs" stroke="#333" stroke-width="0.2">0.2</text>
<text x="307.9" y="434.06000000000006" font-size="7.3" text-anchor="end" fill="#333" font-weight="normal" textLength="10.96" lengthAdjust="spacingAndGlyphs" stroke="#333" stroke-width="0.2">0.3</text>
<text x="307.9" y="417.68000000000006" font-size="7.3" text-anchor="end" fill="#333" font-weight="normal" textLength="10.96" lengthAdjust="spacingAndGlyphs" stroke="#333" stroke-width="0.2">0.4</text>
<text x="307.9" y="401.30000000000007" font-size="7.3" text-anchor="end" fill="#333" font-weight="normal" textLength="10.96" lengthAdjust="spacingAndGlyphs" stroke="#333" stroke-width="0.2">0.5</text>
<line x1="362.0" y1="395" x2="362.0" y2="512.5" stroke="#e0e0e0" stroke-width="0.8"/>
<line x1="413.1" y1="395" x2="413.1" y2="512.5" stroke="#e0e0e0" stroke-width="0.8"/>
<line x1="465.2" y1="395" x2="465.2" y2="512.5" stroke="#e0e0e0" stroke-width="0.8"/>
<line x1="314.2" y1="480.6" x2="513" y2="480.6" stroke="#555" stroke-width="0.8" stroke-dasharray="0.8,1.2"/>
<line x1="312.85" y1="497.0" x2="513.2" y2="497.0" stroke="#2b2b2b" stroke-width="1.3"/>
<line x1="319.8" y1="497.0" x2="319.8" y2="499.2" stroke="#2b2b2b" stroke-width="0.9"/>
<line x1="330.8" y1="497.0" x2="330.8" y2="499.2" stroke="#2b2b2b" stroke-width="0.9"/>
<line x1="341.7" y1="497.0" x2="341.7" y2="499.2" stroke="#2b2b2b" stroke-width="0.9"/>
<line x1="352.7" y1="497.0" x2="352.7" y2="499.2" stroke="#2b2b2b" stroke-width="0.9"/>
<line x1="371.2" y1="497.0" x2="371.2" y2="499.2" stroke="#2b2b2b" stroke-width="0.9"/>
<line x1="382.5" y1="497.0" x2="382.5" y2="499.2" stroke="#2b2b2b" stroke-width="0.9"/>
<line x1="393.3" y1="497.0" x2="393.3" y2="499.2" stroke="#2b2b2b" stroke-width="0.9"/>
<line x1="404.2" y1="497.0" x2="404.2" y2="499.2" stroke="#2b2b2b" stroke-width="0.9"/>
<line x1="422.7" y1="497.0" x2="422.7" y2="499.2" stroke="#2b2b2b" stroke-width="0.9"/>
<line x1="434.1" y1="497.0" x2="434.1" y2="499.2" stroke="#2b2b2b" stroke-width="0.9"/>
<line x1="445.0" y1="497.0" x2="445.0" y2="499.2" stroke="#2b2b2b" stroke-width="0.9"/>
<line x1="456.1" y1="497.0" x2="456.1" y2="499.2" stroke="#2b2b2b" stroke-width="0.9"/>
<line x1="474.0" y1="497.0" x2="474.0" y2="499.2" stroke="#2b2b2b" stroke-width="0.9"/>
<line x1="485.4" y1="497.0" x2="485.4" y2="499.2" stroke="#2b2b2b" stroke-width="0.9"/>
<line x1="496.5" y1="497.0" x2="496.5" y2="499.2" stroke="#2b2b2b" stroke-width="0.9"/>
<line x1="507.9" y1="497.0" x2="507.9" y2="499.2" stroke="#2b2b2b" stroke-width="0.9"/>
<text x="319.8" y="509.5" font-size="7.1" text-anchor="middle" fill="#333" font-weight="normal" textLength="4.26" lengthAdjust="spacingAndGlyphs" stroke="#333" stroke-width="0.2">5</text>
<text x="330.8" y="509.5" font-size="7.1" text-anchor="middle" fill="#333" font-weight="normal" textLength="8.53" lengthAdjust="spacingAndGlyphs" stroke="#333" stroke-width="0.2">14</text>
<text x="341.7" y="509.5" font-size="7.1" text-anchor="middle" fill="#333" font-weight="normal" textLength="8.53" lengthAdjust="spacingAndGlyphs" stroke="#333" stroke-width="0.2">28</text>
<text x="352.7" y="509.5" font-size="7.1" text-anchor="middle" fill="#333" font-weight="normal" textLength="8.53" lengthAdjust="spacingAndGlyphs" stroke="#333" stroke-width="0.2">42</text>
<text x="371.2" y="509.5" font-size="7.1" text-anchor="middle" fill="#333" font-weight="normal" textLength="4.26" lengthAdjust="spacingAndGlyphs" stroke="#333" stroke-width="0.2">5</text>
<text x="382.5" y="509.5" font-size="7.1" text-anchor="middle" fill="#333" font-weight="normal" textLength="8.53" lengthAdjust="spacingAndGlyphs" stroke="#333" stroke-width="0.2">14</text>
<text x="393.3" y="509.5" font-size="7.1" text-anchor="middle" fill="#333" font-weight="normal" textLength="8.53" lengthAdjust="spacingAndGlyphs" stroke="#333" stroke-width="0.2">28</text>
<text x="404.2" y="509.5" font-size="7.1" text-anchor="middle" fill="#333" font-weight="normal" textLength="8.53" lengthAdjust="spacingAndGlyphs" stroke="#333" stroke-width="0.2">42</text>
<text x="422.7" y="509.5" font-size="7.1" text-anchor="middle" fill="#333" font-weight="normal" textLength="4.26" lengthAdjust="spacingAndGlyphs" stroke="#333" stroke-width="0.2">5</text>
<text x="434.1" y="509.5" font-size="7.1" text-anchor="middle" fill="#333" font-weight="normal" textLength="8.53" lengthAdjust="spacingAndGlyphs" stroke="#333" stroke-width="0.2">14</text>
<text x="445.0" y="509.5" font-size="7.1" text-anchor="middle" fill="#333" font-weight="normal" textLength="8.53" lengthAdjust="spacingAndGlyphs" stroke="#333" stroke-width="0.2">28</text>
<text x="456.1" y="509.5" font-size="7.1" text-anchor="middle" fill="#333" font-weight="normal" textLength="8.53" lengthAdjust="spacingAndGlyphs" stroke="#333" stroke-width="0.2">42</text>
<text x="474.0" y="509.5" font-size="7.1" text-anchor="middle" fill="#333" font-weight="normal" textLength="4.26" lengthAdjust="spacingAndGlyphs" stroke="#333" stroke-width="0.2">5</text>
<text x="485.4" y="509.5" font-size="7.1" text-anchor="middle" fill="#333" font-weight="normal" textLength="8.53" lengthAdjust="spacingAndGlyphs" stroke="#333" stroke-width="0.2">14</text>
<text x="496.5" y="509.5" font-size="7.1" text-anchor="middle" fill="#333" font-weight="normal" textLength="8.53" lengthAdjust="spacingAndGlyphs" stroke="#333" stroke-width="0.2">28</text>
<text x="507.9" y="509.5" font-size="7.1" text-anchor="middle" fill="#333" font-weight="normal" textLength="8.53" lengthAdjust="spacingAndGlyphs" stroke="#333" stroke-width="0.2">42</text>
<text x="336.2" y="521.4" font-size="7.3" text-anchor="middle" fill="#333" font-weight="normal" stroke="#333" stroke-width="0.2">TM</text>
<text x="387.8" y="521.4" font-size="7.3" text-anchor="middle" fill="#333" font-weight="normal" stroke="#333" stroke-width="0.2">TF</text>
<text x="439.3" y="521.4" font-size="7.3" text-anchor="middle" fill="#333" font-weight="normal" stroke="#333" stroke-width="0.2">SM</text>
<text x="490.5" y="521.4" font-size="7.3" text-anchor="middle" fill="#333" font-weight="normal" stroke="#333" stroke-width="0.2">SF</text>
<text x="414.2" y="533.8" font-size="8.2" text-anchor="middle" fill="#333" font-weight="bold" textLength="40.3" lengthAdjust="spacingAndGlyphs">Day of storage</text>
<text x="340.7" y="545.4" font-size="7.3" text-anchor="start" fill="#333" font-weight="normal" textLength="24.8" lengthAdjust="spacingAndGlyphs" stroke="#333" stroke-width="0.2">Y-RBCs</text>
<rect x="373.2" y="540.6" width="8.00000000000001" height="5.0" fill="#ee961c" stroke="#3e2604" stroke-width="0.8"/>
<text x="384.6" y="545.4" font-size="7.3" text-anchor="start" fill="#333" font-weight="normal" textLength="9.6" lengthAdjust="spacingAndGlyphs" stroke="#333" stroke-width="0.2">TM</text>
<rect x="400.9" y="540.6" width="9.099999999999977" height="5.0" fill="#36a4d8" stroke="#0e4066" stroke-width="0.8"/>
<text x="413" y="545.4" font-size="7.3" text-anchor="start" fill="#333" font-weight="normal" textLength="8.1" lengthAdjust="spacingAndGlyphs" stroke="#333" stroke-width="0.2">TF</text>
<rect x="426.79999999999995" y="540.6" width="8.2" height="5.0" fill="#d0126c" stroke="#50062a" stroke-width="0.8"/>
<text x="438.3" y="545.4" font-size="7.3" text-anchor="start" fill="#333" font-weight="normal" textLength="10.4" lengthAdjust="spacingAndGlyphs" stroke="#333" stroke-width="0.2">SM</text>
<rect x="455.2" y="540.6" width="8.2" height="5.0" fill="#c6ce98" stroke="#464e30" stroke-width="0.8"/>
<text x="467.2" y="545.4" font-size="7.3" text-anchor="start" fill="#333" font-weight="normal" textLength="8.1" lengthAdjust="spacingAndGlyphs" stroke="#333" stroke-width="0.2">SF</text>
<path d="M319.8,433.9 L319.8,372.8 L474.0,372.8 L474.0,375.0" fill="none" stroke="#6e6e6e" stroke-width="0.9"/>
<circle cx="393.50" cy="368.6" r="0.95" fill="#222"/>
<circle cx="396.60" cy="368.6" r="0.95" fill="#222"/>
<circle cx="399.70" cy="368.6" r="0.95" fill="#222"/>
<path d="M371.3,435.5 L371.3,381.6 L474.0,381.6 L474.0,384.0" fill="none" stroke="#6e6e6e" stroke-width="0.9"/>
<circle cx="421.15" cy="377.0" r="0.95" fill="#222"/>
<circle cx="424.25" cy="377.0" r="0.95" fill="#222"/>
<path d="M422.7,425.7 L422.7,390.8 L474.0,390.8 L474.0,396.0" fill="none" stroke="#6e6e6e" stroke-width="0.9"/>
<circle cx="448.95" cy="385.7" r="0.95" fill="#222"/>
<circle cx="452.05" cy="385.7" r="0.95" fill="#222"/>
<line x1="319.8" y1="437" x2="319.8" y2="452.5" stroke="#3a3020" stroke-width="0.95"/>
<path d="M320.15,452.00 L320.34,452.60 L320.72,453.20 L321.15,453.80 L321.61,454.40 L322.10,455.00 L322.29,455.88 L322.49,456.76 L322.69,457.64 L322.89,458.52 L323.10,459.40 L322.77,460.12 L322.44,460.84 L322.12,461.56 L321.82,462.28 L321.52,463.00 L321.17,463.60 L320.84,464.20 L320.54,464.80 L320.26,465.40 L320.15,466.00 L319.45,466.00 L319.34,465.40 L319.06,464.80 L318.76,464.20 L318.43,463.60 L318.08,463.00 L317.78,462.28 L317.48,461.56 L317.16,460.84 L316.83,460.12 L316.50,459.40 L316.71,458.52 L316.91,457.64 L317.11,456.76 L317.31,455.88 L317.50,455.00 L317.99,454.40 L318.45,453.80 L318.88,453.20 L319.26,452.60 L319.45,452.00Z" fill="#ee961c" stroke="#3e2604" stroke-width="0.65" stroke-linejoin="round"/>
<line x1="330.8" y1="438.3" x2="330.8" y2="449.5" stroke="#3a3020" stroke-width="0.95"/>
<path d="M331.15,449.00 L331.33,449.60 L331.71,450.20 L332.13,450.80 L332.58,451.40 L333.06,452.00 L333.30,452.90 L333.54,453.80 L333.79,454.70 L334.04,455.60 L334.30,456.50 L334.04,457.20 L333.79,457.90 L333.54,458.60 L333.30,459.30 L333.06,460.00 L332.58,460.66 L332.13,461.32 L331.71,461.98 L331.33,462.64 L331.15,463.30 L330.45,463.30 L330.27,462.64 L329.89,461.98 L329.47,461.32 L329.02,460.66 L328.54,460.00 L328.30,459.30 L328.06,458.60 L327.81,457.90 L327.56,457.20 L327.30,456.50 L327.56,455.60 L327.81,454.70 L328.06,453.80 L328.30,452.90 L328.54,452.00 L329.02,451.40 L329.47,450.80 L329.89,450.20 L330.27,449.60 L330.45,449.00Z" fill="#ee961c" stroke="#3e2604" stroke-width="0.65" stroke-linejoin="round"/>
<line x1="328.253911533492" y1="454" x2="333.34608846650804" y2="454" stroke="#3a2200" stroke-width="0.55"/>
<line x1="327.55" y1="456.5" x2="334.05" y2="456.5" stroke="#3a2200" stroke-width="0.9"/>
<line x1="328.6201743134539" y1="459.5" x2="332.9798256865461" y2="459.5" stroke="#3a2200" stroke-width="0.55"/>
<line x1="341.7" y1="436.3" x2="341.7" y2="446.5" stroke="#3a3020" stroke-width="0.95"/>
<path d="M342.05,446.00 L342.23,446.60 L342.61,447.20 L343.03,447.80 L343.48,448.40 L343.96,449.00 L344.20,450.32 L344.44,451.64 L344.69,452.96 L344.94,454.28 L345.20,455.60 L345.02,456.48 L344.84,457.36 L344.66,458.24 L344.49,459.12 L344.32,460.00 L344.01,460.66 L343.70,461.32 L343.41,461.98 L343.13,462.64 L342.86,463.30 L342.65,464.06 L342.44,464.82 L342.25,465.58 L342.07,466.34 L342.05,467.10 L341.35,467.10 L341.33,466.34 L341.15,465.58 L340.96,464.82 L340.75,464.06 L340.54,463.30 L340.27,462.64 L339.99,461.98 L339.70,461.32 L339.39,460.66 L339.08,460.00 L338.91,459.12 L338.74,458.24 L338.56,457.36 L338.38,456.48 L338.20,455.60 L338.46,454.28 L338.71,452.96 L338.96,451.64 L339.20,450.32 L339.44,449.00 L339.92,448.40 L340.37,447.80 L340.79,447.20 L341.17,446.60 L341.35,446.00Z" fill="#ee961c" stroke="#3e2604" stroke-width="0.65" stroke-linejoin="round"/>
<line x1="339.04734369608826" y1="452.5" x2="344.3526563039117" y2="452.5" stroke="#3a2200" stroke-width="0.55"/>
<line x1="338.45" y1="455.6" x2="344.95" y2="455.6" stroke="#3a2200" stroke-width="0.9"/>
<line x1="339.1361072862991" y1="459" x2="344.2638927137009" y2="459" stroke="#3a2200" stroke-width="0.55"/>
<line x1="352.7" y1="434.4" x2="352.7" y2="442.5" stroke="#3a3020" stroke-width="0.95"/>
<path d="M353.05,442.00 L353.22,442.80 L353.59,443.60 L354.01,444.40 L354.45,445.20 L354.92,446.00 L355.20,447.34 L355.49,448.68 L355.79,450.02 L356.09,451.36 L356.40,452.70 L356.09,453.56 L355.79,454.42 L355.49,455.28 L355.20,456.14 L354.92,457.00 L354.45,457.86 L354.01,458.72 L353.59,459.58 L353.22,460.44 L353.05,461.30 L352.35,461.30 L352.18,460.44 L351.81,459.58 L351.39,458.72 L350.95,457.86 L350.48,457.00 L350.20,456.14 L349.91,455.28 L349.61,454.42 L349.31,453.56 L349.00,452.70 L349.31,451.36 L349.61,450.02 L349.91,448.68 L350.20,447.34 L350.48,446.00 L350.95,445.20 L351.39,444.40 L351.81,443.60 L352.18,442.80 L352.35,442.00Z" fill="#ee961c" stroke="#3e2604" stroke-width="0.65" stroke-linejoin="round"/>
<line x1="349.75309149769197" y1="450.5" x2="355.646908502308" y2="450.5" stroke="#3a2200" stroke-width="0.55"/>
<line x1="349.3577617672581" y1="453" x2="356.04223823274185" y2="453" stroke="#3a2200" stroke-width="0.9"/>
<line x1="350.23119918355394" y1="455.5" x2="355.16880081644604" y2="455.5" stroke="#3a2200" stroke-width="0.55"/>
<path d="M371.55,437.00 L371.56,438.60 L371.74,440.20 L371.93,441.80 L372.13,443.40 L372.34,445.00 L372.61,446.40 L372.88,447.80 L373.17,449.20 L373.47,450.60 L373.78,452.00 L373.99,453.30 L374.21,454.60 L374.44,455.90 L374.67,457.20 L374.90,458.50 L374.59,459.40 L374.29,460.30 L373.99,461.20 L373.70,462.10 L373.42,463.00 L372.95,463.60 L372.51,464.20 L372.09,464.80 L371.72,465.40 L371.55,466.00 L370.85,466.00 L370.68,465.40 L370.31,464.80 L369.89,464.20 L369.45,463.60 L368.98,463.00 L368.70,462.10 L368.41,461.20 L368.11,460.30 L367.81,459.40 L367.50,458.50 L367.73,457.20 L367.96,455.90 L368.19,454.60 L368.41,453.30 L368.62,452.00 L368.93,450.60 L369.23,449.20 L369.52,447.80 L369.79,446.40 L370.06,445.00 L370.27,443.40 L370.47,441.80 L370.66,440.20 L370.84,438.60 L370.85,437.00Z" fill="#36a4d8" stroke="#0e4066" stroke-width="0.65" stroke-linejoin="round"/>
<line x1="367.83933562985294" y1="458" x2="374.56066437014704" y2="458" stroke="#0a3050" stroke-width="0.9"/>
<path d="M382.85,446.50 L382.89,446.90 L383.07,447.30 L383.28,447.70 L383.49,448.10 L383.72,448.50 L383.57,448.90 L383.43,449.30 L383.29,449.70 L383.16,450.10 L383.04,450.50 L383.26,450.94 L383.49,451.38 L383.74,451.82 L384.00,452.26 L384.27,452.70 L384.50,453.86 L384.74,455.02 L384.99,456.18 L385.24,457.34 L385.50,458.50 L384.84,459.34 L384.23,460.18 L383.66,461.02 L383.15,461.86 L382.85,462.70 L382.15,462.70 L381.85,461.86 L381.34,461.02 L380.77,460.18 L380.16,459.34 L379.50,458.50 L379.76,457.34 L380.01,456.18 L380.26,455.02 L380.50,453.86 L380.73,452.70 L381.00,452.26 L381.26,451.82 L381.51,451.38 L381.74,450.94 L381.96,450.50 L381.84,450.10 L381.71,449.70 L381.57,449.30 L381.43,448.90 L381.28,448.50 L381.51,448.10 L381.72,447.70 L381.93,447.30 L382.11,446.90 L382.15,446.50Z" fill="#36a4d8" stroke="#0e4066" stroke-width="0.65" stroke-linejoin="round"/>
<line x1="379.8609303304313" y1="458" x2="385.1390696695687" y2="458" stroke="#0a3050" stroke-width="0.9"/>
<path d="M393.65,444.00 L393.79,444.78 L394.11,445.56 L394.46,446.34 L394.84,447.12 L395.25,447.90 L395.50,449.44 L395.77,450.98 L396.04,452.52 L396.32,454.06 L396.60,455.60 L396.47,456.48 L396.34,457.36 L396.22,458.24 L396.09,459.12 L395.97,460.00 L395.39,460.66 L394.84,461.32 L394.34,461.98 L393.89,462.64 L393.65,463.30 L392.95,463.30 L392.71,462.64 L392.26,461.98 L391.76,461.32 L391.21,460.66 L390.63,460.00 L390.51,459.12 L390.38,458.24 L390.26,457.36 L390.13,456.48 L390.00,455.60 L390.28,454.06 L390.56,452.52 L390.83,450.98 L391.10,449.44 L391.35,447.90 L391.76,447.12 L392.14,446.34 L392.49,445.56 L392.81,444.78 L392.95,444.00Z" fill="#36a4d8" stroke="#0e4066" stroke-width="0.65" stroke-linejoin="round"/>
<line x1="390.9016083862576" y1="452" x2="395.69839161374244" y2="452" stroke="#0a3050" stroke-width="0.55"/>
<line x1="390.308820390026" y1="456" x2="396.291179609974" y2="456" stroke="#0a3050" stroke-width="0.9"/>
<line x1="390.8846683356346" y1="460" x2="395.7153316643654" y2="460" stroke="#0a3050" stroke-width="0.55"/>
<line x1="404.2" y1="435.5" x2="404.2" y2="450.5" stroke="#333" stroke-width="0.95"/>
<path d="M404.55,450.00 L404.73,450.30 L405.11,450.60 L405.53,450.90 L405.98,451.20 L406.46,451.50 L406.70,451.80 L406.94,452.10 L407.19,452.40 L407.44,452.70 L407.70,453.00 L407.44,453.50 L407.19,454.00 L406.94,454.50 L406.70,455.00 L406.46,455.50 L405.98,456.10 L405.53,456.70 L405.11,457.30 L404.73,457.90 L404.55,458.50 L403.85,458.50 L403.67,457.90 L403.29,457.30 L402.87,456.70 L402.42,456.10 L401.94,455.50 L401.70,455.00 L401.46,454.50 L401.21,454.00 L400.96,453.50 L400.70,453.00 L400.96,452.70 L401.21,452.40 L401.46,452.10 L401.70,451.80 L401.94,451.50 L402.42,451.20 L402.87,450.90 L403.29,450.60 L403.67,450.30 L403.85,450.00Z" fill="#36a4d8" stroke="#0e4066" stroke-width="0.65" stroke-linejoin="round"/>
<line x1="400.95" y1="453" x2="407.45" y2="453" stroke="#0a3050" stroke-width="0.9"/>
<path d="M404.55,435.00 L404.56,435.30 L404.75,435.60 L404.95,435.90 L405.17,436.20 L405.40,436.50 L405.17,436.80 L404.95,437.10 L404.75,437.40 L404.56,437.70 L404.55,438.00 L403.85,438.00 L403.84,437.70 L403.65,437.40 L403.45,437.10 L403.23,436.80 L403.00,436.50 L403.23,436.20 L403.45,435.90 L403.65,435.60 L403.84,435.30 L403.85,435.00Z" fill="#36a4d8" stroke="#0e4066" stroke-width="0.65" stroke-linejoin="round"/>
<path d="M423.05,428.00 L423.05,430.40 L423.08,432.80 L423.12,435.20 L423.16,437.60 L423.20,440.00 L423.26,441.40 L423.32,442.80 L423.38,444.20 L423.44,445.60 L423.50,447.00 L423.64,447.80 L423.78,448.60 L423.92,449.40 L424.06,450.20 L424.20,451.00 L424.42,451.60 L424.64,452.20 L424.86,452.80 L425.08,453.40 L425.30,454.00 L425.48,454.60 L425.66,455.20 L425.84,455.80 L426.02,456.40 L426.20,457.00 L426.30,457.60 L426.40,458.20 L426.50,458.80 L426.60,459.40 L426.70,460.00 L426.62,460.60 L426.54,461.20 L426.46,461.80 L426.38,462.40 L426.30,463.00 L426.06,463.70 L425.82,464.40 L425.58,465.10 L425.34,465.80 L425.10,466.50 L424.82,467.10 L424.54,467.70 L424.26,468.30 L423.98,468.90 L423.70,469.50 L423.56,469.84 L423.42,470.18 L423.28,470.52 L423.14,470.86 L423.05,471.20 L422.35,471.20 L422.26,470.86 L422.12,470.52 L421.98,470.18 L421.84,469.84 L421.70,469.50 L421.42,468.90 L421.14,468.30 L420.86,467.70 L420.58,467.10 L420.30,466.50 L420.06,465.80 L419.82,465.10 L419.58,464.40 L419.34,463.70 L419.10,463.00 L419.02,462.40 L418.94,461.80 L418.86,461.20 L418.78,460.60 L418.70,460.00 L418.80,459.40 L418.90,458.80 L419.00,458.20 L419.10,457.60 L419.20,457.00 L419.38,456.40 L419.56,455.80 L419.74,455.20 L419.92,454.60 L420.10,454.00 L420.32,453.40 L420.54,452.80 L420.76,452.20 L420.98,451.60 L421.20,451.00 L421.34,450.20 L421.48,449.40 L421.62,448.60 L421.76,447.80 L421.90,447.00 L421.96,445.60 L422.02,444.20 L422.08,442.80 L422.14,441.40 L422.20,440.00 L422.24,437.60 L422.28,435.20 L422.32,432.80 L422.35,430.40 L422.35,428.00Z" fill="#d0126c" stroke="#50062a" stroke-width="0.65" stroke-linejoin="round"/>
<line x1="419.01666666666665" y1="460.5" x2="426.3833333333333" y2="460.5" stroke="#40001a" stroke-width="0.9"/>
<path d="M434.45,451.00 L434.54,451.40 L434.78,451.80 L435.05,452.20 L435.34,452.60 L435.64,453.00 L435.92,453.86 L436.20,454.72 L436.49,455.58 L436.79,456.44 L437.10,457.30 L436.84,457.84 L436.59,458.38 L436.34,458.92 L436.10,459.46 L435.87,460.00 L435.51,460.46 L435.17,460.92 L434.86,461.38 L434.57,461.84 L434.45,462.30 L433.75,462.30 L433.63,461.84 L433.34,461.38 L433.03,460.92 L432.69,460.46 L432.33,460.00 L432.10,459.46 L431.86,458.92 L431.61,458.38 L431.36,457.84 L431.10,457.30 L431.41,456.44 L431.71,455.58 L432.00,454.72 L432.28,453.86 L432.56,453.00 L432.86,452.60 L433.15,452.20 L433.42,451.80 L433.66,451.40 L433.75,451.00Z" fill="#d0126c" stroke="#50062a" stroke-width="0.65" stroke-linejoin="round"/>
<line x1="431.35" y1="457.3" x2="436.85" y2="457.3" stroke="#40001a" stroke-width="0.9"/>
<path d="M445.35,446.00 L445.47,446.60 L445.76,447.20 L446.07,447.80 L446.41,448.40 L446.77,449.00 L447.00,450.30 L447.24,451.60 L447.49,452.90 L447.74,454.20 L448.00,455.50 L447.79,456.20 L447.59,456.90 L447.39,457.60 L447.20,458.30 L447.00,459.00 L446.59,459.66 L446.20,460.32 L445.83,460.98 L445.50,461.64 L445.35,462.30 L444.65,462.30 L444.50,461.64 L444.17,460.98 L443.80,460.32 L443.41,459.66 L443.00,459.00 L442.80,458.30 L442.61,457.60 L442.41,456.90 L442.21,456.20 L442.00,455.50 L442.26,454.20 L442.51,452.90 L442.76,451.60 L443.00,450.30 L443.23,449.00 L443.59,448.40 L443.93,447.80 L444.24,447.20 L444.53,446.60 L444.65,446.00Z" fill="#d0126c" stroke="#50062a" stroke-width="0.65" stroke-linejoin="round"/>
<line x1="442.25" y1="455.5" x2="447.75" y2="455.5" stroke="#40001a" stroke-width="0.9"/>
<path d="M456.45,446.00 L456.54,446.50 L456.78,447.00 L457.05,447.50 L457.34,448.00 L457.64,448.50 L457.58,449.00 L457.51,449.50 L457.45,450.00 L457.38,450.50 L457.32,451.00 L457.64,451.60 L457.99,452.20 L458.34,452.80 L458.72,453.40 L459.10,454.00 L458.84,454.60 L458.59,455.20 L458.34,455.80 L458.10,456.40 L457.87,457.00 L457.51,457.80 L457.17,458.60 L456.86,459.40 L456.57,460.20 L456.45,461.00 L455.75,461.00 L455.63,460.20 L455.34,459.40 L455.03,458.60 L454.69,457.80 L454.33,457.00 L454.10,456.40 L453.86,455.80 L453.61,455.20 L453.36,454.60 L453.10,454.00 L453.48,453.40 L453.86,452.80 L454.21,452.20 L454.56,451.60 L454.88,451.00 L454.82,450.50 L454.75,450.00 L454.69,449.50 L454.62,449.00 L454.56,448.50 L454.86,448.00 L455.15,447.50 L455.42,447.00 L455.66,446.50 L455.75,446.00Z" fill="#d0126c" stroke="#50062a" stroke-width="0.65" stroke-linejoin="round"/>
<line x1="453.35" y1="454" x2="458.85" y2="454" stroke="#40001a" stroke-width="0.9"/>
<line x1="474.0" y1="470.1" x2="474.0" y2="481.3" stroke="#444" stroke-width="0.95"/>
<path d="M474.35,397.00 L474.42,398.00 L474.54,399.00 L474.66,400.00 L474.78,401.00 L474.90,402.00 L474.96,403.00 L475.02,404.00 L475.08,405.00 L475.14,406.00 L475.20,407.00 L475.16,408.20 L475.12,409.40 L475.08,410.60 L475.04,411.80 L475.00,413.00 L474.94,414.40 L474.88,415.80 L474.82,417.20 L474.76,418.60 L474.70,420.00 L474.68,421.20 L474.66,422.40 L474.64,423.60 L474.62,424.80 L474.60,426.00 L474.66,427.40 L474.72,428.80 L474.78,430.20 L474.84,431.60 L474.90,433.00 L475.02,434.40 L475.14,435.80 L475.26,437.20 L475.38,438.60 L475.50,440.00 L475.68,441.20 L475.86,442.40 L476.04,443.60 L476.22,444.80 L476.40,446.00 L476.56,447.20 L476.72,448.40 L476.88,449.60 L477.04,450.80 L477.20,452.00 L477.26,453.00 L477.32,454.00 L477.38,455.00 L477.44,456.00 L477.50,457.00 L477.36,457.80 L477.22,458.60 L477.08,459.40 L476.94,460.20 L476.80,461.00 L476.56,461.80 L476.32,462.60 L476.08,463.40 L475.84,464.20 L475.60,465.00 L475.44,465.60 L475.28,466.20 L475.12,466.80 L474.96,467.40 L474.80,468.00 L474.70,468.52 L474.60,469.04 L474.50,469.56 L474.40,470.08 L474.35,470.60 L473.65,470.60 L473.60,470.08 L473.50,469.56 L473.40,469.04 L473.30,468.52 L473.20,468.00 L473.04,467.40 L472.88,466.80 L472.72,466.20 L472.56,465.60 L472.40,465.00 L472.16,464.20 L471.92,463.40 L471.68,462.60 L471.44,461.80 L471.20,461.00 L471.06,460.20 L470.92,459.40 L470.78,458.60 L470.64,457.80 L470.50,457.00 L470.56,456.00 L470.62,455.00 L470.68,454.00 L470.74,453.00 L470.80,452.00 L470.96,450.80 L471.12,449.60 L471.28,448.40 L471.44,447.20 L471.60,446.00 L471.78,444.80 L471.96,443.60 L472.14,442.40 L472.32,441.20 L472.50,440.00 L472.62,438.60 L472.74,437.20 L472.86,435.80 L472.98,434.40 L473.10,433.00 L473.16,431.60 L473.22,430.20 L473.28,428.80 L473.34,427.40 L473.40,426.00 L473.38,424.80 L473.36,423.60 L473.34,422.40 L473.32,421.20 L473.30,420.00 L473.24,418.60 L473.18,417.20 L473.12,415.80 L473.06,414.40 L473.00,413.00 L472.96,411.80 L472.92,410.60 L472.88,409.40 L472.84,408.20 L472.80,407.00 L472.86,406.00 L472.92,405.00 L472.98,404.00 L473.04,403.00 L473.10,402.00 L473.22,401.00 L473.34,400.00 L473.46,399.00 L473.58,398.00 L473.65,397.00Z" fill="#c6ce98" stroke="#464e30" stroke-width="0.65" stroke-linejoin="round"/>
<line x1="470.96" y1="453.5" x2="477.04" y2="453.5" stroke="#3a4020" stroke-width="0.55"/>
<line x1="470.75" y1="457" x2="477.25" y2="457" stroke="#3a4020" stroke-width="0.9"/>
<line x1="471.3625" y1="460.5" x2="476.6375" y2="460.5" stroke="#3a4020" stroke-width="0.55"/>
<path d="M485.75,447.00 L485.85,447.60 L486.12,448.20 L486.42,448.80 L486.75,449.40 L487.09,450.00 L487.43,451.46 L487.78,452.92 L488.14,454.38 L488.52,455.84 L488.90,457.30 L488.64,458.04 L488.39,458.78 L488.14,459.52 L487.90,460.26 L487.66,461.00 L487.18,461.40 L486.73,461.80 L486.31,462.20 L485.93,462.60 L485.75,463.00 L485.05,463.00 L484.87,462.60 L484.49,462.20 L484.07,461.80 L483.62,461.40 L483.14,461.00 L482.90,460.26 L482.66,459.52 L482.41,458.78 L482.16,458.04 L481.90,457.30 L482.28,455.84 L482.66,454.38 L483.02,452.92 L483.37,451.46 L483.71,450.00 L484.05,449.40 L484.38,448.80 L484.68,448.20 L484.95,447.60 L485.05,447.00Z" fill="#c6ce98" stroke="#464e30" stroke-width="0.65" stroke-linejoin="round"/>
<line x1="483.0034885584084" y1="454" x2="487.7965114415916" y2="454" stroke="#3a4020" stroke-width="0.55"/>
<line x1="482.15" y1="457.3" x2="488.65" y2="457.3" stroke="#3a4020" stroke-width="0.9"/>
<line x1="483.066797404457" y1="460" x2="487.73320259554293" y2="460" stroke="#3a4020" stroke-width="0.55"/>
<line x1="496.5" y1="438.3" x2="496.5" y2="446.5" stroke="#444" stroke-width="0.95"/>
<path d="M496.85,446.00 L497.00,446.60 L497.33,447.20 L497.70,447.80 L498.10,448.40 L498.53,449.00 L498.81,450.14 L499.09,451.28 L499.39,452.42 L499.69,453.56 L500.00,454.70 L499.74,455.36 L499.49,456.02 L499.24,456.68 L499.00,457.34 L498.76,458.00 L498.28,458.60 L497.83,459.20 L497.41,459.80 L497.03,460.40 L496.85,461.00 L496.15,461.00 L495.97,460.40 L495.59,459.80 L495.17,459.20 L494.72,458.60 L494.24,458.00 L494.00,457.34 L493.76,456.68 L493.51,456.02 L493.26,455.36 L493.00,454.70 L493.31,453.56 L493.61,452.42 L493.91,451.28 L494.19,450.14 L494.47,449.00 L494.90,448.40 L495.30,447.80 L495.67,447.20 L496.00,446.60 L496.15,446.00Z" fill="#c6ce98" stroke="#464e30" stroke-width="0.65" stroke-linejoin="round"/>
<line x1="493.96936233140536" y1="452" x2="499.03063766859464" y2="452" stroke="#3a4020" stroke-width="0.55"/>
<line x1="493.25" y1="454.7" x2="499.75" y2="454.7" stroke="#3a4020" stroke-width="0.9"/>
<line x1="494.3098796900187" y1="457.5" x2="498.6901203099813" y2="457.5" stroke="#3a4020" stroke-width="0.55"/>
<line x1="507.9" y1="433.3" x2="507.9" y2="444.5" stroke="#444" stroke-width="0.95"/>
<path d="M508.25,444.00 L508.43,444.60 L508.81,445.20 L509.23,445.80 L509.68,446.40 L510.16,447.00 L510.40,448.04 L510.64,449.08 L510.89,450.12 L511.14,451.16 L511.40,452.20 L511.14,452.96 L510.89,453.72 L510.64,454.48 L510.40,455.24 L510.16,456.00 L509.68,456.76 L509.23,457.52 L508.81,458.28 L508.43,459.04 L508.25,459.80 L507.55,459.80 L507.37,459.04 L506.99,458.28 L506.57,457.52 L506.12,456.76 L505.64,456.00 L505.40,455.24 L505.16,454.48 L504.91,453.72 L504.66,452.96 L504.40,452.20 L504.66,451.16 L504.91,450.12 L505.16,449.08 L505.40,448.04 L505.64,447.00 L506.12,446.40 L506.57,445.80 L506.99,445.20 L507.37,444.60 L507.55,444.00Z" fill="#c6ce98" stroke="#464e30" stroke-width="0.65" stroke-linejoin="round"/>
<line x1="505.3088251407442" y1="449.5" x2="510.49117485925575" y2="449.5" stroke="#3a4020" stroke-width="0.55"/>
<line x1="504.65" y1="452.2" x2="511.15" y2="452.2" stroke="#3a4020" stroke-width="0.9"/>
<line x1="505.5754444079311" y1="455" x2="510.22455559206884" y2="455" stroke="#3a4020" stroke-width="0.55"/>
<rect x="0" y="0" width="520" height="1" fill="#666"/>
<rect x="0" y="0" width="1" height="554" fill="#6e6e6e"/>
<rect x="519" y="0" width="1" height="554" fill="#404040"/>
<rect x="0" y="553" width="520" height="1" fill="#383838"/>
</svg></div></body></html>
